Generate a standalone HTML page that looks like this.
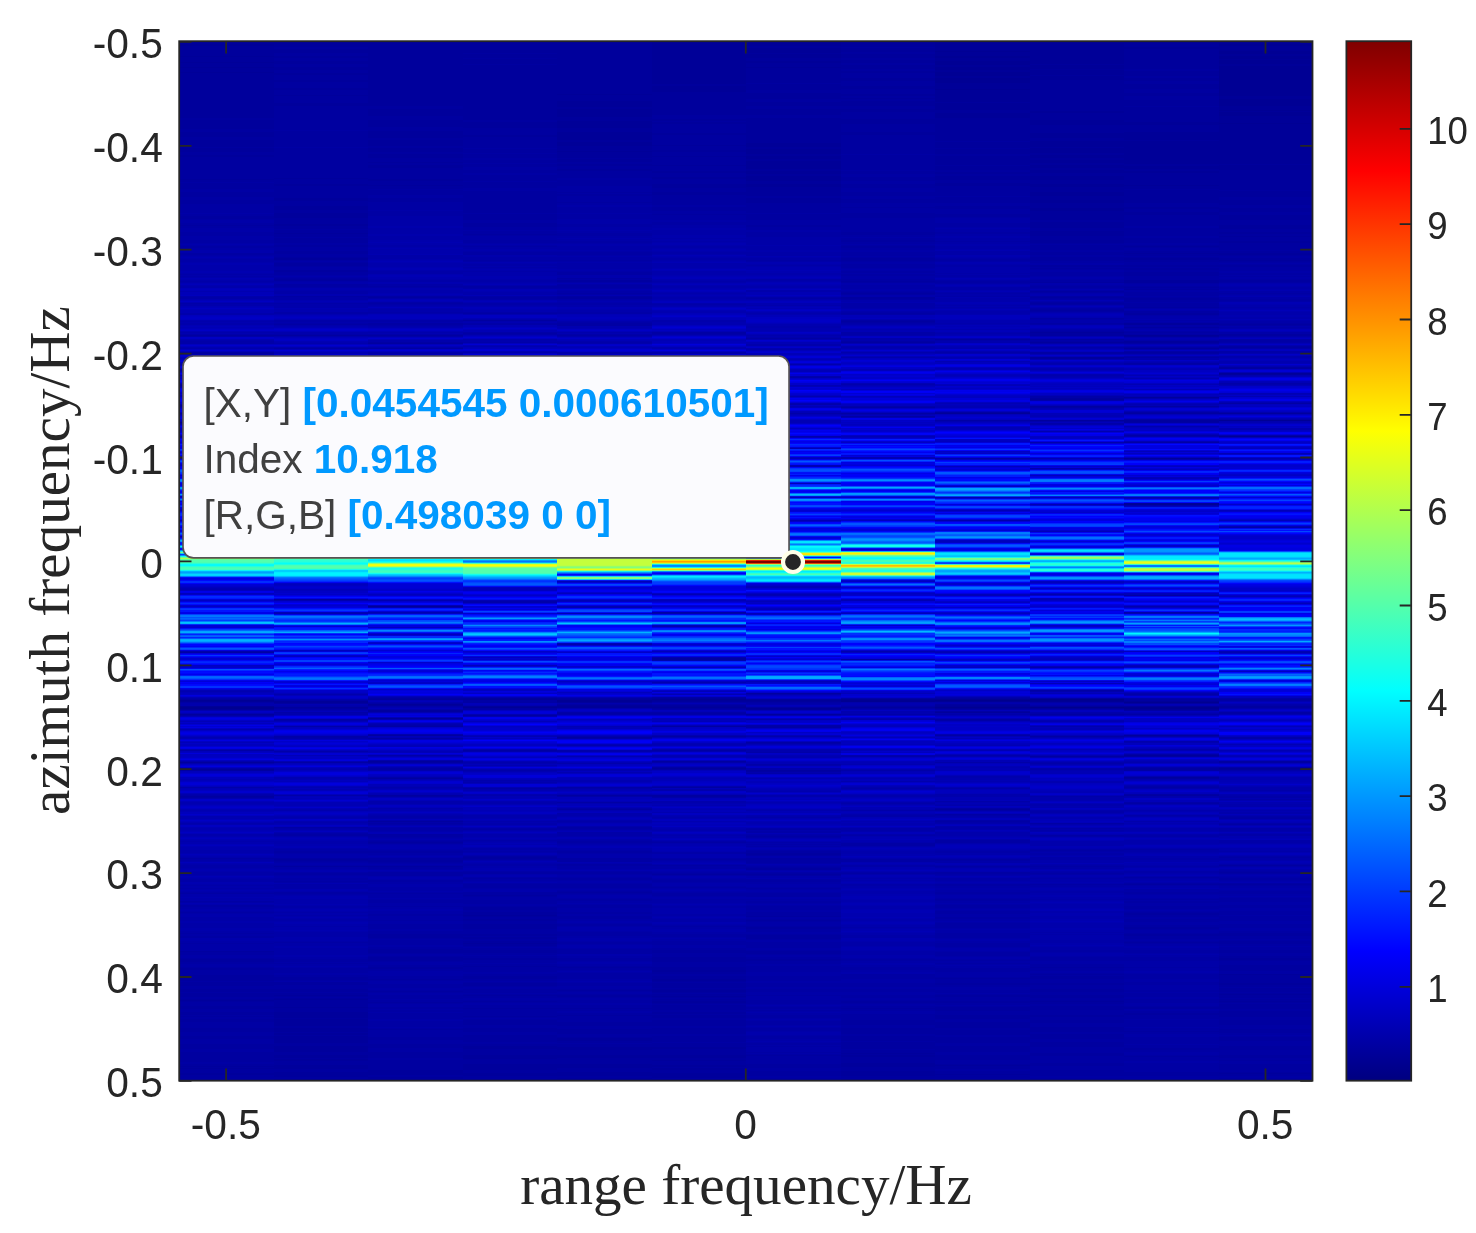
<!DOCTYPE html>
<html><head><meta charset="utf-8"><title>range frequency / azimuth frequency</title>
<style>html,body{margin:0;padding:0;background:#fff}svg{display:block}
.t{font-family:"Liberation Sans",sans-serif;font-size:40.7px;fill:#262626}
.c{font-size:36.6px}
.l{font-family:"Liberation Serif",serif;font-size:57.1px;fill:#262626}
.d{font-family:"Liberation Sans",sans-serif;font-size:40.5px;fill:#404040}
.d tspan{fill:#0099ff;font-weight:bold}
</style></head><body>
<svg width="1476" height="1233" viewBox="0 0 1476 1233">
<rect width="1476" height="1233" fill="#fff"/>
<g shape-rendering="crispEdges" fill="none" stroke-width="1">
<path stroke="#00008c" d="M935 700.5h94.5M1029.5 699.5h94.5M1029.5 707.5h94.5"/>
<path stroke="#000090" d="M179 422.5h94.5M935 707.5h94.5M1029.5 700.5h94.5M1124 702.5h94.5"/>
<path fill="#000090" d="M179 707h94.5v2h-94.5zM840.5 700h94.5v2h-94.5zM1124 707h94.5v2h-94.5z"/>
<path stroke="#000094" d="M179 700.5h94.5M462.5 413.5h94.5M462.5 707.5h94.5M651.5 421.5h94.5M651.5 699.5h94.5M746 708.5h94.5M840.5 699.5h94.5M935 51.5h94.5M935 89.5h94.5M935 699.5h94.5M935 701.5h94.5M1029.5 701.5h94.5M1124 504.5h94.5M1218.5 110.5h94M1218.5 123.5h94M1218.5 420.5h94M1218.5 436.5h94"/>
<path fill="#000094" d="M557 700h94.5v2h-94.5zM935 56h94.5v2h-94.5zM935 61h94.5v4h-94.5zM935 67h94.5v3h-94.5zM935 72h94.5v4h-94.5zM935 78h94.5v5h-94.5zM1218.5 44h94v2h-94zM1218.5 51h94v3h-94zM1218.5 56h94v3h-94zM1218.5 60h94v4h-94zM1218.5 66h94v30h-94zM1218.5 99h94v7h-94zM1218.5 112h94v4h-94z"/>
<path stroke="#000098" d="M179 56.5h94.5M179 62.5h94.5M179 67.5h94.5M179 72.5h94.5M179 436.5h94.5M179 701.5h94.5M179 706.5h94.5M179 709.5h94.5M368 606.5h94.5M368 704.5h94.5M368 718.5h94.5M462.5 699.5h94.5M557 94.5h94.5M557 151.5h94.5M651.5 700.5h94.5M651.5 707.5h94.5M746 67.5h94.5M746 700.5h94.5M746 709.5h94.5M935 413.5h94.5M935 706.5h94.5M935 708.5h94.5M1029.5 708.5h94.5M1124 185.5h94.5M1124 335.5h94.5M1124 458.5h94.5M1124 503.5h94.5M1124 701.5h94.5M1124 709.5h94.5M1124 755.5h94.5M1218.5 59.5h94M1218.5 111.5h94M1218.5 373.5h94M1218.5 768.5h94"/>
<path fill="#000098" d="M179 44h94.5v2h-94.5zM273.5 701h94.5v2h-94.5zM557 101h94.5v6h-94.5zM557 109h94.5v8h-94.5zM557 121h94.5v7h-94.5zM557 132h94.5v8h-94.5zM557 142h94.5v4h-94.5zM557 706h94.5v2h-94.5zM651.5 41h94.5v43h-94.5zM651.5 86h94.5v6h-94.5zM746 41h94.5v5h-94.5zM746 48h94.5v5h-94.5zM746 54h94.5v4h-94.5zM746 61h94.5v2h-94.5zM746 143h94.5v4h-94.5zM746 149h94.5v5h-94.5zM746 156h94.5v3h-94.5zM746 161h94.5v8h-94.5zM746 171h94.5v3h-94.5zM746 176h94.5v5h-94.5zM746 184h94.5v3h-94.5zM935 41h94.5v10h-94.5zM935 52h94.5v4h-94.5zM935 58h94.5v3h-94.5zM935 65h94.5v2h-94.5zM935 70h94.5v2h-94.5zM935 76h94.5v2h-94.5zM935 83h94.5v6h-94.5zM935 90h94.5v12h-94.5zM935 103h94.5v7h-94.5zM935 113h94.5v5h-94.5zM1029.5 41h94.5v23h-94.5zM1029.5 65h94.5v4h-94.5zM1029.5 70h94.5v5h-94.5zM1029.5 76h94.5v4h-94.5zM1029.5 111h94.5v2h-94.5zM1029.5 120h94.5v5h-94.5zM1029.5 133h94.5v5h-94.5zM1029.5 141h94.5v6h-94.5zM1029.5 148h94.5v5h-94.5zM1029.5 155h94.5v3h-94.5zM1029.5 160h94.5v3h-94.5zM1029.5 165h94.5v3h-94.5zM1029.5 170h94.5v3h-94.5zM1029.5 176h94.5v4h-94.5zM1029.5 184h94.5v3h-94.5zM1029.5 192h94.5v4h-94.5zM1029.5 200h94.5v3h-94.5zM1029.5 208h94.5v3h-94.5zM1124 41h94.5v2h-94.5zM1124 47h94.5v2h-94.5zM1124 122h94.5v3h-94.5zM1124 132h94.5v8h-94.5zM1124 141h94.5v23h-94.5zM1124 166h94.5v3h-94.5zM1124 171h94.5v2h-94.5zM1218.5 41h94v3h-94zM1218.5 46h94v5h-94zM1218.5 54h94v2h-94zM1218.5 64h94v2h-94zM1218.5 96h94v3h-94zM1218.5 106h94v4h-94zM1218.5 116h94v7h-94zM1218.5 124h94v40h-94zM1218.5 165h94v5h-94z"/>
<path stroke="#00009c" d="M179 179.5h94.5M179 385.5h94.5M179 405.5h94.5M179 423.5h94.5M179 714.5h94.5M179 762.5h94.5M179 769.5h94.5M179 1000.5h94.5M179 1066.5h94.5M179 1068.5h94.5M179 1080.5h94.5M273.5 95.5h94.5M273.5 178.5h94.5M273.5 233.5h94.5M273.5 422.5h94.5M273.5 707.5h94.5M273.5 995.5h94.5M273.5 999.5h94.5M273.5 1007.5h94.5M368 162.5h94.5M368 185.5h94.5M368 419.5h94.5M368 699.5h94.5M368 705.5h94.5M368 761.5h94.5M462.5 404.5h94.5M462.5 698.5h94.5M462.5 706.5h94.5M462.5 915.5h94.5M462.5 943.5h94.5M557 520.5h94.5M557 699.5h94.5M557 702.5h94.5M557 705.5h94.5M651.5 145.5h94.5M651.5 156.5h94.5M651.5 165.5h94.5M651.5 420.5h94.5M651.5 422.5h94.5M651.5 698.5h94.5M651.5 701.5h94.5M651.5 706.5h94.5M651.5 768.5h94.5M651.5 996.5h94.5M651.5 1060.5h94.5M746 53.5h94.5M746 701.5h94.5M746 714.5h94.5M840.5 98.5h94.5M840.5 707.5h94.5M840.5 1053.5h94.5M935 102.5h94.5M935 705.5h94.5M935 712.5h94.5M935 809.5h94.5M935 1065.5h94.5M935 1074.5h94.5M1029.5 64.5h94.5M1029.5 69.5h94.5M1029.5 75.5h94.5M1029.5 147.5h94.5M1029.5 332.5h94.5M1029.5 342.5h94.5M1029.5 399.5h94.5M1029.5 420.5h94.5M1029.5 706.5h94.5M1029.5 1001.5h94.5M1124 140.5h94.5M1124 246.5h94.5M1124 253.5h94.5M1124 336.5h94.5M1124 348.5h94.5M1124 397.5h94.5M1124 706.5h94.5M1124 735.5h94.5M1124 777.5h94.5M1218.5 164.5h94M1218.5 236.5h94M1218.5 260.5h94M1218.5 374.5h94M1218.5 413.5h94M1218.5 769.5h94M1218.5 974.5h94M1218.5 994.5h94M1218.5 1001.5h94M1218.5 1073.5h94"/>
<path fill="#00009c" d="M179 41h94.5v3h-94.5zM179 46h94.5v10h-94.5zM179 57h94.5v5h-94.5zM179 63h94.5v4h-94.5zM179 68h94.5v4h-94.5zM179 73h94.5v45h-94.5zM179 120h94.5v9h-94.5zM179 132h94.5v5h-94.5zM179 140h94.5v7h-94.5zM179 148h94.5v4h-94.5zM179 155h94.5v2h-94.5zM179 1073h94.5v2h-94.5zM273.5 41h94.5v6h-94.5zM273.5 49h94.5v4h-94.5zM273.5 56h94.5v2h-94.5zM273.5 61h94.5v3h-94.5zM273.5 67h94.5v3h-94.5zM273.5 73h94.5v2h-94.5zM273.5 80h94.5v2h-94.5zM273.5 88h94.5v2h-94.5zM273.5 103h94.5v3h-94.5zM273.5 184h94.5v2h-94.5zM273.5 198h94.5v3h-94.5zM273.5 206h94.5v4h-94.5zM273.5 213h94.5v5h-94.5zM273.5 224h94.5v2h-94.5zM273.5 258h94.5v2h-94.5zM273.5 1012h94.5v6h-94.5zM273.5 1019h94.5v7h-94.5zM273.5 1028h94.5v4h-94.5zM273.5 1033h94.5v2h-94.5zM273.5 1036h94.5v7h-94.5zM273.5 1046h94.5v6h-94.5zM273.5 1055h94.5v3h-94.5zM273.5 1059h94.5v2h-94.5zM273.5 1065h94.5v4h-94.5zM273.5 1072h94.5v5h-94.5zM273.5 1079h94.5v2h-94.5zM368 41h94.5v65h-94.5zM368 109h94.5v7h-94.5zM368 120h94.5v7h-94.5zM368 131h94.5v7h-94.5zM368 140h94.5v6h-94.5zM368 148h94.5v4h-94.5zM368 154h94.5v4h-94.5zM368 165h94.5v3h-94.5zM368 179h94.5v2h-94.5zM368 710h94.5v2h-94.5zM368 1070h94.5v5h-94.5zM368 1077h94.5v4h-94.5zM462.5 41h94.5v12h-94.5zM462.5 54h94.5v4h-94.5zM462.5 59h94.5v5h-94.5zM462.5 65h94.5v55h-94.5zM462.5 122h94.5v6h-94.5zM462.5 135h94.5v2h-94.5zM462.5 1046h94.5v3h-94.5zM462.5 1055h94.5v4h-94.5zM462.5 1064h94.5v6h-94.5zM462.5 1073h94.5v3h-94.5zM462.5 1079h94.5v2h-94.5zM557 41h94.5v53h-94.5zM557 95h94.5v6h-94.5zM557 107h94.5v2h-94.5zM557 117h94.5v4h-94.5zM557 128h94.5v4h-94.5zM557 140h94.5v2h-94.5zM557 146h94.5v5h-94.5zM557 152h94.5v6h-94.5zM557 159h94.5v3h-94.5zM557 164h94.5v2h-94.5zM557 169h94.5v2h-94.5zM557 1038h94.5v3h-94.5zM557 1047h94.5v3h-94.5zM557 1055h94.5v3h-94.5zM557 1064h94.5v4h-94.5zM557 1072h94.5v4h-94.5zM557 1078h94.5v3h-94.5zM651.5 84h94.5v2h-94.5zM651.5 92h94.5v23h-94.5zM651.5 119h94.5v2h-94.5zM651.5 122h94.5v2h-94.5zM651.5 133h94.5v2h-94.5zM651.5 150h94.5v2h-94.5zM651.5 171h94.5v2h-94.5zM651.5 177h94.5v2h-94.5zM651.5 184h94.5v4h-94.5zM651.5 192h94.5v3h-94.5zM651.5 970h94.5v2h-94.5zM651.5 979h94.5v2h-94.5zM651.5 990h94.5v2h-94.5zM651.5 1001h94.5v2h-94.5zM651.5 1047h94.5v2h-94.5zM651.5 1055h94.5v3h-94.5zM651.5 1065h94.5v2h-94.5zM651.5 1068h94.5v2h-94.5zM651.5 1073h94.5v5h-94.5zM651.5 1079h94.5v2h-94.5zM746 46h94.5v2h-94.5zM746 58h94.5v3h-94.5zM746 63h94.5v4h-94.5zM746 68h94.5v15h-94.5zM746 84h94.5v6h-94.5zM746 93h94.5v6h-94.5zM746 102h94.5v4h-94.5zM746 109h94.5v6h-94.5zM746 118h94.5v25h-94.5zM746 147h94.5v2h-94.5zM746 154h94.5v2h-94.5zM746 159h94.5v2h-94.5zM746 169h94.5v2h-94.5zM746 174h94.5v2h-94.5zM746 181h94.5v3h-94.5zM746 187h94.5v9h-94.5zM746 198h94.5v5h-94.5zM840.5 41h94.5v6h-94.5zM840.5 48h94.5v4h-94.5zM840.5 54h94.5v4h-94.5zM840.5 60h94.5v3h-94.5zM840.5 65h94.5v4h-94.5zM840.5 71h94.5v2h-94.5zM840.5 78h94.5v3h-94.5zM840.5 86h94.5v3h-94.5zM840.5 94h94.5v2h-94.5zM840.5 101h94.5v5h-94.5zM840.5 109h94.5v3h-94.5zM840.5 119h94.5v5h-94.5zM840.5 132h94.5v3h-94.5zM840.5 1055h94.5v2h-94.5zM840.5 1063h94.5v4h-94.5zM840.5 1071h94.5v5h-94.5zM840.5 1079h94.5v2h-94.5zM935 110h94.5v3h-94.5zM935 118h94.5v23h-94.5zM935 142h94.5v6h-94.5zM935 149h94.5v5h-94.5zM935 156h94.5v9h-94.5zM935 166h94.5v4h-94.5zM935 172h94.5v2h-94.5zM935 176h94.5v4h-94.5zM935 183h94.5v3h-94.5zM1029.5 80h94.5v31h-94.5zM1029.5 113h94.5v7h-94.5zM1029.5 125h94.5v8h-94.5zM1029.5 138h94.5v3h-94.5zM1029.5 153h94.5v2h-94.5zM1029.5 158h94.5v2h-94.5zM1029.5 163h94.5v2h-94.5zM1029.5 168h94.5v2h-94.5zM1029.5 173h94.5v3h-94.5zM1029.5 180h94.5v4h-94.5zM1029.5 187h94.5v5h-94.5zM1029.5 196h94.5v4h-94.5zM1029.5 203h94.5v5h-94.5zM1029.5 211h94.5v9h-94.5zM1029.5 222h94.5v6h-94.5zM1029.5 231h94.5v5h-94.5zM1029.5 240h94.5v3h-94.5zM1029.5 357h94.5v2h-94.5zM1124 43h94.5v4h-94.5zM1124 49h94.5v20h-94.5zM1124 71h94.5v5h-94.5zM1124 78h94.5v3h-94.5zM1124 84h94.5v5h-94.5zM1124 93h94.5v3h-94.5zM1124 100h94.5v6h-94.5zM1124 107h94.5v15h-94.5zM1124 125h94.5v7h-94.5zM1124 164h94.5v2h-94.5zM1124 169h94.5v2h-94.5zM1124 173h94.5v12h-94.5zM1124 186h94.5v3h-94.5zM1124 190h94.5v13h-94.5zM1124 207h94.5v2h-94.5zM1124 212h94.5v3h-94.5zM1124 258h94.5v2h-94.5zM1124 280h94.5v3h-94.5zM1124 323h94.5v2h-94.5zM1124 341h94.5v2h-94.5zM1124 420h94.5v2h-94.5zM1218.5 170h94v20h-94zM1218.5 191h94v6h-94zM1218.5 200h94v5h-94zM1218.5 208h94v4h-94zM1218.5 215h94v5h-94zM1218.5 225h94v4h-94zM1218.5 232h94v2h-94zM1218.5 241h94v2h-94zM1218.5 253h94v2h-94zM1218.5 958h94v2h-94zM1218.5 983h94v2h-94z"/>
<path stroke="#0000a0" d="M179 147.5h94.5M179 225.5h94.5M179 335.5h94.5M179 353.5h94.5M179 369.5h94.5M179 406.5h94.5M179 413.5h94.5M179 437.5h94.5M179 699.5h94.5M179 770.5h94.5M179 796.5h94.5M179 951.5h94.5M179 999.5h94.5M179 1001.5h94.5M179 1016.5h94.5M179 1067.5h94.5M273.5 257.5h94.5M273.5 335.5h94.5M273.5 599.5h94.5M273.5 703.5h94.5M273.5 708.5h94.5M273.5 866.5h94.5M273.5 996.5h94.5M273.5 998.5h94.5M273.5 1018.5h94.5M273.5 1032.5h94.5M273.5 1035.5h94.5M273.5 1058.5h94.5M368 297.5h94.5M368 335.5h94.5M368 343.5h94.5M368 420.5h94.5M368 698.5h94.5M368 735.5h94.5M368 762.5h94.5M368 778.5h94.5M368 795.5h94.5M368 821.5h94.5M368 842.5h94.5M368 866.5h94.5M368 979.5h94.5M368 991.5h94.5M368 1002.5h94.5M368 1029.5h94.5M462.5 53.5h94.5M462.5 58.5h94.5M462.5 64.5h94.5M462.5 234.5h94.5M462.5 320.5h94.5M462.5 405.5h94.5M462.5 421.5h94.5M462.5 708.5h94.5M462.5 715.5h94.5M462.5 750.5h94.5M462.5 895.5h94.5M462.5 916.5h94.5M462.5 966.5h94.5M462.5 995.5h94.5M462.5 1001.5h94.5M462.5 1008.5h94.5M462.5 1016.5h94.5M557 158.5h94.5M557 192.5h94.5M557 202.5h94.5M557 413.5h94.5M557 437.5h94.5M557 698.5h94.5M557 737.5h94.5M557 795.5h94.5M557 809.5h94.5M557 892.5h94.5M557 967.5h94.5M557 990.5h94.5M557 1008.5h94.5M557 1015.5h94.5M557 1037.5h94.5M651.5 121.5h94.5M651.5 214.5h94.5M651.5 705.5h94.5M651.5 708.5h94.5M651.5 726.5h94.5M651.5 750.5h94.5M651.5 761.5h94.5M651.5 787.5h94.5M651.5 874.5h94.5M651.5 981.5h94.5M651.5 989.5h94.5M651.5 992.5h94.5M651.5 997.5h94.5M651.5 1003.5h94.5M651.5 1067.5h94.5M651.5 1078.5h94.5M746 83.5h94.5M746 693.5h94.5M746 699.5h94.5M746 707.5h94.5M746 770.5h94.5M746 874.5h94.5M746 916.5h94.5M746 920.5h94.5M746 1055.5h94.5M840.5 47.5h94.5M840.5 207.5h94.5M840.5 281.5h94.5M840.5 293.5h94.5M840.5 321.5h94.5M840.5 342.5h94.5M840.5 659.5h94.5M840.5 1008.5h94.5M840.5 1054.5h94.5M935 141.5h94.5M935 148.5h94.5M935 165.5h94.5M935 339.5h94.5M935 412.5h94.5M935 698.5h94.5M935 704.5h94.5M935 978.5h94.5M935 1064.5h94.5M1029.5 243.5h94.5M1029.5 268.5h94.5M1029.5 282.5h94.5M1029.5 291.5h94.5M1029.5 297.5h94.5M1029.5 303.5h94.5M1029.5 310.5h94.5M1029.5 398.5h94.5M1029.5 406.5h94.5M1029.5 698.5h94.5M1029.5 714.5h94.5M1029.5 756.5h94.5M1029.5 967.5h94.5M1029.5 974.5h94.5M1029.5 1000.5h94.5M1124 106.5h94.5M1124 189.5h94.5M1124 245.5h94.5M1124 247.5h94.5M1124 257.5h94.5M1124 287.5h94.5M1124 289.5h94.5M1124 307.5h94.5M1124 327.5h94.5M1124 352.5h94.5M1124 413.5h94.5M1124 422.5h94.5M1124 703.5h94.5M1124 756.5h94.5M1124 778.5h94.5M1124 795.5h94.5M1124 884.5h94.5M1124 942.5h94.5M1124 1031.5h94.5M1124 1056.5h94.5M1218.5 190.5h94M1218.5 255.5h94M1218.5 261.5h94M1218.5 324.5h94M1218.5 347.5h94M1218.5 699.5h94M1218.5 865.5h94M1218.5 872.5h94M1218.5 884.5h94M1218.5 960.5h94M1218.5 993.5h94M1218.5 1002.5h94M1218.5 1060.5h94M1218.5 1072.5h94"/>
<path fill="#0000a0" d="M179 118h94.5v2h-94.5zM179 129h94.5v3h-94.5zM179 137h94.5v3h-94.5zM179 152h94.5v3h-94.5zM179 157h94.5v22h-94.5zM179 180h94.5v2h-94.5zM179 183h94.5v6h-94.5zM179 192h94.5v5h-94.5zM179 200h94.5v4h-94.5zM179 216h94.5v3h-94.5zM179 959h94.5v3h-94.5zM179 968h94.5v2h-94.5zM179 975h94.5v6h-94.5zM179 982h94.5v4h-94.5zM179 989h94.5v3h-94.5zM179 993h94.5v4h-94.5zM179 1006h94.5v3h-94.5zM179 1012h94.5v3h-94.5zM179 1019h94.5v3h-94.5zM179 1028h94.5v4h-94.5zM179 1036h94.5v3h-94.5zM179 1044h94.5v5h-94.5zM179 1052h94.5v10h-94.5zM179 1064h94.5v2h-94.5zM179 1069h94.5v4h-94.5zM179 1075h94.5v5h-94.5zM273.5 47h94.5v2h-94.5zM273.5 53h94.5v3h-94.5zM273.5 58h94.5v3h-94.5zM273.5 64h94.5v3h-94.5zM273.5 70h94.5v3h-94.5zM273.5 75h94.5v5h-94.5zM273.5 82h94.5v6h-94.5zM273.5 90h94.5v5h-94.5zM273.5 96h94.5v7h-94.5zM273.5 106h94.5v24h-94.5zM273.5 131h94.5v16h-94.5zM273.5 148h94.5v30h-94.5zM273.5 179h94.5v5h-94.5zM273.5 186h94.5v12h-94.5zM273.5 201h94.5v5h-94.5zM273.5 210h94.5v3h-94.5zM273.5 218h94.5v6h-94.5zM273.5 226h94.5v3h-94.5zM273.5 230h94.5v3h-94.5zM273.5 234h94.5v3h-94.5zM273.5 238h94.5v5h-94.5zM273.5 245h94.5v2h-94.5zM273.5 251h94.5v3h-94.5zM273.5 263h94.5v3h-94.5zM273.5 270h94.5v2h-94.5zM273.5 279h94.5v2h-94.5zM273.5 859h94.5v2h-94.5zM273.5 977h94.5v3h-94.5zM273.5 982h94.5v3h-94.5zM273.5 989h94.5v3h-94.5zM273.5 993h94.5v2h-94.5zM273.5 1000h94.5v7h-94.5zM273.5 1008h94.5v4h-94.5zM273.5 1026h94.5v2h-94.5zM273.5 1043h94.5v3h-94.5zM273.5 1052h94.5v3h-94.5zM273.5 1061h94.5v4h-94.5zM273.5 1069h94.5v3h-94.5zM273.5 1077h94.5v2h-94.5zM368 106h94.5v3h-94.5zM368 116h94.5v4h-94.5zM368 127h94.5v4h-94.5zM368 138h94.5v2h-94.5zM368 146h94.5v2h-94.5zM368 152h94.5v2h-94.5zM368 158h94.5v4h-94.5zM368 163h94.5v2h-94.5zM368 168h94.5v11h-94.5zM368 181h94.5v4h-94.5zM368 186h94.5v3h-94.5zM368 190h94.5v5h-94.5zM368 198h94.5v4h-94.5zM368 860h94.5v2h-94.5zM368 934h94.5v4h-94.5zM368 949h94.5v4h-94.5zM368 957h94.5v4h-94.5zM368 967h94.5v2h-94.5zM368 1037h94.5v3h-94.5zM368 1044h94.5v4h-94.5zM368 1052h94.5v6h-94.5zM368 1060h94.5v10h-94.5zM368 1075h94.5v2h-94.5zM462.5 120h94.5v2h-94.5zM462.5 128h94.5v7h-94.5zM462.5 137h94.5v11h-94.5zM462.5 149h94.5v4h-94.5zM462.5 154h94.5v4h-94.5zM462.5 160h94.5v3h-94.5zM462.5 164h94.5v3h-94.5zM462.5 170h94.5v3h-94.5zM462.5 175h94.5v6h-94.5zM462.5 182h94.5v6h-94.5zM462.5 191h94.5v22h-94.5zM462.5 214h94.5v6h-94.5zM462.5 223h94.5v4h-94.5zM462.5 857h94.5v2h-94.5zM462.5 907h94.5v3h-94.5zM462.5 912h94.5v3h-94.5zM462.5 919h94.5v2h-94.5zM462.5 924h94.5v5h-94.5zM462.5 934h94.5v2h-94.5zM462.5 937h94.5v2h-94.5zM462.5 941h94.5v2h-94.5zM462.5 944h94.5v2h-94.5zM462.5 950h94.5v3h-94.5zM462.5 958h94.5v2h-94.5zM462.5 976h94.5v3h-94.5zM462.5 983h94.5v3h-94.5zM462.5 1020h94.5v5h-94.5zM462.5 1028h94.5v4h-94.5zM462.5 1035h94.5v7h-94.5zM462.5 1044h94.5v2h-94.5zM462.5 1049h94.5v6h-94.5zM462.5 1059h94.5v5h-94.5zM462.5 1070h94.5v3h-94.5zM462.5 1076h94.5v3h-94.5zM557 162h94.5v2h-94.5zM557 166h94.5v3h-94.5zM557 171h94.5v7h-94.5zM557 180h94.5v6h-94.5zM557 194h94.5v2h-94.5zM557 280h94.5v2h-94.5zM557 297h94.5v2h-94.5zM557 995h94.5v2h-94.5zM557 1022h94.5v4h-94.5zM557 1029h94.5v5h-94.5zM557 1041h94.5v2h-94.5zM557 1044h94.5v3h-94.5zM557 1050h94.5v5h-94.5zM557 1058h94.5v6h-94.5zM557 1068h94.5v4h-94.5zM557 1076h94.5v2h-94.5zM651.5 115h94.5v4h-94.5zM651.5 124h94.5v9h-94.5zM651.5 135h94.5v10h-94.5zM651.5 146h94.5v4h-94.5zM651.5 152h94.5v4h-94.5zM651.5 157h94.5v8h-94.5zM651.5 166h94.5v5h-94.5zM651.5 173h94.5v4h-94.5zM651.5 179h94.5v5h-94.5zM651.5 188h94.5v4h-94.5zM651.5 195h94.5v10h-94.5zM651.5 207h94.5v4h-94.5zM651.5 658h94.5v2h-94.5zM651.5 795h94.5v2h-94.5zM651.5 950h94.5v3h-94.5zM651.5 957h94.5v5h-94.5zM651.5 967h94.5v3h-94.5zM651.5 972h94.5v2h-94.5zM651.5 976h94.5v3h-94.5zM651.5 983h94.5v5h-94.5zM651.5 994h94.5v2h-94.5zM651.5 999h94.5v2h-94.5zM651.5 1005h94.5v5h-94.5zM651.5 1012h94.5v2h-94.5zM651.5 1015h94.5v3h-94.5zM651.5 1020h94.5v6h-94.5zM651.5 1028h94.5v6h-94.5zM651.5 1036h94.5v6h-94.5zM651.5 1043h94.5v4h-94.5zM651.5 1049h94.5v6h-94.5zM651.5 1058h94.5v2h-94.5zM651.5 1061h94.5v4h-94.5zM651.5 1070h94.5v3h-94.5zM746 90h94.5v3h-94.5zM746 99h94.5v3h-94.5zM746 106h94.5v3h-94.5zM746 115h94.5v3h-94.5zM746 196h94.5v2h-94.5zM746 203h94.5v10h-94.5zM746 214h94.5v6h-94.5zM746 225h94.5v2h-94.5zM746 853h94.5v2h-94.5zM746 868h94.5v2h-94.5zM746 927h94.5v2h-94.5zM746 935h94.5v4h-94.5zM746 951h94.5v3h-94.5zM746 959h94.5v2h-94.5zM746 1064h94.5v4h-94.5zM746 1071h94.5v5h-94.5zM746 1078h94.5v3h-94.5zM840.5 52h94.5v2h-94.5zM840.5 58h94.5v2h-94.5zM840.5 63h94.5v2h-94.5zM840.5 69h94.5v2h-94.5zM840.5 73h94.5v5h-94.5zM840.5 81h94.5v5h-94.5zM840.5 89h94.5v5h-94.5zM840.5 96h94.5v2h-94.5zM840.5 99h94.5v2h-94.5zM840.5 106h94.5v3h-94.5zM840.5 112h94.5v7h-94.5zM840.5 124h94.5v8h-94.5zM840.5 135h94.5v19h-94.5zM840.5 155h94.5v15h-94.5zM840.5 171h94.5v3h-94.5zM840.5 177h94.5v4h-94.5zM840.5 184h94.5v4h-94.5zM840.5 192h94.5v4h-94.5zM840.5 199h94.5v4h-94.5zM840.5 213h94.5v5h-94.5zM840.5 232h94.5v3h-94.5zM840.5 240h94.5v2h-94.5zM840.5 246h94.5v2h-94.5zM840.5 258h94.5v3h-94.5zM840.5 297h94.5v2h-94.5zM840.5 1001h94.5v2h-94.5zM840.5 1020h94.5v5h-94.5zM840.5 1028h94.5v6h-94.5zM840.5 1036h94.5v5h-94.5zM840.5 1042h94.5v7h-94.5zM840.5 1050h94.5v3h-94.5zM840.5 1057h94.5v6h-94.5zM840.5 1067h94.5v4h-94.5zM840.5 1076h94.5v3h-94.5zM935 154h94.5v2h-94.5zM935 170h94.5v2h-94.5zM935 174h94.5v2h-94.5zM935 180h94.5v3h-94.5zM935 186h94.5v10h-94.5zM935 197h94.5v6h-94.5zM935 206h94.5v3h-94.5zM935 214h94.5v3h-94.5zM935 983h94.5v2h-94.5zM935 995h94.5v2h-94.5zM935 1001h94.5v2h-94.5zM935 1007h94.5v4h-94.5zM935 1015h94.5v4h-94.5zM935 1022h94.5v6h-94.5zM935 1030h94.5v5h-94.5zM935 1037h94.5v6h-94.5zM935 1046h94.5v6h-94.5zM935 1055h94.5v5h-94.5zM935 1066h94.5v3h-94.5zM935 1071h94.5v3h-94.5zM935 1075h94.5v6h-94.5zM1029.5 220h94.5v2h-94.5zM1029.5 228h94.5v3h-94.5zM1029.5 236h94.5v4h-94.5zM1029.5 245h94.5v5h-94.5zM1029.5 252h94.5v3h-94.5zM1029.5 257h94.5v4h-94.5zM1029.5 265h94.5v2h-94.5zM1029.5 333h94.5v3h-94.5zM1029.5 976h94.5v3h-94.5zM1029.5 983h94.5v2h-94.5zM1029.5 989h94.5v3h-94.5zM1029.5 995h94.5v3h-94.5zM1029.5 1002h94.5v2h-94.5zM1029.5 1006h94.5v4h-94.5zM1029.5 1015h94.5v2h-94.5zM1029.5 1020h94.5v3h-94.5zM1029.5 1027h94.5v5h-94.5zM1029.5 1034h94.5v5h-94.5zM1029.5 1042h94.5v5h-94.5zM1029.5 1053h94.5v3h-94.5zM1029.5 1063h94.5v3h-94.5zM1029.5 1070h94.5v6h-94.5zM1029.5 1078h94.5v3h-94.5zM1124 69h94.5v2h-94.5zM1124 76h94.5v2h-94.5zM1124 81h94.5v3h-94.5zM1124 89h94.5v4h-94.5zM1124 96h94.5v4h-94.5zM1124 203h94.5v4h-94.5zM1124 209h94.5v3h-94.5zM1124 215h94.5v11h-94.5zM1124 228h94.5v8h-94.5zM1124 238h94.5v5h-94.5zM1124 251h94.5v2h-94.5zM1124 254h94.5v2h-94.5zM1124 260h94.5v2h-94.5zM1124 265h94.5v2h-94.5zM1124 268h94.5v2h-94.5zM1124 272h94.5v4h-94.5zM1124 298h94.5v2h-94.5zM1124 313h94.5v2h-94.5zM1124 699h94.5v2h-94.5zM1124 768h94.5v2h-94.5zM1124 913h94.5v2h-94.5zM1124 927h94.5v2h-94.5zM1124 934h94.5v2h-94.5zM1124 1007h94.5v2h-94.5zM1124 1013h94.5v2h-94.5zM1124 1048h94.5v2h-94.5zM1124 1072h94.5v4h-94.5zM1124 1079h94.5v2h-94.5zM1218.5 197h94v3h-94zM1218.5 205h94v3h-94zM1218.5 212h94v3h-94zM1218.5 220h94v5h-94zM1218.5 229h94v3h-94zM1218.5 234h94v2h-94zM1218.5 237h94v4h-94zM1218.5 243h94v7h-94zM1218.5 251h94v2h-94zM1218.5 258h94v2h-94zM1218.5 265h94v2h-94zM1218.5 280h94v2h-94zM1218.5 334h94v2h-94zM1218.5 367h94v2h-94zM1218.5 706h94v2h-94zM1218.5 761h94v2h-94zM1218.5 933h94v3h-94zM1218.5 941h94v3h-94zM1218.5 950h94v3h-94zM1218.5 956h94v2h-94zM1218.5 965h94v6h-94zM1218.5 975h94v8h-94zM1218.5 985h94v2h-94zM1218.5 988h94v4h-94zM1218.5 995h94v3h-94zM1218.5 999h94v2h-94zM1218.5 1004h94v5h-94zM1218.5 1011h94v6h-94zM1218.5 1020h94v5h-94zM1218.5 1029h94v4h-94zM1218.5 1037h94v4h-94zM1218.5 1046h94v4h-94zM1218.5 1055h94v3h-94zM1218.5 1064h94v6h-94zM1218.5 1074h94v2h-94zM1218.5 1078h94v3h-94z"/>
<path stroke="#0000a4" d="M179 182.5h94.5M179 219.5h94.5M179 352.5h94.5M179 370.5h94.5M179 384.5h94.5M179 386.5h94.5M179 652.5h94.5M179 702.5h94.5M179 715.5h94.5M179 750.5h94.5M179 797.5h94.5M179 858.5h94.5M179 893.5h94.5M179 901.5h94.5M179 912.5h94.5M179 933.5h94.5M179 943.5h94.5M179 958.5h94.5M179 967.5h94.5M179 981.5h94.5M179 992.5h94.5M179 1015.5h94.5M273.5 130.5h94.5M273.5 147.5h94.5M273.5 229.5h94.5M273.5 237.5h94.5M273.5 260.5h94.5M273.5 262.5h94.5M273.5 266.5h94.5M273.5 278.5h94.5M273.5 296.5h94.5M273.5 324.5h94.5M273.5 348.5h94.5M273.5 363.5h94.5M273.5 413.5h94.5M273.5 468.5h94.5M273.5 700.5h94.5M273.5 762.5h94.5M273.5 827.5h94.5M273.5 858.5h94.5M273.5 861.5h94.5M273.5 881.5h94.5M273.5 942.5h94.5M273.5 963.5h94.5M273.5 980.5h94.5M273.5 992.5h94.5M273.5 997.5h94.5M368 189.5h94.5M368 286.5h94.5M368 296.5h94.5M368 303.5h94.5M368 342.5h94.5M368 348.5h94.5M368 385.5h94.5M368 458.5h94.5M368 703.5h94.5M368 726.5h94.5M368 738.5h94.5M368 796.5h94.5M368 823.5h94.5M368 841.5h94.5M368 843.5h94.5M368 862.5h94.5M368 893.5h94.5M368 906.5h94.5M368 920.5h94.5M368 938.5h94.5M368 953.5h94.5M368 956.5h94.5M368 961.5h94.5M368 980.5h94.5M368 990.5h94.5M368 992.5h94.5M368 1003.5h94.5M368 1028.5h94.5M462.5 148.5h94.5M462.5 153.5h94.5M462.5 163.5h94.5M462.5 181.5h94.5M462.5 213.5h94.5M462.5 235.5h94.5M462.5 246.5h94.5M462.5 260.5h94.5M462.5 313.5h94.5M462.5 333.5h94.5M462.5 709.5h94.5M462.5 788.5h94.5M462.5 829.5h94.5M462.5 856.5h94.5M462.5 859.5h94.5M462.5 878.5h94.5M462.5 896.5h94.5M462.5 906.5h94.5M462.5 936.5h94.5M462.5 946.5h94.5M462.5 982.5h94.5M462.5 986.5h94.5M462.5 994.5h94.5M462.5 1000.5h94.5M462.5 1002.5h94.5M462.5 1017.5h94.5M462.5 1019.5h94.5M557 193.5h94.5M557 260.5h94.5M557 278.5h94.5M557 293.5h94.5M557 296.5h94.5M557 335.5h94.5M557 388.5h94.5M557 414.5h94.5M557 422.5h94.5M557 704.5h94.5M557 713.5h94.5M557 787.5h94.5M557 802.5h94.5M557 891.5h94.5M557 893.5h94.5M557 966.5h94.5M557 989.5h94.5M557 991.5h94.5M557 994.5h94.5M557 997.5h94.5M557 1043.5h94.5M651.5 385.5h94.5M651.5 403.5h94.5M651.5 612.5h94.5M651.5 697.5h94.5M651.5 713.5h94.5M651.5 736.5h94.5M651.5 767.5h94.5M651.5 769.5h94.5M651.5 842.5h94.5M651.5 859.5h94.5M651.5 865.5h94.5M651.5 873.5h94.5M651.5 887.5h94.5M651.5 926.5h94.5M651.5 982.5h94.5M651.5 988.5h94.5M651.5 993.5h94.5M651.5 998.5h94.5M651.5 1004.5h94.5M651.5 1014.5h94.5M651.5 1042.5h94.5M746 213.5h94.5M746 260.5h94.5M746 298.5h94.5M746 338.5h94.5M746 702.5h94.5M746 742.5h94.5M746 771.5h94.5M746 829.5h94.5M746 836.5h94.5M746 855.5h94.5M746 867.5h94.5M746 873.5h94.5M746 875.5h94.5M746 888.5h94.5M746 919.5h94.5M746 921.5h94.5M746 926.5h94.5M746 934.5h94.5M746 939.5h94.5M746 950.5h94.5M746 954.5h94.5M746 995.5h94.5M746 1010.5h94.5M746 1046.5h94.5M746 1052.5h94.5M746 1054.5h94.5M840.5 154.5h94.5M840.5 170.5h94.5M840.5 245.5h94.5M840.5 257.5h94.5M840.5 261.5h94.5M840.5 282.5h94.5M840.5 292.5h94.5M840.5 294.5h94.5M840.5 299.5h94.5M840.5 313.5h94.5M840.5 320.5h94.5M840.5 322.5h94.5M840.5 341.5h94.5M840.5 407.5h94.5M840.5 413.5h94.5M840.5 416.5h94.5M840.5 698.5h94.5M840.5 706.5h94.5M840.5 708.5h94.5M840.5 873.5h94.5M840.5 1000.5h94.5M840.5 1003.5h94.5M840.5 1041.5h94.5M840.5 1049.5h94.5M935 196.5h94.5M935 217.5h94.5M935 241.5h94.5M935 420.5h94.5M935 458.5h94.5M935 520.5h94.5M935 709.5h94.5M935 711.5h94.5M935 735.5h94.5M935 808.5h94.5M935 810.5h94.5M935 814.5h94.5M935 821.5h94.5M935 866.5h94.5M935 960.5h94.5M935 963.5h94.5M935 977.5h94.5M935 994.5h94.5M935 1006.5h94.5M1029.5 244.5h94.5M1029.5 267.5h94.5M1029.5 269.5h94.5M1029.5 292.5h94.5M1029.5 296.5h94.5M1029.5 298.5h94.5M1029.5 302.5h94.5M1029.5 304.5h94.5M1029.5 309.5h94.5M1029.5 311.5h94.5M1029.5 318.5h94.5M1029.5 323.5h94.5M1029.5 331.5h94.5M1029.5 339.5h94.5M1029.5 341.5h94.5M1029.5 407.5h94.5M1029.5 690.5h94.5M1029.5 702.5h94.5M1029.5 736.5h94.5M1029.5 823.5h94.5M1029.5 835.5h94.5M1029.5 850.5h94.5M1029.5 866.5h94.5M1029.5 873.5h94.5M1029.5 884.5h94.5M1029.5 973.5h94.5M1029.5 975.5h94.5M1124 256.5h94.5M1124 267.5h94.5M1124 283.5h94.5M1124 286.5h94.5M1124 288.5h94.5M1124 297.5h94.5M1124 332.5h94.5M1124 334.5h94.5M1124 343.5h94.5M1124 347.5h94.5M1124 353.5h94.5M1124 357.5h94.5M1124 363.5h94.5M1124 406.5h94.5M1124 412.5h94.5M1124 435.5h94.5M1124 442.5h94.5M1124 595.5h94.5M1124 710.5h94.5M1124 714.5h94.5M1124 754.5h94.5M1124 770.5h94.5M1124 787.5h94.5M1124 794.5h94.5M1124 803.5h94.5M1124 849.5h94.5M1124 877.5h94.5M1124 883.5h94.5M1124 899.5h94.5M1124 912.5h94.5M1124 929.5h94.5M1124 933.5h94.5M1124 941.5h94.5M1124 943.5h94.5M1124 967.5h94.5M1124 1006.5h94.5M1124 1055.5h94.5M1218.5 250.5h94M1218.5 262.5h94M1218.5 264.5h94M1218.5 276.5h94M1218.5 279.5h94M1218.5 282.5h94M1218.5 293.5h94M1218.5 323.5h94M1218.5 325.5h94M1218.5 346.5h94M1218.5 403.5h94M1218.5 700.5h94M1218.5 767.5h94M1218.5 824.5h94M1218.5 857.5h94M1218.5 871.5h94M1218.5 873.5h94M1218.5 883.5h94M1218.5 885.5h94M1218.5 940.5h94M1218.5 987.5h94M1218.5 992.5h94M1218.5 998.5h94M1218.5 1003.5h94M1218.5 1036.5h94"/>
<path fill="#0000a4" d="M179 189h94.5v3h-94.5zM179 197h94.5v3h-94.5zM179 204h94.5v9h-94.5zM179 214h94.5v2h-94.5zM179 223h94.5v2h-94.5zM179 226h94.5v2h-94.5zM179 232h94.5v4h-94.5zM179 240h94.5v3h-94.5zM179 246h94.5v2h-94.5zM179 253h94.5v2h-94.5zM179 905h94.5v2h-94.5zM179 936h94.5v2h-94.5zM179 952h94.5v3h-94.5zM179 962h94.5v2h-94.5zM179 970h94.5v5h-94.5zM179 986h94.5v3h-94.5zM179 997h94.5v2h-94.5zM179 1002h94.5v4h-94.5zM179 1009h94.5v3h-94.5zM179 1017h94.5v2h-94.5zM179 1022h94.5v6h-94.5zM179 1032h94.5v4h-94.5zM179 1039h94.5v5h-94.5zM179 1049h94.5v3h-94.5zM179 1062h94.5v2h-94.5zM273.5 243h94.5v2h-94.5zM273.5 247h94.5v4h-94.5zM273.5 254h94.5v3h-94.5zM273.5 272h94.5v3h-94.5zM273.5 284h94.5v3h-94.5zM273.5 834h94.5v2h-94.5zM273.5 851h94.5v2h-94.5zM273.5 873h94.5v2h-94.5zM273.5 892h94.5v2h-94.5zM273.5 959h94.5v3h-94.5zM273.5 968h94.5v5h-94.5zM273.5 975h94.5v2h-94.5zM273.5 985h94.5v4h-94.5zM368 195h94.5v3h-94.5zM368 202h94.5v8h-94.5zM368 211h94.5v5h-94.5zM368 323h94.5v2h-94.5zM368 768h94.5v2h-94.5zM368 834h94.5v3h-94.5zM368 851h94.5v2h-94.5zM368 858h94.5v2h-94.5zM368 867h94.5v2h-94.5zM368 872h94.5v4h-94.5zM368 880h94.5v2h-94.5zM368 900h94.5v3h-94.5zM368 914h94.5v2h-94.5zM368 924h94.5v5h-94.5zM368 931h94.5v3h-94.5zM368 940h94.5v5h-94.5zM368 947h94.5v2h-94.5zM368 965h94.5v2h-94.5zM368 969h94.5v2h-94.5zM368 976h94.5v3h-94.5zM368 984h94.5v4h-94.5zM368 995h94.5v4h-94.5zM368 1000h94.5v2h-94.5zM368 1007h94.5v2h-94.5zM368 1010h94.5v2h-94.5zM368 1013h94.5v6h-94.5zM368 1021h94.5v6h-94.5zM368 1030h94.5v7h-94.5zM368 1040h94.5v4h-94.5zM368 1048h94.5v4h-94.5zM368 1058h94.5v2h-94.5zM462.5 158h94.5v2h-94.5zM462.5 167h94.5v3h-94.5zM462.5 173h94.5v2h-94.5zM462.5 188h94.5v3h-94.5zM462.5 220h94.5v3h-94.5zM462.5 227h94.5v3h-94.5zM462.5 231h94.5v3h-94.5zM462.5 240h94.5v3h-94.5zM462.5 252h94.5v3h-94.5zM462.5 286h94.5v2h-94.5zM462.5 297h94.5v2h-94.5zM462.5 369h94.5v2h-94.5zM462.5 700h94.5v3h-94.5zM462.5 872h94.5v2h-94.5zM462.5 884h94.5v4h-94.5zM462.5 892h94.5v3h-94.5zM462.5 900h94.5v4h-94.5zM462.5 910h94.5v2h-94.5zM462.5 917h94.5v2h-94.5zM462.5 921h94.5v3h-94.5zM462.5 929h94.5v5h-94.5zM462.5 939h94.5v2h-94.5zM462.5 948h94.5v2h-94.5zM462.5 953h94.5v2h-94.5zM462.5 956h94.5v2h-94.5zM462.5 960h94.5v3h-94.5zM462.5 964h94.5v2h-94.5zM462.5 967h94.5v5h-94.5zM462.5 974h94.5v2h-94.5zM462.5 979h94.5v2h-94.5zM462.5 989h94.5v4h-94.5zM462.5 996h94.5v2h-94.5zM462.5 1005h94.5v3h-94.5zM462.5 1009h94.5v7h-94.5zM462.5 1025h94.5v3h-94.5zM462.5 1032h94.5v3h-94.5zM462.5 1042h94.5v2h-94.5zM557 178h94.5v2h-94.5zM557 186h94.5v6h-94.5zM557 196h94.5v6h-94.5zM557 203h94.5v2h-94.5zM557 207h94.5v6h-94.5zM557 214h94.5v5h-94.5zM557 224h94.5v3h-94.5zM557 233h94.5v3h-94.5zM557 241h94.5v2h-94.5zM557 252h94.5v3h-94.5zM557 272h94.5v3h-94.5zM557 285h94.5v3h-94.5zM557 323h94.5v3h-94.5zM557 827h94.5v2h-94.5zM557 841h94.5v2h-94.5zM557 851h94.5v2h-94.5zM557 858h94.5v4h-94.5zM557 864h94.5v2h-94.5zM557 872h94.5v2h-94.5zM557 878h94.5v2h-94.5zM557 884h94.5v4h-94.5zM557 899h94.5v2h-94.5zM557 905h94.5v3h-94.5zM557 912h94.5v2h-94.5zM557 916h94.5v3h-94.5zM557 924h94.5v2h-94.5zM557 932h94.5v4h-94.5zM557 942h94.5v2h-94.5zM557 949h94.5v5h-94.5zM557 958h94.5v3h-94.5zM557 968h94.5v2h-94.5zM557 973h94.5v6h-94.5zM557 983h94.5v3h-94.5zM557 1000h94.5v3h-94.5zM557 1005h94.5v3h-94.5zM557 1009h94.5v2h-94.5zM557 1013h94.5v2h-94.5zM557 1016h94.5v6h-94.5zM557 1026h94.5v3h-94.5zM557 1034h94.5v3h-94.5zM651.5 205h94.5v2h-94.5zM651.5 211h94.5v3h-94.5zM651.5 215h94.5v5h-94.5zM651.5 222h94.5v3h-94.5zM651.5 332h94.5v2h-94.5zM651.5 880h94.5v2h-94.5zM651.5 893h94.5v3h-94.5zM651.5 934h94.5v3h-94.5zM651.5 941h94.5v4h-94.5zM651.5 948h94.5v2h-94.5zM651.5 953h94.5v4h-94.5zM651.5 962h94.5v5h-94.5zM651.5 974h94.5v2h-94.5zM651.5 1010h94.5v2h-94.5zM651.5 1018h94.5v2h-94.5zM651.5 1026h94.5v2h-94.5zM651.5 1034h94.5v2h-94.5zM746 220h94.5v5h-94.5zM746 227h94.5v3h-94.5zM746 232h94.5v5h-94.5zM746 726h94.5v2h-94.5zM746 851h94.5v2h-94.5zM746 858h94.5v5h-94.5zM746 880h94.5v2h-94.5zM746 893h94.5v4h-94.5zM746 901h94.5v2h-94.5zM746 906h94.5v4h-94.5zM746 912h94.5v4h-94.5zM746 929h94.5v3h-94.5zM746 942h94.5v6h-94.5zM746 957h94.5v2h-94.5zM746 961h94.5v3h-94.5zM746 966h94.5v6h-94.5zM746 976h94.5v5h-94.5zM746 983h94.5v4h-94.5zM746 989h94.5v3h-94.5zM746 1000h94.5v4h-94.5zM746 1007h94.5v2h-94.5zM746 1015h94.5v3h-94.5zM746 1021h94.5v4h-94.5zM746 1028h94.5v3h-94.5zM746 1036h94.5v3h-94.5zM746 1043h94.5v2h-94.5zM746 1056h94.5v8h-94.5zM746 1068h94.5v3h-94.5zM746 1076h94.5v2h-94.5zM840.5 174h94.5v3h-94.5zM840.5 181h94.5v3h-94.5zM840.5 188h94.5v4h-94.5zM840.5 196h94.5v3h-94.5zM840.5 203h94.5v4h-94.5zM840.5 208h94.5v5h-94.5zM840.5 218h94.5v14h-94.5zM840.5 235h94.5v2h-94.5zM840.5 238h94.5v2h-94.5zM840.5 242h94.5v2h-94.5zM840.5 248h94.5v2h-94.5zM840.5 252h94.5v4h-94.5zM840.5 264h94.5v4h-94.5zM840.5 271h94.5v2h-94.5zM840.5 274h94.5v2h-94.5zM840.5 279h94.5v2h-94.5zM840.5 843h94.5v3h-94.5zM840.5 859h94.5v3h-94.5zM840.5 959h94.5v2h-94.5zM840.5 967h94.5v3h-94.5zM840.5 974h94.5v5h-94.5zM840.5 983h94.5v4h-94.5zM840.5 989h94.5v3h-94.5zM840.5 995h94.5v3h-94.5zM840.5 1006h94.5v2h-94.5zM840.5 1009h94.5v2h-94.5zM840.5 1014h94.5v6h-94.5zM840.5 1025h94.5v3h-94.5zM840.5 1034h94.5v2h-94.5zM935 203h94.5v3h-94.5zM935 209h94.5v5h-94.5zM935 223h94.5v4h-94.5zM935 232h94.5v2h-94.5zM935 259h94.5v2h-94.5zM935 281h94.5v2h-94.5zM935 719h94.5v2h-94.5zM935 840h94.5v3h-94.5zM935 859h94.5v2h-94.5zM935 872h94.5v2h-94.5zM935 884h94.5v2h-94.5zM935 892h94.5v2h-94.5zM935 899h94.5v2h-94.5zM935 905h94.5v3h-94.5zM935 911h94.5v3h-94.5zM935 917h94.5v2h-94.5zM935 923h94.5v5h-94.5zM935 933h94.5v5h-94.5zM935 943h94.5v4h-94.5zM935 952h94.5v4h-94.5zM935 968h94.5v4h-94.5zM935 979h94.5v4h-94.5zM935 985h94.5v2h-94.5zM935 990h94.5v3h-94.5zM935 997h94.5v4h-94.5zM935 1003h94.5v2h-94.5zM935 1011h94.5v4h-94.5zM935 1019h94.5v3h-94.5zM935 1028h94.5v2h-94.5zM935 1035h94.5v2h-94.5zM935 1043h94.5v3h-94.5zM935 1052h94.5v3h-94.5zM935 1060h94.5v4h-94.5zM935 1069h94.5v2h-94.5zM1029.5 250h94.5v2h-94.5zM1029.5 255h94.5v2h-94.5zM1029.5 261h94.5v2h-94.5zM1029.5 272h94.5v4h-94.5zM1029.5 280h94.5v2h-94.5zM1029.5 286h94.5v2h-94.5zM1029.5 352h94.5v2h-94.5zM1029.5 950h94.5v2h-94.5zM1029.5 957h94.5v4h-94.5zM1029.5 964h94.5v3h-94.5zM1029.5 968h94.5v3h-94.5zM1029.5 979h94.5v4h-94.5zM1029.5 985h94.5v4h-94.5zM1029.5 992h94.5v3h-94.5zM1029.5 998h94.5v2h-94.5zM1029.5 1004h94.5v2h-94.5zM1029.5 1010h94.5v5h-94.5zM1029.5 1017h94.5v3h-94.5zM1029.5 1023h94.5v4h-94.5zM1029.5 1032h94.5v2h-94.5zM1029.5 1039h94.5v3h-94.5zM1029.5 1047h94.5v6h-94.5zM1029.5 1056h94.5v7h-94.5zM1029.5 1066h94.5v4h-94.5zM1029.5 1076h94.5v2h-94.5zM1124 226h94.5v2h-94.5zM1124 236h94.5v2h-94.5zM1124 243h94.5v2h-94.5zM1124 248h94.5v3h-94.5zM1124 262h94.5v3h-94.5zM1124 270h94.5v2h-94.5zM1124 276h94.5v4h-94.5zM1124 292h94.5v4h-94.5zM1124 300h94.5v2h-94.5zM1124 303h94.5v4h-94.5zM1124 311h94.5v2h-94.5zM1124 892h94.5v2h-94.5zM1124 901h94.5v2h-94.5zM1124 906h94.5v3h-94.5zM1124 915h94.5v2h-94.5zM1124 919h94.5v3h-94.5zM1124 925h94.5v2h-94.5zM1124 936h94.5v3h-94.5zM1124 950h94.5v3h-94.5zM1124 957h94.5v4h-94.5zM1124 974h94.5v5h-94.5zM1124 982h94.5v3h-94.5zM1124 990h94.5v2h-94.5zM1124 993h94.5v4h-94.5zM1124 999h94.5v4h-94.5zM1124 1011h94.5v2h-94.5zM1124 1015h94.5v4h-94.5zM1124 1020h94.5v7h-94.5zM1124 1028h94.5v3h-94.5zM1124 1032h94.5v2h-94.5zM1124 1037h94.5v7h-94.5zM1124 1045h94.5v3h-94.5zM1124 1050h94.5v2h-94.5zM1124 1057h94.5v4h-94.5zM1124 1063h94.5v9h-94.5zM1124 1076h94.5v3h-94.5zM1218.5 256h94v2h-94zM1218.5 267h94v4h-94zM1218.5 273h94v2h-94zM1218.5 299h94v2h-94zM1218.5 340h94v2h-94zM1218.5 712h94v2h-94zM1218.5 817h94v2h-94zM1218.5 878h94v2h-94zM1218.5 891h94v3h-94zM1218.5 898h94v4h-94zM1218.5 905h94v3h-94zM1218.5 911h94v4h-94zM1218.5 916h94v5h-94zM1218.5 924h94v4h-94zM1218.5 931h94v2h-94zM1218.5 936h94v3h-94zM1218.5 944h94v2h-94zM1218.5 947h94v3h-94zM1218.5 953h94v3h-94zM1218.5 961h94v4h-94zM1218.5 971h94v3h-94zM1218.5 1009h94v2h-94zM1218.5 1017h94v3h-94zM1218.5 1025h94v4h-94zM1218.5 1033h94v2h-94zM1218.5 1041h94v5h-94zM1218.5 1050h94v5h-94zM1218.5 1058h94v2h-94zM1218.5 1061h94v3h-94zM1218.5 1070h94v2h-94zM1218.5 1076h94v2h-94z"/>
<path stroke="#0000a8" d="M179 213.5h94.5M179 243.5h94.5M179 245.5h94.5M179 255.5h94.5M179 274.5h94.5M179 276.5h94.5M179 281.5h94.5M179 303.5h94.5M179 334.5h94.5M179 336.5h94.5M179 698.5h94.5M179 768.5h94.5M179 787.5h94.5M179 795.5h94.5M179 885.5h94.5M179 888.5h94.5M179 892.5h94.5M179 902.5h94.5M179 911.5h94.5M179 913.5h94.5M273.5 261.5h94.5M273.5 275.5h94.5M273.5 277.5h94.5M273.5 281.5h94.5M273.5 287.5h94.5M273.5 303.5h94.5M273.5 323.5h94.5M273.5 334.5h94.5M273.5 393.5h94.5M273.5 430.5h94.5M273.5 706.5h94.5M273.5 709.5h94.5M273.5 712.5h94.5M273.5 726.5h94.5M273.5 751.5h94.5M273.5 795.5h94.5M273.5 828.5h94.5M273.5 833.5h94.5M273.5 853.5h94.5M273.5 862.5h94.5M273.5 865.5h94.5M273.5 872.5h94.5M273.5 875.5h94.5M273.5 882.5h94.5M273.5 894.5h94.5M273.5 912.5h94.5M273.5 915.5h94.5M273.5 926.5h94.5M273.5 941.5h94.5M273.5 962.5h94.5M273.5 967.5h94.5M273.5 981.5h94.5M368 210.5h94.5M368 287.5h94.5M368 298.5h94.5M368 302.5h94.5M368 304.5h94.5M368 312.5h94.5M368 325.5h94.5M368 334.5h94.5M368 336.5h94.5M368 353.5h94.5M368 394.5h94.5M368 459.5h94.5M368 697.5h94.5M368 706.5h94.5M368 725.5h94.5M368 755.5h94.5M368 777.5h94.5M368 822.5h94.5M368 824.5h94.5M368 837.5h94.5M368 840.5h94.5M368 850.5h94.5M368 863.5h94.5M368 865.5h94.5M368 869.5h94.5M368 892.5h94.5M368 899.5h94.5M368 939.5h94.5M368 999.5h94.5M368 1009.5h94.5M368 1012.5h94.5M368 1027.5h94.5M462.5 230.5h94.5M462.5 243.5h94.5M462.5 245.5h94.5M462.5 251.5h94.5M462.5 261.5h94.5M462.5 267.5h94.5M462.5 271.5h94.5M462.5 288.5h94.5M462.5 296.5h94.5M462.5 299.5h94.5M462.5 312.5h94.5M462.5 332.5h94.5M462.5 334.5h94.5M462.5 342.5h94.5M462.5 420.5h94.5M462.5 751.5h94.5M462.5 770.5h94.5M462.5 828.5h94.5M462.5 840.5h94.5M462.5 851.5h94.5M462.5 871.5h94.5M462.5 877.5h94.5M462.5 883.5h94.5M462.5 888.5h94.5M462.5 947.5h94.5M462.5 955.5h94.5M462.5 963.5h94.5M462.5 981.5h94.5M462.5 993.5h94.5M462.5 1018.5h94.5M557 213.5h94.5M557 243.5h94.5M557 251.5h94.5M557 255.5h94.5M557 261.5h94.5M557 271.5h94.5M557 279.5h94.5M557 282.5h94.5M557 284.5h94.5M557 288.5h94.5M557 294.5h94.5M557 299.5h94.5M557 322.5h94.5M557 334.5h94.5M557 342.5h94.5M557 365.5h94.5M557 387.5h94.5M557 712.5h94.5M557 714.5h94.5M557 738.5h94.5M557 788.5h94.5M557 796.5h94.5M557 808.5h94.5M557 821.5h94.5M557 829.5h94.5M557 840.5h94.5M557 843.5h94.5M557 850.5h94.5M557 853.5h94.5M557 871.5h94.5M557 874.5h94.5M557 877.5h94.5M557 880.5h94.5M557 883.5h94.5M557 888.5h94.5M557 890.5h94.5M557 894.5h94.5M557 898.5h94.5M557 904.5h94.5M557 923.5h94.5M557 926.5h94.5M557 931.5h94.5M557 941.5h94.5M557 944.5h94.5M557 948.5h94.5M557 961.5h94.5M557 970.5h94.5M557 972.5h94.5M557 982.5h94.5M651.5 238.5h94.5M651.5 241.5h94.5M651.5 281.5h94.5M651.5 304.5h94.5M651.5 334.5h94.5M651.5 369.5h94.5M651.5 386.5h94.5M651.5 413.5h94.5M651.5 702.5h94.5M651.5 704.5h94.5M651.5 709.5h94.5M651.5 712.5h94.5M651.5 714.5h94.5M651.5 762.5h94.5M651.5 797.5h94.5M651.5 841.5h94.5M651.5 858.5h94.5M651.5 860.5h94.5M651.5 872.5h94.5M651.5 875.5h94.5M651.5 879.5h94.5M651.5 882.5h94.5M651.5 886.5h94.5M651.5 888.5h94.5M651.5 892.5h94.5M651.5 896.5h94.5M651.5 925.5h94.5M651.5 937.5h94.5M746 261.5h94.5M746 265.5h94.5M746 297.5h94.5M746 377.5h94.5M746 413.5h94.5M746 703.5h94.5M746 725.5h94.5M746 743.5h94.5M746 752.5h94.5M746 764.5h94.5M746 773.5h94.5M746 817.5h94.5M746 828.5h94.5M746 835.5h94.5M746 837.5h94.5M746 842.5h94.5M746 844.5h94.5M746 846.5h94.5M746 850.5h94.5M746 863.5h94.5M746 866.5h94.5M746 872.5h94.5M746 879.5h94.5M746 887.5h94.5M746 889.5h94.5M746 892.5h94.5M746 903.5h94.5M746 905.5h94.5M746 1004.5h94.5M746 1006.5h94.5M746 1009.5h94.5M746 1011.5h94.5M746 1018.5h94.5M746 1020.5h94.5M746 1025.5h94.5M746 1027.5h94.5M746 1031.5h94.5M746 1035.5h94.5M746 1042.5h94.5M746 1045.5h94.5M746 1053.5h94.5M840.5 237.5h94.5M840.5 244.5h94.5M840.5 256.5h94.5M840.5 268.5h94.5M840.5 270.5h94.5M840.5 273.5h94.5M840.5 291.5h94.5M840.5 312.5h94.5M840.5 314.5h94.5M840.5 323.5h94.5M840.5 702.5h94.5M840.5 714.5h94.5M840.5 719.5h94.5M840.5 756.5h94.5M840.5 770.5h94.5M840.5 788.5h94.5M840.5 803.5h94.5M840.5 810.5h94.5M840.5 835.5h94.5M840.5 872.5h94.5M840.5 927.5h94.5M840.5 958.5h94.5M935 227.5h94.5M935 258.5h94.5M935 261.5h94.5M935 273.5h94.5M935 280.5h94.5M935 283.5h94.5M935 293.5h94.5M935 296.5h94.5M935 340.5h94.5M935 352.5h94.5M935 697.5h94.5M935 702.5h94.5M935 714.5h94.5M935 755.5h94.5M935 762.5h94.5M935 788.5h94.5M935 801.5h94.5M935 815.5h94.5M935 820.5h94.5M935 822.5h94.5M935 867.5h94.5M935 874.5h94.5M935 894.5h94.5M935 898.5h94.5M935 904.5h94.5M935 908.5h94.5M935 910.5h94.5M935 922.5h94.5M935 928.5h94.5M935 938.5h94.5M935 947.5h94.5M935 951.5h94.5M935 956.5h94.5M935 959.5h94.5M935 964.5h94.5M935 993.5h94.5M935 1005.5h94.5M1029.5 276.5h94.5M1029.5 279.5h94.5M1029.5 285.5h94.5M1029.5 288.5h94.5M1029.5 290.5h94.5M1029.5 299.5h94.5M1029.5 308.5h94.5M1029.5 319.5h94.5M1029.5 324.5h94.5M1029.5 330.5h94.5M1029.5 340.5h94.5M1029.5 343.5h94.5M1029.5 347.5h94.5M1029.5 400.5h94.5M1029.5 423.5h94.5M1029.5 667.5h94.5M1029.5 705.5h94.5M1029.5 709.5h94.5M1029.5 713.5h94.5M1029.5 763.5h94.5M1029.5 769.5h94.5M1029.5 796.5h94.5M1029.5 828.5h94.5M1029.5 830.5h94.5M1029.5 836.5h94.5M1029.5 849.5h94.5M1029.5 851.5h94.5M1029.5 865.5h94.5M1029.5 872.5h94.5M1029.5 874.5h94.5M1029.5 878.5h94.5M1029.5 899.5h94.5M1029.5 932.5h94.5M1029.5 934.5h94.5M1029.5 952.5h94.5M1029.5 956.5h94.5M1124 296.5h94.5M1124 302.5h94.5M1124 308.5h94.5M1124 315.5h94.5M1124 320.5h94.5M1124 322.5h94.5M1124 328.5h94.5M1124 331.5h94.5M1124 333.5h94.5M1124 340.5h94.5M1124 351.5h94.5M1124 364.5h94.5M1124 419.5h94.5M1124 505.5h94.5M1124 612.5h94.5M1124 694.5h94.5M1124 698.5h94.5M1124 736.5h94.5M1124 749.5h94.5M1124 767.5h94.5M1124 786.5h94.5M1124 802.5h94.5M1124 815.5h94.5M1124 866.5h94.5M1124 878.5h94.5M1124 885.5h94.5M1124 894.5h94.5M1124 898.5h94.5M1124 900.5h94.5M1124 909.5h94.5M1124 911.5h94.5M1124 953.5h94.5M1124 973.5h94.5M1124 992.5h94.5M1124 1019.5h94.5M1124 1027.5h94.5M1124 1044.5h94.5M1218.5 263.5h94M1218.5 275.5h94M1218.5 294.5h94M1218.5 301.5h94M1218.5 307.5h94M1218.5 327.5h94M1218.5 336.5h94M1218.5 339.5h94M1218.5 342.5h94M1218.5 348.5h94M1218.5 383.5h94M1218.5 419.5h94M1218.5 435.5h94M1218.5 527.5h94M1218.5 698.5h94M1218.5 705.5h94M1218.5 770.5h94M1218.5 790.5h94M1218.5 799.5h94M1218.5 816.5h94M1218.5 823.5h94M1218.5 851.5h94M1218.5 856.5h94M1218.5 864.5h94M1218.5 866.5h94M1218.5 870.5h94M1218.5 877.5h94M1218.5 880.5h94M1218.5 890.5h94M1218.5 897.5h94M1218.5 915.5h94M1218.5 939.5h94M1218.5 946.5h94M1218.5 1035.5h94"/>
<path fill="#0000a8" d="M179 220h94.5v3h-94.5zM179 228h94.5v4h-94.5zM179 236h94.5v4h-94.5zM179 248h94.5v2h-94.5zM179 259h94.5v3h-94.5zM179 297h94.5v2h-94.5zM179 341h94.5v3h-94.5zM179 859h94.5v2h-94.5zM179 865h94.5v3h-94.5zM179 872h94.5v3h-94.5zM179 879h94.5v3h-94.5zM179 907h94.5v2h-94.5zM179 917h94.5v4h-94.5zM179 923h94.5v5h-94.5zM179 931h94.5v2h-94.5zM179 934h94.5v2h-94.5zM179 941h94.5v2h-94.5zM179 944h94.5v7h-94.5zM179 955h94.5v3h-94.5zM179 964h94.5v3h-94.5zM273.5 267h94.5v3h-94.5zM273.5 291h94.5v3h-94.5zM273.5 297h94.5v3h-94.5zM273.5 312h94.5v2h-94.5zM273.5 320h94.5v2h-94.5zM273.5 375h94.5v2h-94.5zM273.5 719h94.5v2h-94.5zM273.5 736h94.5v2h-94.5zM273.5 849h94.5v2h-94.5zM273.5 867h94.5v2h-94.5zM273.5 878h94.5v3h-94.5zM273.5 884h94.5v5h-94.5zM273.5 906h94.5v2h-94.5zM273.5 919h94.5v2h-94.5zM273.5 932h94.5v5h-94.5zM273.5 943h94.5v3h-94.5zM273.5 948h94.5v7h-94.5zM273.5 957h94.5v2h-94.5zM273.5 964h94.5v2h-94.5zM273.5 973h94.5v2h-94.5zM368 216h94.5v10h-94.5zM368 228h94.5v6h-94.5zM368 236h94.5v4h-94.5zM368 245h94.5v2h-94.5zM368 255h94.5v4h-94.5zM368 271h94.5v3h-94.5zM368 280h94.5v2h-94.5zM368 284h94.5v2h-94.5zM368 320h94.5v2h-94.5zM368 816h94.5v2h-94.5zM368 828h94.5v3h-94.5zM368 853h94.5v2h-94.5zM368 882h94.5v2h-94.5zM368 887h94.5v4h-94.5zM368 894h94.5v4h-94.5zM368 903h94.5v3h-94.5zM368 907h94.5v2h-94.5zM368 911h94.5v3h-94.5zM368 916h94.5v4h-94.5zM368 921h94.5v3h-94.5zM368 929h94.5v2h-94.5zM368 945h94.5v2h-94.5zM368 954h94.5v2h-94.5zM368 962h94.5v3h-94.5zM368 971h94.5v5h-94.5zM368 981h94.5v3h-94.5zM368 988h94.5v2h-94.5zM368 993h94.5v2h-94.5zM368 1004h94.5v3h-94.5zM368 1019h94.5v2h-94.5zM462.5 236h94.5v4h-94.5zM462.5 247h94.5v2h-94.5zM462.5 257h94.5v3h-94.5zM462.5 264h94.5v2h-94.5zM462.5 280h94.5v2h-94.5zM462.5 303h94.5v2h-94.5zM462.5 323h94.5v2h-94.5zM462.5 377h94.5v2h-94.5zM462.5 601h94.5v2h-94.5zM462.5 848h94.5v2h-94.5zM462.5 864h94.5v2h-94.5zM462.5 879h94.5v2h-94.5zM462.5 897h94.5v3h-94.5zM462.5 904h94.5v2h-94.5zM462.5 972h94.5v2h-94.5zM462.5 987h94.5v2h-94.5zM462.5 998h94.5v2h-94.5zM462.5 1003h94.5v2h-94.5zM557 205h94.5v2h-94.5zM557 219h94.5v5h-94.5zM557 227h94.5v3h-94.5zM557 231h94.5v2h-94.5zM557 236h94.5v2h-94.5zM557 239h94.5v2h-94.5zM557 246h94.5v4h-94.5zM557 257h94.5v3h-94.5zM557 263h94.5v6h-94.5zM557 291h94.5v2h-94.5zM557 303h94.5v2h-94.5zM557 312h94.5v2h-94.5zM557 369h94.5v2h-94.5zM557 750h94.5v2h-94.5zM557 832h94.5v4h-94.5zM557 866h94.5v3h-94.5zM557 901h94.5v2h-94.5zM557 908h94.5v4h-94.5zM557 914h94.5v2h-94.5zM557 919h94.5v2h-94.5zM557 936h94.5v2h-94.5zM557 956h94.5v2h-94.5zM557 964h94.5v2h-94.5zM557 979h94.5v2h-94.5zM557 986h94.5v3h-94.5zM557 992h94.5v2h-94.5zM557 998h94.5v2h-94.5zM557 1003h94.5v2h-94.5zM557 1011h94.5v2h-94.5zM651.5 220h94.5v2h-94.5zM651.5 225h94.5v3h-94.5zM651.5 230h94.5v5h-94.5zM651.5 246h94.5v2h-94.5zM651.5 252h94.5v2h-94.5zM651.5 258h94.5v2h-94.5zM651.5 852h94.5v2h-94.5zM651.5 866h94.5v3h-94.5zM651.5 899h94.5v4h-94.5zM651.5 906h94.5v2h-94.5zM651.5 914h94.5v2h-94.5zM651.5 919h94.5v3h-94.5zM651.5 927h94.5v2h-94.5zM651.5 932h94.5v2h-94.5zM651.5 939h94.5v2h-94.5zM651.5 945h94.5v3h-94.5zM746 230h94.5v2h-94.5zM746 237h94.5v8h-94.5zM746 246h94.5v4h-94.5zM746 252h94.5v4h-94.5zM746 258h94.5v2h-94.5zM746 279h94.5v2h-94.5zM746 831h94.5v2h-94.5zM746 882h94.5v2h-94.5zM746 899h94.5v2h-94.5zM746 910h94.5v2h-94.5zM746 917h94.5v2h-94.5zM746 922h94.5v4h-94.5zM746 932h94.5v2h-94.5zM746 940h94.5v2h-94.5zM746 948h94.5v2h-94.5zM746 955h94.5v2h-94.5zM746 964h94.5v2h-94.5zM746 972h94.5v4h-94.5zM746 981h94.5v2h-94.5zM746 987h94.5v2h-94.5zM746 992h94.5v3h-94.5zM746 996h94.5v4h-94.5zM746 1013h94.5v2h-94.5zM746 1039h94.5v2h-94.5zM746 1047h94.5v5h-94.5zM840.5 250h94.5v2h-94.5zM840.5 262h94.5v2h-94.5zM840.5 276h94.5v3h-94.5zM840.5 285h94.5v4h-94.5zM840.5 303h94.5v5h-94.5zM840.5 332h94.5v3h-94.5zM840.5 815h94.5v2h-94.5zM840.5 828h94.5v3h-94.5zM840.5 865h94.5v2h-94.5zM840.5 884h94.5v2h-94.5zM840.5 935h94.5v3h-94.5zM840.5 942h94.5v4h-94.5zM840.5 951h94.5v4h-94.5zM840.5 961h94.5v2h-94.5zM840.5 965h94.5v2h-94.5zM840.5 970h94.5v2h-94.5zM840.5 979h94.5v4h-94.5zM840.5 987h94.5v2h-94.5zM840.5 992h94.5v3h-94.5zM840.5 998h94.5v2h-94.5zM840.5 1004h94.5v2h-94.5zM840.5 1011h94.5v3h-94.5zM935 218h94.5v5h-94.5zM935 229h94.5v3h-94.5zM935 234h94.5v2h-94.5zM935 238h94.5v3h-94.5zM935 242h94.5v2h-94.5zM935 246h94.5v3h-94.5zM935 251h94.5v4h-94.5zM935 265h94.5v2h-94.5zM935 275h94.5v2h-94.5zM935 287h94.5v3h-94.5zM935 827h94.5v2h-94.5zM935 851h94.5v2h-94.5zM935 861h94.5v2h-94.5zM935 878h94.5v3h-94.5zM935 886h94.5v2h-94.5zM935 890h94.5v2h-94.5zM935 901h94.5v2h-94.5zM935 914h94.5v3h-94.5zM935 919h94.5v2h-94.5zM935 930h94.5v3h-94.5zM935 941h94.5v2h-94.5zM935 961h94.5v2h-94.5zM935 966h94.5v2h-94.5zM935 972h94.5v5h-94.5zM935 987h94.5v3h-94.5zM1029.5 263h94.5v2h-94.5zM1029.5 270h94.5v2h-94.5zM1029.5 396h94.5v2h-94.5zM1029.5 811h94.5v2h-94.5zM1029.5 853h94.5v2h-94.5zM1029.5 857h94.5v3h-94.5zM1029.5 867h94.5v2h-94.5zM1029.5 885h94.5v2h-94.5zM1029.5 891h94.5v2h-94.5zM1029.5 940h94.5v3h-94.5zM1029.5 947h94.5v3h-94.5zM1029.5 961h94.5v3h-94.5zM1029.5 971h94.5v2h-94.5zM1124 284h94.5v2h-94.5zM1124 290h94.5v2h-94.5zM1124 325h94.5v2h-94.5zM1124 835h94.5v2h-94.5zM1124 850h94.5v2h-94.5zM1124 858h94.5v2h-94.5zM1124 871h94.5v2h-94.5zM1124 889h94.5v3h-94.5zM1124 903h94.5v3h-94.5zM1124 917h94.5v2h-94.5zM1124 922h94.5v3h-94.5zM1124 930h94.5v3h-94.5zM1124 939h94.5v2h-94.5zM1124 944h94.5v2h-94.5zM1124 948h94.5v2h-94.5zM1124 955h94.5v2h-94.5zM1124 961h94.5v6h-94.5zM1124 968h94.5v3h-94.5zM1124 979h94.5v3h-94.5zM1124 985h94.5v5h-94.5zM1124 997h94.5v2h-94.5zM1124 1003h94.5v3h-94.5zM1124 1009h94.5v2h-94.5zM1124 1034h94.5v3h-94.5zM1124 1052h94.5v3h-94.5zM1124 1061h94.5v2h-94.5zM1218.5 271h94v2h-94zM1218.5 277h94v2h-94zM1218.5 287h94v2h-94zM1218.5 291h94v2h-94zM1218.5 297h94v2h-94zM1218.5 321h94v2h-94zM1218.5 332h94v2h-94zM1218.5 351h94v2h-94zM1218.5 737h94v2h-94zM1218.5 796h94v2h-94zM1218.5 828h94v3h-94zM1218.5 834h94v2h-94zM1218.5 840h94v3h-94zM1218.5 858h94v2h-94zM1218.5 886h94v2h-94zM1218.5 894h94v2h-94zM1218.5 902h94v3h-94zM1218.5 908h94v3h-94zM1218.5 921h94v3h-94zM1218.5 928h94v3h-94z"/>
<path stroke="#0000ac" d="M179 244.5h94.5M179 256.5h94.5M179 258.5h94.5M179 262.5h94.5M179 273.5h94.5M179 275.5h94.5M179 277.5h94.5M179 280.5h94.5M179 282.5h94.5M179 296.5h94.5M179 321.5h94.5M179 332.5h94.5M179 340.5h94.5M179 348.5h94.5M179 364.5h94.5M179 404.5h94.5M179 414.5h94.5M179 421.5h94.5M179 424.5h94.5M179 458.5h94.5M179 651.5h94.5M179 710.5h94.5M179 761.5h94.5M179 763.5h94.5M179 794.5h94.5M179 823.5h94.5M179 841.5h94.5M179 857.5h94.5M179 861.5h94.5M179 864.5h94.5M179 868.5h94.5M179 871.5h94.5M179 875.5h94.5M179 878.5h94.5M179 884.5h94.5M179 889.5h94.5M179 891.5h94.5M179 904.5h94.5M273.5 276.5h94.5M273.5 290.5h94.5M273.5 322.5h94.5M273.5 325.5h94.5M273.5 336.5h94.5M273.5 343.5h94.5M273.5 347.5h94.5M273.5 404.5h94.5M273.5 410.5h94.5M273.5 423.5h94.5M273.5 437.5h94.5M273.5 600.5h94.5M273.5 694.5h94.5M273.5 699.5h94.5M273.5 705.5h94.5M273.5 738.5h94.5M273.5 810.5h94.5M273.5 817.5h94.5M273.5 822.5h94.5M273.5 829.5h94.5M273.5 836.5h94.5M273.5 848.5h94.5M273.5 869.5h94.5M273.5 891.5h94.5M273.5 895.5h94.5M273.5 905.5h94.5M273.5 908.5h94.5M273.5 911.5h94.5M273.5 916.5h94.5M273.5 918.5h94.5M273.5 921.5h94.5M273.5 931.5h94.5M273.5 966.5h94.5M368 247.5h94.5M368 259.5h94.5M368 270.5h94.5M368 279.5h94.5M368 305.5h94.5M368 313.5h94.5M368 322.5h94.5M368 326.5h94.5M368 332.5h94.5M368 347.5h94.5M368 352.5h94.5M368 357.5h94.5M368 362.5h94.5M368 412.5h94.5M368 441.5h94.5M368 600.5h94.5M368 702.5h94.5M368 709.5h94.5M368 719.5h94.5M368 724.5h94.5M368 734.5h94.5M368 760.5h94.5M368 767.5h94.5M368 770.5h94.5M368 787.5h94.5M368 808.5h94.5M368 815.5h94.5M368 818.5h94.5M368 820.5h94.5M368 827.5h94.5M368 831.5h94.5M368 838.5h94.5M368 844.5h94.5M368 849.5h94.5M368 855.5h94.5M368 857.5h94.5M368 864.5h94.5M368 871.5h94.5M368 876.5h94.5M368 879.5h94.5M368 891.5h94.5M368 898.5h94.5M462.5 244.5h94.5M462.5 263.5h94.5M462.5 266.5h94.5M462.5 268.5h94.5M462.5 270.5h94.5M462.5 279.5h94.5M462.5 282.5h94.5M462.5 285.5h94.5M462.5 305.5h94.5M462.5 319.5h94.5M462.5 321.5h94.5M462.5 352.5h94.5M462.5 371.5h94.5M462.5 414.5h94.5M462.5 697.5h94.5M462.5 762.5h94.5M462.5 780.5h94.5M462.5 782.5h94.5M462.5 789.5h94.5M462.5 795.5h94.5M462.5 821.5h94.5M462.5 830.5h94.5M462.5 841.5h94.5M462.5 850.5h94.5M462.5 852.5h94.5M462.5 855.5h94.5M462.5 860.5h94.5M462.5 863.5h94.5M462.5 874.5h94.5M462.5 881.5h94.5M557 230.5h94.5M557 238.5h94.5M557 250.5h94.5M557 256.5h94.5M557 262.5h94.5M557 290.5h94.5M557 300.5h94.5M557 302.5h94.5M557 321.5h94.5M557 332.5h94.5M557 336.5h94.5M557 341.5h94.5M557 343.5h94.5M557 364.5h94.5M557 377.5h94.5M557 497.5h94.5M557 644.5h94.5M557 703.5h94.5M557 708.5h94.5M557 736.5h94.5M557 745.5h94.5M557 763.5h94.5M557 820.5h94.5M557 822.5h94.5M557 826.5h94.5M557 836.5h94.5M557 839.5h94.5M557 844.5h94.5M557 863.5h94.5M557 869.5h94.5M557 889.5h94.5M557 903.5h94.5M557 971.5h94.5M557 981.5h94.5M651.5 242.5h94.5M651.5 245.5h94.5M651.5 248.5h94.5M651.5 251.5h94.5M651.5 254.5h94.5M651.5 257.5h94.5M651.5 260.5h94.5M651.5 280.5h94.5M651.5 282.5h94.5M651.5 293.5h94.5M651.5 303.5h94.5M651.5 305.5h94.5M651.5 368.5h94.5M651.5 377.5h94.5M651.5 423.5h94.5M651.5 436.5h94.5M651.5 528.5h94.5M651.5 613.5h94.5M651.5 657.5h94.5M651.5 660.5h94.5M651.5 749.5h94.5M651.5 751.5h94.5M651.5 786.5h94.5M651.5 817.5h94.5M651.5 835.5h94.5M651.5 843.5h94.5M651.5 861.5h94.5M651.5 864.5h94.5M651.5 871.5h94.5M651.5 878.5h94.5M651.5 889.5h94.5M651.5 891.5h94.5M651.5 903.5h94.5M651.5 905.5h94.5M651.5 916.5h94.5M651.5 918.5h94.5M651.5 924.5h94.5M651.5 938.5h94.5M746 245.5h94.5M746 257.5h94.5M746 264.5h94.5M746 266.5h94.5M746 281.5h94.5M746 299.5h94.5M746 305.5h94.5M746 313.5h94.5M746 335.5h94.5M746 337.5h94.5M746 349.5h94.5M746 364.5h94.5M746 376.5h94.5M746 404.5h94.5M746 436.5h94.5M746 520.5h94.5M746 694.5h94.5M746 704.5h94.5M746 719.5h94.5M746 736.5h94.5M746 765.5h94.5M746 772.5h94.5M746 791.5h94.5M746 810.5h94.5M746 816.5h94.5M746 830.5h94.5M746 834.5h94.5M746 843.5h94.5M746 845.5h94.5M746 865.5h94.5M746 870.5h94.5M746 904.5h94.5M746 1005.5h94.5M746 1012.5h94.5M746 1019.5h94.5M746 1026.5h94.5M746 1041.5h94.5M840.5 269.5h94.5M840.5 308.5h94.5M840.5 311.5h94.5M840.5 324.5h94.5M840.5 335.5h94.5M840.5 347.5h94.5M840.5 352.5h94.5M840.5 357.5h94.5M840.5 384.5h94.5M840.5 406.5h94.5M840.5 651.5h94.5M840.5 705.5h94.5M840.5 755.5h94.5M840.5 781.5h94.5M840.5 787.5h94.5M840.5 802.5h94.5M840.5 814.5h94.5M840.5 831.5h94.5M840.5 834.5h94.5M840.5 842.5h94.5M840.5 846.5h94.5M840.5 858.5h94.5M840.5 874.5h94.5M840.5 878.5h94.5M840.5 880.5h94.5M840.5 928.5h94.5M840.5 941.5h94.5M840.5 946.5h94.5M840.5 950.5h94.5M935 228.5h94.5M935 249.5h94.5M935 257.5h94.5M935 264.5h94.5M935 274.5h94.5M935 277.5h94.5M935 292.5h94.5M935 305.5h94.5M935 307.5h94.5M935 323.5h94.5M935 333.5h94.5M935 703.5h94.5M935 713.5h94.5M935 805.5h94.5M935 816.5h94.5M935 823.5h94.5M935 826.5h94.5M935 829.5h94.5M935 839.5h94.5M935 843.5h94.5M935 850.5h94.5M935 858.5h94.5M935 865.5h94.5M935 875.5h94.5M935 881.5h94.5M935 883.5h94.5M935 903.5h94.5M935 909.5h94.5M935 921.5h94.5M935 929.5h94.5M935 965.5h94.5M1029.5 293.5h94.5M1029.5 301.5h94.5M1029.5 312.5h94.5M1029.5 329.5h94.5M1029.5 348.5h94.5M1029.5 363.5h94.5M1029.5 369.5h94.5M1029.5 375.5h94.5M1029.5 421.5h94.5M1029.5 424.5h94.5M1029.5 431.5h94.5M1029.5 442.5h94.5M1029.5 468.5h94.5M1029.5 594.5h94.5M1029.5 691.5h94.5M1029.5 712.5h94.5M1029.5 715.5h94.5M1029.5 721.5h94.5M1029.5 726.5h94.5M1029.5 762.5h94.5M1029.5 768.5h94.5M1029.5 810.5h94.5M1029.5 824.5h94.5M1029.5 829.5h94.5M1029.5 831.5h94.5M1029.5 852.5h94.5M1029.5 855.5h94.5M1029.5 864.5h94.5M1029.5 871.5h94.5M1029.5 877.5h94.5M1029.5 883.5h94.5M1029.5 887.5h94.5M1029.5 890.5h94.5M1029.5 900.5h94.5M1029.5 933.5h94.5M1029.5 946.5h94.5M1124 310.5h94.5M1124 321.5h94.5M1124 329.5h94.5M1124 337.5h94.5M1124 349.5h94.5M1124 356.5h94.5M1124 398.5h94.5M1124 426.5h94.5M1124 436.5h94.5M1124 459.5h94.5M1124 497.5h94.5M1124 606.5h94.5M1124 693.5h94.5M1124 713.5h94.5M1124 741.5h94.5M1124 762.5h94.5M1124 779.5h94.5M1124 788.5h94.5M1124 796.5h94.5M1124 810.5h94.5M1124 816.5h94.5M1124 821.5h94.5M1124 834.5h94.5M1124 848.5h94.5M1124 852.5h94.5M1124 865.5h94.5M1124 867.5h94.5M1124 873.5h94.5M1124 876.5h94.5M1124 882.5h94.5M1124 910.5h94.5M1124 954.5h94.5M1218.5 283.5h94M1218.5 286.5h94M1218.5 289.5h94M1218.5 295.5h94M1218.5 308.5h94M1218.5 320.5h94M1218.5 326.5h94M1218.5 328.5h94M1218.5 375.5h94M1218.5 384.5h94M1218.5 412.5h94M1218.5 421.5h94M1218.5 458.5h94M1218.5 704.5h94M1218.5 708.5h94M1218.5 795.5h94M1218.5 810.5h94M1218.5 831.5h94M1218.5 843.5h94M1218.5 860.5h94M1218.5 869.5h94M1218.5 874.5h94M1218.5 876.5h94M1218.5 881.5h94M1218.5 896.5h94"/>
<path fill="#0000ac" d="M179 250h94.5v3h-94.5zM179 265h94.5v6h-94.5zM179 286h94.5v2h-94.5zM179 304h94.5v2h-94.5zM179 313h94.5v2h-94.5zM179 323h94.5v2h-94.5zM179 703h94.5v3h-94.5zM179 834h94.5v2h-94.5zM179 850h94.5v3h-94.5zM179 886h94.5v2h-94.5zM179 894h94.5v3h-94.5zM179 898h94.5v3h-94.5zM179 909h94.5v2h-94.5zM179 914h94.5v3h-94.5zM179 921h94.5v2h-94.5zM179 928h94.5v3h-94.5zM179 938h94.5v3h-94.5zM273.5 282h94.5v2h-94.5zM273.5 304h94.5v4h-94.5zM273.5 332h94.5v2h-94.5zM273.5 713h94.5v2h-94.5zM273.5 841h94.5v3h-94.5zM273.5 854h94.5v4h-94.5zM273.5 863h94.5v2h-94.5zM273.5 876h94.5v2h-94.5zM273.5 899h94.5v5h-94.5zM273.5 913h94.5v2h-94.5zM273.5 924h94.5v2h-94.5zM273.5 927h94.5v3h-94.5zM273.5 937h94.5v4h-94.5zM273.5 946h94.5v2h-94.5zM273.5 955h94.5v2h-94.5zM368 226h94.5v2h-94.5zM368 234h94.5v2h-94.5zM368 240h94.5v2h-94.5zM368 243h94.5v2h-94.5zM368 249h94.5v5h-94.5zM368 263h94.5v4h-94.5zM368 290h94.5v3h-94.5zM368 309h94.5v3h-94.5zM368 340h94.5v2h-94.5zM368 427h94.5v2h-94.5zM368 801h94.5v3h-94.5zM368 884h94.5v3h-94.5zM368 909h94.5v2h-94.5zM462.5 249h94.5v2h-94.5zM462.5 255h94.5v2h-94.5zM462.5 272h94.5v4h-94.5zM462.5 292h94.5v3h-94.5zM462.5 339h94.5v3h-94.5zM462.5 427h94.5v2h-94.5zM462.5 802h94.5v2h-94.5zM462.5 815h94.5v3h-94.5zM462.5 823h94.5v2h-94.5zM462.5 834h94.5v3h-94.5zM462.5 866h94.5v2h-94.5zM462.5 889h94.5v3h-94.5zM557 244h94.5v2h-94.5zM557 269h94.5v2h-94.5zM557 275h94.5v3h-94.5zM557 305h94.5v2h-94.5zM557 310h94.5v2h-94.5zM557 352h94.5v2h-94.5zM557 357h94.5v2h-94.5zM557 813h94.5v3h-94.5zM557 848h94.5v2h-94.5zM557 854h94.5v4h-94.5zM557 875h94.5v2h-94.5zM557 881h94.5v2h-94.5zM557 895h94.5v3h-94.5zM557 921h94.5v2h-94.5zM557 927h94.5v4h-94.5zM557 938h94.5v3h-94.5zM557 945h94.5v3h-94.5zM557 954h94.5v2h-94.5zM557 962h94.5v2h-94.5zM651.5 228h94.5v2h-94.5zM651.5 235h94.5v3h-94.5zM651.5 239h94.5v2h-94.5zM651.5 263h94.5v5h-94.5zM651.5 271h94.5v4h-94.5zM651.5 286h94.5v2h-94.5zM651.5 297h94.5v2h-94.5zM651.5 320h94.5v2h-94.5zM651.5 352h94.5v2h-94.5zM651.5 789h94.5v2h-94.5zM651.5 801h94.5v2h-94.5zM651.5 829h94.5v2h-94.5zM651.5 883h94.5v3h-94.5zM651.5 897h94.5v2h-94.5zM651.5 908h94.5v6h-94.5zM651.5 929h94.5v3h-94.5zM746 250h94.5v2h-94.5zM746 273h94.5v2h-94.5zM746 286h94.5v2h-94.5zM746 290h94.5v2h-94.5zM746 326h94.5v2h-94.5zM746 344h94.5v2h-94.5zM746 750h94.5v2h-94.5zM746 768h94.5v2h-94.5zM746 795h94.5v2h-94.5zM746 856h94.5v2h-94.5zM746 876h94.5v2h-94.5zM746 884h94.5v3h-94.5zM746 890h94.5v2h-94.5zM746 897h94.5v2h-94.5zM746 1032h94.5v3h-94.5zM840.5 283h94.5v2h-94.5zM840.5 289h94.5v2h-94.5zM840.5 295h94.5v2h-94.5zM840.5 300h94.5v2h-94.5zM840.5 338h94.5v3h-94.5zM840.5 795h94.5v2h-94.5zM840.5 851h94.5v3h-94.5zM840.5 886h94.5v2h-94.5zM840.5 891h94.5v3h-94.5zM840.5 900h94.5v2h-94.5zM840.5 906h94.5v3h-94.5zM840.5 919h94.5v2h-94.5zM840.5 925h94.5v2h-94.5zM840.5 933h94.5v2h-94.5zM840.5 955h94.5v3h-94.5zM840.5 963h94.5v2h-94.5zM840.5 972h94.5v2h-94.5zM935 236h94.5v2h-94.5zM935 244h94.5v2h-94.5zM935 267h94.5v6h-94.5zM935 294h94.5v2h-94.5zM935 298h94.5v4h-94.5zM935 311h94.5v3h-94.5zM935 341h94.5v2h-94.5zM935 776h94.5v2h-94.5zM935 794h94.5v3h-94.5zM935 832h94.5v4h-94.5zM935 853h94.5v2h-94.5zM935 888h94.5v2h-94.5zM935 895h94.5v3h-94.5zM935 939h94.5v2h-94.5zM935 948h94.5v3h-94.5zM935 957h94.5v2h-94.5zM1029.5 277h94.5v2h-94.5zM1029.5 283h94.5v2h-94.5zM1029.5 320h94.5v3h-94.5zM1029.5 797h94.5v3h-94.5zM1029.5 804h94.5v2h-94.5zM1029.5 841h94.5v5h-94.5zM1029.5 860h94.5v3h-94.5zM1029.5 879h94.5v3h-94.5zM1029.5 893h94.5v2h-94.5zM1029.5 897h94.5v2h-94.5zM1029.5 904h94.5v4h-94.5zM1029.5 911h94.5v2h-94.5zM1029.5 916h94.5v3h-94.5zM1029.5 923h94.5v5h-94.5zM1029.5 930h94.5v2h-94.5zM1029.5 935h94.5v5h-94.5zM1029.5 943h94.5v2h-94.5zM1029.5 953h94.5v3h-94.5zM1124 316h94.5v3h-94.5zM1124 358h94.5v2h-94.5zM1124 828h94.5v3h-94.5zM1124 840h94.5v4h-94.5zM1124 856h94.5v2h-94.5zM1124 860h94.5v2h-94.5zM1124 879h94.5v2h-94.5zM1124 886h94.5v2h-94.5zM1124 895h94.5v3h-94.5zM1124 946h94.5v2h-94.5zM1124 971h94.5v2h-94.5zM1218.5 305h94v2h-94zM1218.5 312h94v3h-94zM1218.5 317h94v2h-94zM1218.5 356h94v2h-94zM1218.5 787h94v3h-94zM1218.5 804h94v3h-94zM1218.5 812h94v2h-94zM1218.5 848h94v3h-94zM1218.5 888h94v2h-94z"/>
<path stroke="#0000b0" d="M179 257.5h94.5M179 279.5h94.5M179 285.5h94.5M179 291.5h94.5M179 299.5h94.5M179 320.5h94.5M179 322.5h94.5M179 333.5h94.5M179 347.5h94.5M179 354.5h94.5M179 358.5h94.5M179 371.5h94.5M179 375.5h94.5M179 387.5h94.5M179 407.5h94.5M179 589.5h94.5M179 691.5h94.5M179 713.5h94.5M179 729.5h94.5M179 737.5h94.5M179 798.5h94.5M179 810.5h94.5M179 824.5h94.5M179 836.5h94.5M179 840.5h94.5M179 853.5h94.5M179 856.5h94.5M179 863.5h94.5M179 877.5h94.5M179 890.5h94.5M179 897.5h94.5M179 903.5h94.5M273.5 300.5h94.5M273.5 302.5h94.5M273.5 314.5h94.5M273.5 326.5h94.5M273.5 342.5h94.5M273.5 421.5h94.5M273.5 436.5h94.5M273.5 448.5h94.5M273.5 459.5h94.5M273.5 469.5h94.5M273.5 515.5h94.5M273.5 526.5h94.5M273.5 613.5h94.5M273.5 704.5h94.5M273.5 710.5h94.5M273.5 769.5h94.5M273.5 787.5h94.5M273.5 789.5h94.5M273.5 809.5h94.5M273.5 816.5h94.5M273.5 818.5h94.5M273.5 821.5h94.5M273.5 823.5h94.5M273.5 832.5h94.5M273.5 840.5h94.5M273.5 883.5h94.5M273.5 904.5h94.5M273.5 917.5h94.5M273.5 930.5h94.5M368 242.5h94.5M368 248.5h94.5M368 254.5h94.5M368 260.5h94.5M368 262.5h94.5M368 267.5h94.5M368 274.5h94.5M368 293.5h94.5M368 295.5h94.5M368 306.5h94.5M368 308.5h94.5M368 327.5h94.5M368 333.5h94.5M368 358.5h94.5M368 386.5h94.5M368 451.5h94.5M368 607.5h94.5M368 612.5h94.5M368 707.5h94.5M368 712.5h94.5M368 763.5h94.5M368 779.5h94.5M368 788.5h94.5M368 794.5h94.5M368 814.5h94.5M368 825.5h94.5M368 839.5h94.5M368 856.5h94.5M368 870.5h94.5M462.5 262.5h94.5M462.5 269.5h94.5M462.5 283.5h94.5M462.5 291.5h94.5M462.5 302.5h94.5M462.5 306.5h94.5M462.5 314.5h94.5M462.5 322.5h94.5M462.5 346.5h94.5M462.5 364.5h94.5M462.5 705.5h94.5M462.5 714.5h94.5M462.5 716.5h94.5M462.5 749.5h94.5M462.5 763.5h94.5M462.5 765.5h94.5M462.5 769.5h94.5M462.5 771.5h94.5M462.5 781.5h94.5M462.5 787.5h94.5M462.5 790.5h94.5M462.5 794.5h94.5M462.5 801.5h94.5M462.5 818.5h94.5M462.5 822.5h94.5M462.5 837.5h94.5M462.5 839.5h94.5M462.5 842.5h94.5M462.5 844.5h94.5M462.5 847.5h94.5M462.5 862.5h94.5M462.5 882.5h94.5M557 283.5h94.5M557 289.5h94.5M557 295.5h94.5M557 301.5h94.5M557 309.5h94.5M557 333.5h94.5M557 378.5h94.5M557 389.5h94.5M557 399.5h94.5M557 415.5h94.5M557 423.5h94.5M557 697.5h94.5M557 756.5h94.5M557 772.5h94.5M557 789.5h94.5M557 794.5h94.5M557 803.5h94.5M557 810.5h94.5M557 816.5h94.5M557 830.5h94.5M557 845.5h94.5M557 862.5h94.5M557 870.5h94.5M651.5 256.5h94.5M651.5 261.5h94.5M651.5 268.5h94.5M651.5 275.5h94.5M651.5 279.5h94.5M651.5 285.5h94.5M651.5 288.5h94.5M651.5 292.5h94.5M651.5 294.5h94.5M651.5 296.5h94.5M651.5 299.5h94.5M651.5 306.5h94.5M651.5 402.5h94.5M651.5 404.5h94.5M651.5 513.5h94.5M651.5 626.5h94.5M651.5 682.5h94.5M651.5 735.5h94.5M651.5 744.5h94.5M651.5 756.5h94.5M651.5 803.5h94.5M651.5 805.5h94.5M651.5 812.5h94.5M651.5 816.5h94.5M651.5 818.5h94.5M651.5 821.5h94.5M651.5 828.5h94.5M651.5 834.5h94.5M651.5 840.5h94.5M651.5 851.5h94.5M651.5 862.5h94.5M651.5 890.5h94.5M651.5 904.5h94.5M651.5 917.5h94.5M746 256.5h94.5M746 275.5h94.5M746 285.5h94.5M746 312.5h94.5M746 314.5h94.5M746 336.5h94.5M746 339.5h94.5M746 348.5h94.5M746 396.5h94.5M746 403.5h94.5M746 594.5h94.5M746 715.5h94.5M746 749.5h94.5M746 778.5h94.5M746 790.5h94.5M746 802.5h94.5M746 809.5h94.5M746 815.5h94.5M746 818.5h94.5M746 838.5h94.5M746 841.5h94.5M746 847.5h94.5M746 849.5h94.5M746 864.5h94.5M746 871.5h94.5M746 878.5h94.5M840.5 302.5h94.5M840.5 319.5h94.5M840.5 329.5h94.5M840.5 343.5h94.5M840.5 346.5h94.5M840.5 348.5h94.5M840.5 414.5h94.5M840.5 600.5h94.5M840.5 709.5h94.5M840.5 718.5h94.5M840.5 749.5h94.5M840.5 764.5h94.5M840.5 769.5h94.5M840.5 778.5h94.5M840.5 789.5h94.5M840.5 804.5h94.5M840.5 809.5h94.5M840.5 821.5h94.5M840.5 836.5h94.5M840.5 850.5h94.5M840.5 862.5h94.5M840.5 864.5h94.5M840.5 871.5h94.5M840.5 877.5h94.5M840.5 879.5h94.5M840.5 881.5h94.5M840.5 883.5h94.5M840.5 888.5h94.5M840.5 890.5h94.5M840.5 899.5h94.5M840.5 902.5h94.5M840.5 905.5h94.5M840.5 909.5h94.5M840.5 918.5h94.5M840.5 921.5h94.5M840.5 924.5h94.5M840.5 932.5h94.5M935 250.5h94.5M935 279.5h94.5M935 284.5h94.5M935 286.5h94.5M935 290.5h94.5M935 297.5h94.5M935 304.5h94.5M935 306.5h94.5M935 308.5h94.5M935 310.5h94.5M935 314.5h94.5M935 324.5h94.5M935 329.5h94.5M935 332.5h94.5M935 334.5h94.5M935 338.5h94.5M935 351.5h94.5M935 353.5h94.5M935 357.5h94.5M935 368.5h94.5M935 421.5h94.5M935 497.5h94.5M935 734.5h94.5M935 750.5h94.5M935 756.5h94.5M935 767.5h94.5M935 781.5h94.5M935 787.5h94.5M935 802.5h94.5M935 804.5h94.5M935 817.5h94.5M935 836.5h94.5M935 849.5h94.5M935 868.5h94.5M935 871.5h94.5M935 877.5h94.5M935 882.5h94.5M1029.5 289.5h94.5M1029.5 305.5h94.5M1029.5 307.5h94.5M1029.5 317.5h94.5M1029.5 336.5h94.5M1029.5 359.5h94.5M1029.5 364.5h94.5M1029.5 368.5h94.5M1029.5 374.5h94.5M1029.5 376.5h94.5M1029.5 408.5h94.5M1029.5 458.5h94.5M1029.5 504.5h94.5M1029.5 720.5h94.5M1029.5 737.5h94.5M1029.5 755.5h94.5M1029.5 757.5h94.5M1029.5 764.5h94.5M1029.5 770.5h94.5M1029.5 800.5h94.5M1029.5 813.5h94.5M1029.5 834.5h94.5M1029.5 848.5h94.5M1029.5 856.5h94.5M1029.5 869.5h94.5M1029.5 882.5h94.5M1029.5 901.5h94.5M1029.5 903.5h94.5M1029.5 908.5h94.5M1029.5 922.5h94.5M1029.5 945.5h94.5M1124 309.5h94.5M1124 319.5h94.5M1124 330.5h94.5M1124 339.5h94.5M1124 346.5h94.5M1124 362.5h94.5M1124 378.5h94.5M1124 404.5h94.5M1124 705.5h94.5M1124 742.5h94.5M1124 750.5h94.5M1124 761.5h94.5M1124 776.5h94.5M1124 785.5h94.5M1124 797.5h94.5M1124 804.5h94.5M1124 811.5h94.5M1124 823.5h94.5M1124 831.5h94.5M1124 837.5h94.5M1124 844.5h94.5M1124 853.5h94.5M1124 870.5h94.5M1124 874.5h94.5M1124 881.5h94.5M1124 888.5h94.5M1218.5 290.5h94M1218.5 296.5h94M1218.5 304.5h94M1218.5 309.5h94M1218.5 311.5h94M1218.5 345.5h94M1218.5 353.5h94M1218.5 366.5h94M1218.5 402.5h94M1218.5 422.5h94M1218.5 652.5h94M1218.5 701.5h94M1218.5 714.5h94M1218.5 750.5h94M1218.5 791.5h94M1218.5 794.5h94M1218.5 798.5h94M1218.5 800.5h94M1218.5 811.5h94M1218.5 815.5h94M1218.5 819.5h94M1218.5 825.5h94M1218.5 833.5h94M1218.5 852.5h94M1218.5 855.5h94M1218.5 863.5h94M1218.5 867.5h94M1218.5 875.5h94M1218.5 882.5h94"/>
<path fill="#0000b0" d="M179 263h94.5v2h-94.5zM179 271h94.5v2h-94.5zM179 802h94.5v2h-94.5zM179 816h94.5v3h-94.5zM179 828h94.5v2h-94.5zM179 842h94.5v2h-94.5zM179 847h94.5v3h-94.5zM179 869h94.5v2h-94.5zM179 882h94.5v2h-94.5zM273.5 288h94.5v2h-94.5zM273.5 294h94.5v2h-94.5zM273.5 309h94.5v3h-94.5zM273.5 368h94.5v2h-94.5zM273.5 411h94.5v2h-94.5zM273.5 777h94.5v2h-94.5zM273.5 844h94.5v2h-94.5zM273.5 870h94.5v2h-94.5zM273.5 889h94.5v2h-94.5zM273.5 896h94.5v3h-94.5zM273.5 909h94.5v2h-94.5zM273.5 922h94.5v2h-94.5zM368 277h94.5v2h-94.5zM368 282h94.5v2h-94.5zM368 288h94.5v2h-94.5zM368 809h94.5v2h-94.5zM368 845h94.5v4h-94.5zM368 877h94.5v2h-94.5zM462.5 276h94.5v3h-94.5zM462.5 310h94.5v2h-94.5zM462.5 357h94.5v2h-94.5zM462.5 868h94.5v3h-94.5zM462.5 875h94.5v2h-94.5zM557 326h94.5v2h-94.5zM557 606h94.5v2h-94.5zM557 769h94.5v2h-94.5zM557 780h94.5v2h-94.5zM651.5 243h94.5v2h-94.5zM651.5 249h94.5v2h-94.5zM651.5 311h94.5v2h-94.5zM651.5 322h94.5v3h-94.5zM651.5 347h94.5v2h-94.5zM651.5 836h94.5v2h-94.5zM651.5 844h94.5v2h-94.5zM651.5 854h94.5v4h-94.5zM651.5 869h94.5v2h-94.5zM651.5 876h94.5v2h-94.5zM651.5 922h94.5v2h-94.5zM746 262h94.5v2h-94.5zM746 267h94.5v3h-94.5zM746 271h94.5v2h-94.5zM746 303h94.5v2h-94.5zM746 324h94.5v2h-94.5zM746 328h94.5v3h-94.5zM746 756h94.5v2h-94.5zM746 822h94.5v2h-94.5zM840.5 703h94.5v2h-94.5zM840.5 711h94.5v3h-94.5zM840.5 823h94.5v2h-94.5zM840.5 840h94.5v2h-94.5zM840.5 854h94.5v2h-94.5zM840.5 867h94.5v2h-94.5zM840.5 894h94.5v2h-94.5zM840.5 913h94.5v4h-94.5zM840.5 929h94.5v2h-94.5zM840.5 938h94.5v3h-94.5zM840.5 947h94.5v3h-94.5zM935 255h94.5v2h-94.5zM935 262h94.5v2h-94.5zM935 320h94.5v3h-94.5zM935 347h94.5v2h-94.5zM935 778h94.5v2h-94.5zM1029.5 294h94.5v2h-94.5zM1029.5 703h94.5v2h-94.5zM1029.5 781h94.5v2h-94.5zM1029.5 806h94.5v2h-94.5zM1029.5 817h94.5v2h-94.5zM1029.5 875h94.5v2h-94.5zM1029.5 888h94.5v2h-94.5zM1029.5 895h94.5v2h-94.5zM1029.5 913h94.5v3h-94.5zM1029.5 919h94.5v2h-94.5zM1029.5 928h94.5v2h-94.5zM1124 863h94.5v2h-94.5zM1218.5 284h94v2h-94zM1218.5 315h94v2h-94zM1218.5 361h94v2h-94zM1218.5 428h94v2h-94zM1218.5 777h94v3h-94zM1218.5 802h94v2h-94zM1218.5 836h94v2h-94z"/>
<path stroke="#0000b4" d="M179 278.5h94.5M179 283.5h94.5M179 302.5h94.5M179 306.5h94.5M179 325.5h94.5M179 327.5h94.5M179 331.5h94.5M179 339.5h94.5M179 359.5h94.5M179 363.5h94.5M179 429.5h94.5M179 435.5h94.5M179 536.5h94.5M179 588.5h94.5M179 690.5h94.5M179 697.5h94.5M179 716.5h94.5M179 738.5h94.5M179 749.5h94.5M179 779.5h94.5M179 788.5h94.5M179 804.5h94.5M179 809.5h94.5M179 811.5h94.5M179 822.5h94.5M179 827.5h94.5M179 830.5h94.5M179 839.5h94.5M179 846.5h94.5M179 855.5h94.5M179 876.5h94.5M273.5 301.5h94.5M273.5 308.5h94.5M273.5 319.5h94.5M273.5 327.5h94.5M273.5 341.5h94.5M273.5 362.5h94.5M273.5 370.5h94.5M273.5 403.5h94.5M273.5 409.5h94.5M273.5 431.5h94.5M273.5 454.5h94.5M273.5 527.5h94.5M273.5 721.5h94.5M273.5 761.5h94.5M273.5 768.5h94.5M273.5 779.5h94.5M273.5 824.5h94.5M273.5 830.5h94.5M273.5 837.5h94.5M273.5 839.5h94.5M368 261.5h94.5M368 294.5h94.5M368 299.5h94.5M368 301.5h94.5M368 319.5h94.5M368 331.5h94.5M368 363.5h94.5M368 368.5h94.5M368 393.5h94.5M368 413.5h94.5M368 605.5h94.5M368 700.5h94.5M368 717.5h94.5M368 723.5h94.5M368 737.5h94.5M368 751.5h94.5M368 756.5h94.5M368 786.5h94.5M368 793.5h94.5M368 797.5h94.5M368 804.5h94.5M462.5 284.5h94.5M462.5 295.5h94.5M462.5 300.5h94.5M462.5 309.5h94.5M462.5 318.5h94.5M462.5 335.5h94.5M462.5 351.5h94.5M462.5 379.5h94.5M462.5 387.5h94.5M462.5 407.5h94.5M462.5 412.5h94.5M462.5 529.5h94.5M462.5 600.5h94.5M462.5 736.5h94.5M462.5 761.5h94.5M462.5 804.5h94.5M462.5 810.5h94.5M462.5 814.5h94.5M462.5 820.5h94.5M462.5 825.5h94.5M462.5 827.5h94.5M462.5 831.5h94.5M462.5 833.5h94.5M462.5 838.5h94.5M462.5 843.5h94.5M462.5 861.5h94.5M557 314.5h94.5M557 320.5h94.5M557 328.5h94.5M557 340.5h94.5M557 347.5h94.5M557 400.5h94.5M557 406.5h94.5M557 421.5h94.5M557 600.5h94.5M557 613.5h94.5M557 726.5h94.5M557 744.5h94.5M557 762.5h94.5M557 790.5h94.5M557 801.5h94.5M557 807.5h94.5M557 823.5h94.5M557 831.5h94.5M651.5 255.5h94.5M651.5 262.5h94.5M651.5 270.5h94.5M651.5 276.5h94.5M651.5 283.5h94.5M651.5 289.5h94.5M651.5 295.5h94.5M651.5 300.5h94.5M651.5 310.5h94.5M651.5 331.5h94.5M651.5 335.5h94.5M651.5 340.5h94.5M651.5 376.5h94.5M651.5 435.5h94.5M651.5 529.5h94.5M651.5 594.5h94.5M651.5 600.5h94.5M651.5 694.5h94.5M651.5 703.5h94.5M651.5 721.5h94.5M651.5 725.5h94.5M651.5 737.5h94.5M651.5 743.5h94.5M651.5 745.5h94.5M651.5 755.5h94.5M651.5 778.5h94.5M651.5 794.5h94.5M651.5 804.5h94.5M651.5 809.5h94.5M651.5 815.5h94.5M651.5 827.5h94.5M651.5 831.5h94.5M651.5 846.5h94.5M651.5 863.5h94.5M746 270.5h94.5M746 276.5h94.5M746 278.5h94.5M746 282.5h94.5M746 284.5h94.5M746 288.5h94.5M746 296.5h94.5M746 300.5h94.5M746 306.5h94.5M746 308.5h94.5M746 331.5h94.5M746 334.5h94.5M746 359.5h94.5M746 385.5h94.5M746 406.5h94.5M746 412.5h94.5M746 414.5h94.5M746 448.5h94.5M746 595.5h94.5M746 609.5h94.5M746 706.5h94.5M746 710.5h94.5M746 744.5h94.5M746 755.5h94.5M746 789.5h94.5M746 803.5h94.5M746 821.5h94.5M746 824.5h94.5M746 833.5h94.5M746 848.5h94.5M840.5 325.5h94.5M840.5 353.5h94.5M840.5 369.5h94.5M840.5 383.5h94.5M840.5 385.5h94.5M840.5 417.5h94.5M840.5 436.5h94.5M840.5 750.5h94.5M840.5 771.5h94.5M840.5 786.5h94.5M840.5 794.5h94.5M840.5 797.5h94.5M840.5 811.5h94.5M840.5 813.5h94.5M840.5 817.5h94.5M840.5 822.5h94.5M840.5 825.5h94.5M840.5 827.5h94.5M840.5 847.5h94.5M840.5 849.5h94.5M840.5 857.5h94.5M840.5 863.5h94.5M840.5 869.5h94.5M840.5 882.5h94.5M840.5 889.5h94.5M840.5 917.5h94.5M840.5 931.5h94.5M935 278.5h94.5M935 285.5h94.5M935 291.5h94.5M935 326.5h94.5M935 335.5h94.5M935 346.5h94.5M935 358.5h94.5M935 361.5h94.5M935 369.5h94.5M935 403.5h94.5M935 510.5h94.5M935 652.5h94.5M935 715.5h94.5M935 745.5h94.5M935 766.5h94.5M935 780.5h94.5M935 789.5h94.5M935 803.5h94.5M935 811.5h94.5M935 831.5h94.5M935 837.5h94.5M935 844.5h94.5M935 848.5h94.5M935 855.5h94.5M935 857.5h94.5M935 876.5h94.5M1029.5 300.5h94.5M1029.5 313.5h94.5M1029.5 316.5h94.5M1029.5 328.5h94.5M1029.5 346.5h94.5M1029.5 354.5h94.5M1029.5 362.5h94.5M1029.5 370.5h94.5M1029.5 377.5h94.5M1029.5 599.5h94.5M1029.5 693.5h94.5M1029.5 735.5h94.5M1029.5 749.5h94.5M1029.5 803.5h94.5M1029.5 825.5h94.5M1029.5 827.5h94.5M1029.5 837.5h94.5M1029.5 840.5h94.5M1029.5 863.5h94.5M1029.5 870.5h94.5M1029.5 902.5h94.5M1029.5 921.5h94.5M1124 338.5h94.5M1124 344.5h94.5M1124 354.5h94.5M1124 369.5h94.5M1124 375.5h94.5M1124 384.5h94.5M1124 389.5h94.5M1124 396.5h94.5M1124 405.5h94.5M1124 411.5h94.5M1124 434.5h94.5M1124 441.5h94.5M1124 594.5h94.5M1124 613.5h94.5M1124 666.5h94.5M1124 695.5h94.5M1124 704.5h94.5M1124 712.5h94.5M1124 715.5h94.5M1124 780.5h94.5M1124 809.5h94.5M1124 814.5h94.5M1124 822.5h94.5M1124 824.5h94.5M1124 827.5h94.5M1124 839.5h94.5M1124 847.5h94.5M1124 862.5h94.5M1124 875.5h94.5M1218.5 319.5h94M1218.5 331.5h94M1218.5 337.5h94M1218.5 343.5h94M1218.5 358.5h94M1218.5 363.5h94M1218.5 372.5h94M1218.5 376.5h94M1218.5 382.5h94M1218.5 385.5h94M1218.5 393.5h94M1218.5 396.5h94M1218.5 418.5h94M1218.5 453.5h94M1218.5 526.5h94M1218.5 651.5h94M1218.5 744.5h94M1218.5 756.5h94M1218.5 771.5h94M1218.5 786.5h94M1218.5 809.5h94M1218.5 822.5h94M1218.5 827.5h94M1218.5 838.5h94M1218.5 844.5h94M1218.5 847.5h94M1218.5 868.5h94"/>
<path fill="#0000b4" d="M179 310h94.5v3h-94.5zM273.5 352h94.5v2h-94.5zM273.5 357h94.5v2h-94.5zM273.5 802h94.5v4h-94.5zM273.5 846h94.5v2h-94.5zM368 268h94.5v2h-94.5zM368 275h94.5v2h-94.5zM368 832h94.5v2h-94.5zM462.5 289h94.5v2h-94.5zM462.5 325h94.5v2h-94.5zM462.5 330h94.5v2h-94.5zM462.5 796h94.5v2h-94.5zM462.5 853h94.5v2h-94.5zM557 307h94.5v2h-94.5zM557 837h94.5v2h-94.5zM557 846h94.5v2h-94.5zM651.5 363h94.5v2h-94.5zM651.5 848h94.5v3h-94.5zM746 292h94.5v3h-94.5zM746 342h94.5v2h-94.5zM746 370h94.5v2h-94.5zM746 420h94.5v3h-94.5zM746 465h94.5v2h-94.5zM746 762h94.5v2h-94.5zM746 811h94.5v2h-94.5zM840.5 309h94.5v2h-94.5zM840.5 330h94.5v2h-94.5zM840.5 457h94.5v2h-94.5zM840.5 762h94.5v2h-94.5zM840.5 807h94.5v2h-94.5zM840.5 837h94.5v2h-94.5zM840.5 875h94.5v2h-94.5zM840.5 896h94.5v3h-94.5zM840.5 903h94.5v2h-94.5zM840.5 910h94.5v3h-94.5zM840.5 922h94.5v2h-94.5zM935 302h94.5v2h-94.5zM935 406h94.5v2h-94.5zM935 427h94.5v2h-94.5zM935 760h94.5v2h-94.5zM935 768h94.5v3h-94.5zM935 797h94.5v3h-94.5zM935 863h94.5v2h-94.5zM935 869h94.5v2h-94.5zM1029.5 415h94.5v2h-94.5zM1029.5 728h94.5v2h-94.5zM1029.5 771h94.5v3h-94.5zM1029.5 791h94.5v2h-94.5zM1029.5 846h94.5v2h-94.5zM1029.5 909h94.5v2h-94.5zM1124 854h94.5v2h-94.5zM1124 868h94.5v2h-94.5zM1218.5 302h94v2h-94zM1218.5 780h94v2h-94zM1218.5 861h94v2h-94z"/>
<path stroke="#0000b8" d="M179 284.5h94.5M179 288.5h94.5M179 290.5h94.5M179 300.5h94.5M179 307.5h94.5M179 309.5h94.5M179 326.5h94.5M179 328.5h94.5M179 351.5h94.5M179 357.5h94.5M179 365.5h94.5M179 378.5h94.5M179 383.5h94.5M179 412.5h94.5M179 419.5h94.5M179 428.5h94.5M179 520.5h94.5M179 692.5h94.5M179 721.5h94.5M179 742.5h94.5M179 751.5h94.5M179 771.5h94.5M179 780.5h94.5M179 789.5h94.5M179 793.5h94.5M179 801.5h94.5M179 819.5h94.5M179 831.5h94.5M179 833.5h94.5M179 837.5h94.5M179 844.5h94.5M179 854.5h94.5M179 862.5h94.5M273.5 315.5h94.5M273.5 331.5h94.5M273.5 337.5h94.5M273.5 349.5h94.5M273.5 382.5h94.5M273.5 392.5h94.5M273.5 402.5h94.5M273.5 414.5h94.5M273.5 458.5h94.5M273.5 612.5h94.5M273.5 693.5h94.5M273.5 695.5h94.5M273.5 711.5h94.5M273.5 750.5h94.5M273.5 752.5h94.5M273.5 755.5h94.5M273.5 763.5h94.5M273.5 770.5h94.5M273.5 781.5h94.5M273.5 786.5h94.5M273.5 788.5h94.5M273.5 790.5h94.5M273.5 796.5h94.5M273.5 798.5h94.5M273.5 808.5h94.5M273.5 811.5h94.5M273.5 815.5h94.5M273.5 838.5h94.5M368 300.5h94.5M368 307.5h94.5M368 314.5h94.5M368 339.5h94.5M368 344.5h94.5M368 346.5h94.5M368 354.5h94.5M368 395.5h94.5M368 696.5h94.5M368 701.5h94.5M368 708.5h94.5M368 736.5h94.5M368 739.5h94.5M368 752.5h94.5M368 776.5h94.5M368 789.5h94.5M368 800.5h94.5M368 807.5h94.5M368 811.5h94.5M368 813.5h94.5M368 819.5h94.5M368 826.5h94.5M462.5 301.5h94.5M462.5 345.5h94.5M462.5 347.5h94.5M462.5 368.5h94.5M462.5 388.5h94.5M462.5 406.5h94.5M462.5 419.5h94.5M462.5 422.5h94.5M462.5 497.5h94.5M462.5 528.5h94.5M462.5 721.5h94.5M462.5 764.5h94.5M462.5 779.5h94.5M462.5 783.5h94.5M462.5 798.5h94.5M462.5 811.5h94.5M462.5 819.5h94.5M557 319.5h94.5M557 331.5h94.5M557 339.5h94.5M557 346.5h94.5M557 359.5h94.5M557 363.5h94.5M557 368.5h94.5M557 379.5h94.5M557 407.5h94.5M557 427.5h94.5M557 463.5h94.5M557 519.5h94.5M557 581.5h94.5M557 643.5h94.5M557 782.5h94.5M557 811.5h94.5M557 817.5h94.5M557 819.5h94.5M651.5 269.5h94.5M651.5 284.5h94.5M651.5 291.5h94.5M651.5 313.5h94.5M651.5 339.5h94.5M651.5 367.5h94.5M651.5 370.5h94.5M651.5 451.5h94.5M651.5 458.5h94.5M651.5 625.5h94.5M651.5 651.5h94.5M651.5 691.5h94.5M651.5 711.5h94.5M651.5 757.5h94.5M651.5 766.5h94.5M651.5 770.5h94.5M651.5 777.5h94.5M651.5 788.5h94.5M651.5 798.5h94.5M651.5 808.5h94.5M651.5 822.5h94.5M651.5 838.5h94.5M651.5 847.5h94.5M746 277.5h94.5M746 283.5h94.5M746 307.5h94.5M746 311.5h94.5M746 323.5h94.5M746 350.5h94.5M746 386.5h94.5M746 411.5h94.5M746 437.5h94.5M746 458.5h94.5M746 483.5h94.5M746 497.5h94.5M746 601.5h94.5M746 608.5h94.5M746 613.5h94.5M746 681.5h94.5M746 705.5h94.5M746 735.5h94.5M746 788.5h94.5M746 797.5h94.5M746 799.5h94.5M746 801.5h94.5M746 819.5h94.5M746 825.5h94.5M746 827.5h94.5M840.5 328.5h94.5M840.5 356.5h94.5M840.5 370.5h94.5M840.5 415.5h94.5M840.5 599.5h94.5M840.5 693.5h94.5M840.5 737.5h94.5M840.5 744.5h94.5M840.5 761.5h94.5M840.5 777.5h94.5M840.5 801.5h94.5M840.5 805.5h94.5M840.5 812.5h94.5M840.5 818.5h94.5M840.5 820.5h94.5M840.5 839.5h94.5M840.5 848.5h94.5M840.5 856.5h94.5M840.5 870.5h94.5M935 309.5h94.5M935 319.5h94.5M935 325.5h94.5M935 375.5h94.5M935 385.5h94.5M935 405.5h94.5M935 414.5h94.5M935 429.5h94.5M935 541.5h94.5M935 651.5h94.5M935 710.5h94.5M935 718.5h94.5M935 721.5h94.5M935 736.5h94.5M935 738.5h94.5M935 744.5h94.5M935 749.5h94.5M935 754.5h94.5M935 763.5h94.5M935 775.5h94.5M935 782.5h94.5M935 793.5h94.5M935 800.5h94.5M935 807.5h94.5M935 813.5h94.5M935 824.5h94.5M935 830.5h94.5M935 838.5h94.5M935 856.5h94.5M1029.5 306.5h94.5M1029.5 325.5h94.5M1029.5 338.5h94.5M1029.5 349.5h94.5M1029.5 356.5h94.5M1029.5 395.5h94.5M1029.5 405.5h94.5M1029.5 409.5h94.5M1029.5 422.5h94.5M1029.5 497.5h94.5M1029.5 531.5h94.5M1029.5 598.5h94.5M1029.5 659.5h94.5M1029.5 666.5h94.5M1029.5 683.5h94.5M1029.5 727.5h94.5M1029.5 761.5h94.5M1029.5 790.5h94.5M1029.5 795.5h94.5M1029.5 816.5h94.5M1029.5 822.5h94.5M1029.5 833.5h94.5M1124 361.5h94.5M1124 368.5h94.5M1124 394.5h94.5M1124 403.5h94.5M1124 407.5h94.5M1124 414.5h94.5M1124 427.5h94.5M1124 478.5h94.5M1124 593.5h94.5M1124 748.5h94.5M1124 760.5h94.5M1124 793.5h94.5M1124 808.5h94.5M1124 812.5h94.5M1124 817.5h94.5M1124 820.5h94.5M1124 833.5h94.5M1124 838.5h94.5M1218.5 310.5h94M1218.5 329.5h94M1218.5 360.5h94M1218.5 381.5h94M1218.5 394.5h94M1218.5 414.5h94M1218.5 437.5h94M1218.5 459.5h94M1218.5 510.5h94M1218.5 520.5h94M1218.5 596.5h94M1218.5 603.5h94M1218.5 703.5h94M1218.5 711.5h94M1218.5 720.5h94M1218.5 726.5h94M1218.5 751.5h94M1218.5 755.5h94M1218.5 763.5h94M1218.5 782.5h94M1218.5 814.5h94M1218.5 821.5h94M1218.5 832.5h94M1218.5 839.5h94"/>
<path fill="#0000b8" d="M179 292h94.5v3h-94.5zM179 395h94.5v2h-94.5zM273.5 384h94.5v2h-94.5zM368 745h94.5v2h-94.5zM368 784h94.5v2h-94.5zM462.5 307h94.5v2h-94.5zM462.5 588h94.5v2h-94.5zM462.5 703h94.5v2h-94.5zM462.5 807h94.5v3h-94.5zM462.5 845h94.5v2h-94.5zM557 315h94.5v2h-94.5zM557 404h94.5v2h-94.5zM557 727h94.5v2h-94.5zM557 778h94.5v2h-94.5zM557 797h94.5v2h-94.5zM557 804h94.5v2h-94.5zM557 824h94.5v2h-94.5zM651.5 277h94.5v2h-94.5zM651.5 318h94.5v2h-94.5zM651.5 341h94.5v2h-94.5zM651.5 719h94.5v2h-94.5zM651.5 779h94.5v2h-94.5zM651.5 810h94.5v2h-94.5zM651.5 824h94.5v2h-94.5zM746 315h94.5v2h-94.5zM746 353h94.5v2h-94.5zM746 586h94.5v2h-94.5zM746 781h94.5v2h-94.5zM746 839h94.5v2h-94.5zM840.5 315h94.5v3h-94.5zM840.5 772h94.5v2h-94.5zM840.5 779h94.5v2h-94.5zM840.5 832h94.5v2h-94.5zM935 327h94.5v2h-94.5zM935 330h94.5v2h-94.5zM935 594h94.5v2h-94.5zM935 845h94.5v3h-94.5zM1029.5 314h94.5v2h-94.5zM1029.5 413h94.5v2h-94.5zM1029.5 819h94.5v2h-94.5zM1124 800h94.5v2h-94.5zM1124 845h94.5v2h-94.5zM1218.5 845h94v2h-94zM1218.5 853h94v2h-94z"/>
<path stroke="#0000bc" d="M179 289.5h94.5M179 295.5h94.5M179 315.5h94.5M179 344.5h94.5M179 346.5h94.5M179 349.5h94.5M179 362.5h94.5M179 368.5h94.5M179 415.5h94.5M179 420.5h94.5M179 430.5h94.5M179 510.5h94.5M179 587.5h94.5M179 593.5h94.5M179 693.5h94.5M179 723.5h94.5M179 736.5h94.5M179 772.5h94.5M179 786.5h94.5M179 805.5h94.5M179 821.5h94.5M179 838.5h94.5M179 845.5h94.5M273.5 316.5h94.5M273.5 318.5h94.5M273.5 344.5h94.5M273.5 374.5h94.5M273.5 401.5h94.5M273.5 429.5h94.5M273.5 516.5h94.5M273.5 584.5h94.5M273.5 650.5h94.5M273.5 727.5h94.5M273.5 739.5h94.5M273.5 780.5h94.5M273.5 794.5h94.5M273.5 797.5h94.5M273.5 806.5h94.5M273.5 826.5h94.5M273.5 831.5h94.5M368 328.5h94.5M368 337.5h94.5M368 351.5h94.5M368 356.5h94.5M368 369.5h94.5M368 421.5h94.5M368 434.5h94.5M368 527.5h94.5M368 594.5h94.5M368 634.5h94.5M368 750.5h94.5M368 766.5h94.5M368 780.5h94.5M462.5 327.5h94.5M462.5 329.5h94.5M462.5 343.5h94.5M462.5 348.5h94.5M462.5 353.5h94.5M462.5 372.5h94.5M462.5 386.5h94.5M462.5 389.5h94.5M462.5 399.5h94.5M462.5 435.5h94.5M462.5 590.5h94.5M462.5 657.5h94.5M462.5 665.5h94.5M462.5 710.5h94.5M462.5 735.5h94.5M462.5 738.5h94.5M462.5 757.5h94.5M462.5 772.5h94.5M462.5 778.5h94.5M462.5 791.5h94.5M462.5 832.5h94.5M557 337.5h94.5M557 348.5h94.5M557 386.5h94.5M557 396.5h94.5M557 412.5h94.5M557 420.5h94.5M557 436.5h94.5M557 593.5h94.5M557 601.5h94.5M557 692.5h94.5M557 711.5h94.5M557 719.5h94.5M557 735.5h94.5M557 764.5h94.5M557 771.5h94.5M557 773.5h94.5M557 777.5h94.5M557 791.5h94.5M557 793.5h94.5M557 812.5h94.5M557 818.5h94.5M651.5 290.5h94.5M651.5 307.5h94.5M651.5 314.5h94.5M651.5 317.5h94.5M651.5 325.5h94.5M651.5 329.5h94.5M651.5 358.5h94.5M651.5 406.5h94.5M651.5 414.5h94.5M651.5 466.5h94.5M651.5 667.5h94.5M651.5 710.5h94.5M651.5 718.5h94.5M651.5 760.5h94.5M651.5 763.5h94.5M651.5 799.5h94.5M651.5 806.5h94.5M651.5 823.5h94.5M651.5 833.5h94.5M651.5 839.5h94.5M746 289.5h94.5M746 295.5h94.5M746 358.5h94.5M746 369.5h94.5M746 407.5h94.5M746 415.5h94.5M746 695.5h94.5M746 713.5h94.5M746 761.5h94.5M746 777.5h94.5M746 779.5h94.5M746 792.5h94.5M746 794.5h94.5M746 798.5h94.5M746 804.5h94.5M746 808.5h94.5M840.5 318.5h94.5M840.5 326.5h94.5M840.5 349.5h94.5M840.5 351.5h94.5M840.5 358.5h94.5M840.5 386.5h94.5M840.5 389.5h94.5M840.5 396.5h94.5M840.5 412.5h94.5M840.5 424.5h94.5M840.5 437.5h94.5M840.5 520.5h94.5M840.5 613.5h94.5M840.5 652.5h94.5M840.5 715.5h94.5M840.5 752.5h94.5M840.5 757.5h94.5M840.5 785.5h94.5M840.5 798.5h94.5M935 345.5h94.5M935 356.5h94.5M935 367.5h94.5M935 374.5h94.5M935 376.5h94.5M935 384.5h94.5M935 404.5h94.5M935 411.5h94.5M935 422.5h94.5M935 441.5h94.5M935 459.5h94.5M935 466.5h94.5M935 540.5h94.5M935 696.5h94.5M935 743.5h94.5M935 806.5h94.5M935 825.5h94.5M1029.5 344.5h94.5M1029.5 351.5h94.5M1029.5 367.5h94.5M1029.5 384.5h94.5M1029.5 386.5h94.5M1029.5 388.5h94.5M1029.5 475.5h94.5M1029.5 582.5h94.5M1029.5 600.5h94.5M1029.5 651.5h94.5M1029.5 658.5h94.5M1029.5 692.5h94.5M1029.5 743.5h94.5M1029.5 750.5h94.5M1029.5 765.5h94.5M1029.5 778.5h94.5M1029.5 780.5h94.5M1029.5 783.5h94.5M1029.5 789.5h94.5M1029.5 801.5h94.5M1029.5 809.5h94.5M1029.5 814.5h94.5M1029.5 821.5h94.5M1029.5 826.5h94.5M1029.5 832.5h94.5M1124 345.5h94.5M1124 350.5h94.5M1124 377.5h94.5M1124 395.5h94.5M1124 451.5h94.5M1124 457.5h94.5M1124 477.5h94.5M1124 498.5h94.5M1124 607.5h94.5M1124 651.5h94.5M1124 665.5h94.5M1124 692.5h94.5M1124 711.5h94.5M1124 721.5h94.5M1124 734.5h94.5M1124 753.5h94.5M1124 763.5h94.5M1124 789.5h94.5M1124 792.5h94.5M1124 807.5h94.5M1124 813.5h94.5M1124 832.5h94.5M1218.5 330.5h94M1218.5 338.5h94M1218.5 355.5h94M1218.5 359.5h94M1218.5 365.5h94M1218.5 404.5h94M1218.5 406.5h94M1218.5 423.5h94M1218.5 430.5h94M1218.5 448.5h94M1218.5 697.5h94M1218.5 736.5h94M1218.5 739.5h94M1218.5 772.5h94M1218.5 776.5h94M1218.5 783.5h94M1218.5 785.5h94M1218.5 792.5h94M1218.5 801.5h94M1218.5 807.5h94M1218.5 820.5h94M1218.5 826.5h94"/>
<path fill="#0000bc" d="M179 744h94.5v2h-94.5zM179 777h94.5v2h-94.5zM179 812h94.5v2h-94.5zM273.5 589h94.5v2h-94.5zM368 315h94.5v4h-94.5zM557 317h94.5v2h-94.5zM557 371h94.5v2h-94.5zM557 799h94.5v2h-94.5zM651.5 301h94.5v2h-94.5zM651.5 411h94.5v2h-94.5zM651.5 819h94.5v2h-94.5zM746 301h94.5v2h-94.5zM840.5 404h94.5v2h-94.5zM840.5 725h94.5v2h-94.5zM840.5 741h94.5v3h-94.5zM935 315h94.5v4h-94.5zM935 362h94.5v2h-94.5zM935 790h94.5v3h-94.5zM935 818h94.5v2h-94.5zM1029.5 326h94.5v2h-94.5zM1029.5 710h94.5v2h-94.5zM1029.5 838h94.5v2h-94.5zM1124 743h94.5v2h-94.5zM1124 825h94.5v2h-94.5zM1218.5 349h94v2h-94z"/>
<path stroke="#0000c0" d="M179 301.5h94.5M179 308.5h94.5M179 316.5h94.5M179 319.5h94.5M179 329.5h94.5M179 393.5h94.5M179 431.5h94.5M179 509.5h94.5M179 590.5h94.5M179 600.5h94.5M179 694.5h94.5M179 712.5h94.5M179 730.5h94.5M179 752.5h94.5M179 760.5h94.5M179 764.5h94.5M179 767.5h94.5M179 781.5h94.5M179 790.5h94.5M179 808.5h94.5M179 815.5h94.5M179 832.5h94.5M273.5 317.5h94.5M273.5 328.5h94.5M273.5 338.5h94.5M273.5 340.5h94.5M273.5 346.5h94.5M273.5 351.5h94.5M273.5 364.5h94.5M273.5 377.5h94.5M273.5 381.5h94.5M273.5 383.5h94.5M273.5 391.5h94.5M273.5 394.5h94.5M273.5 415.5h94.5M273.5 467.5h94.5M273.5 536.5h94.5M273.5 585.5h94.5M273.5 656.5h94.5M273.5 698.5h94.5M273.5 715.5h94.5M273.5 728.5h94.5M273.5 735.5h94.5M273.5 746.5h94.5M273.5 764.5h94.5M273.5 767.5h94.5M273.5 799.5h94.5M273.5 812.5h94.5M273.5 814.5h94.5M273.5 820.5h94.5M273.5 825.5h94.5M368 330.5h94.5M368 384.5h94.5M368 397.5h94.5M368 411.5h94.5M368 418.5h94.5M368 436.5h94.5M368 442.5h94.5M368 509.5h94.5M368 613.5h94.5M368 627.5h94.5M368 744.5h94.5M368 775.5h94.5M368 792.5h94.5M368 812.5h94.5M462.5 336.5h94.5M462.5 338.5h94.5M462.5 363.5h94.5M462.5 587.5h94.5M462.5 726.5h94.5M462.5 766.5h94.5M462.5 800.5h94.5M462.5 805.5h94.5M462.5 826.5h94.5M557 329.5h94.5M557 354.5h94.5M557 416.5h94.5M557 419.5h94.5M557 681.5h94.5M557 709.5h94.5M557 761.5h94.5M557 765.5h94.5M557 786.5h94.5M557 806.5h94.5M651.5 309.5h94.5M651.5 330.5h94.5M651.5 343.5h94.5M651.5 346.5h94.5M651.5 351.5h94.5M651.5 384.5h94.5M651.5 401.5h94.5M651.5 405.5h94.5M651.5 447.5h94.5M651.5 514.5h94.5M651.5 599.5h94.5M651.5 601.5h94.5M651.5 681.5h94.5M651.5 727.5h94.5M651.5 781.5h94.5M651.5 793.5h94.5M651.5 800.5h94.5M651.5 826.5h94.5M651.5 832.5h94.5M746 309.5h94.5M746 322.5h94.5M746 333.5h94.5M746 346.5h94.5M746 360.5h94.5M746 363.5h94.5M746 378.5h94.5M746 395.5h94.5M746 405.5h94.5M746 423.5h94.5M746 428.5h94.5M746 457.5h94.5M746 593.5h94.5M746 603.5h94.5M746 682.5h94.5M746 698.5h94.5M746 718.5h94.5M746 720.5h94.5M746 728.5h94.5M746 737.5h94.5M746 741.5h94.5M746 754.5h94.5M746 766.5h94.5M746 780.5h94.5M746 783.5h94.5M746 787.5h94.5M746 805.5h94.5M746 820.5h94.5M746 826.5h94.5M840.5 327.5h94.5M840.5 336.5h94.5M840.5 345.5h94.5M840.5 354.5h94.5M840.5 363.5h94.5M840.5 408.5h94.5M840.5 422.5h94.5M840.5 425.5h94.5M840.5 581.5h94.5M840.5 593.5h94.5M840.5 710.5h94.5M840.5 732.5h94.5M840.5 768.5h94.5M840.5 782.5h94.5M840.5 806.5h94.5M840.5 819.5h94.5M840.5 826.5h94.5M935 350.5h94.5M935 388.5h94.5M935 402.5h94.5M935 419.5h94.5M935 440.5h94.5M935 486.5h94.5M935 542.5h94.5M935 602.5h94.5M935 613.5h94.5M935 667.5h94.5M935 812.5h94.5M1029.5 337.5h94.5M1029.5 361.5h94.5M1029.5 378.5h94.5M1029.5 383.5h94.5M1029.5 385.5h94.5M1029.5 417.5h94.5M1029.5 437.5h94.5M1029.5 581.5h94.5M1029.5 588.5h94.5M1029.5 593.5h94.5M1029.5 625.5h94.5M1029.5 722.5h94.5M1029.5 725.5h94.5M1029.5 738.5h94.5M1029.5 744.5h94.5M1029.5 751.5h94.5M1029.5 779.5h94.5M1029.5 784.5h94.5M1029.5 808.5h94.5M1029.5 815.5h94.5M1124 355.5h94.5M1124 374.5h94.5M1124 383.5h94.5M1124 386.5h94.5M1124 428.5h94.5M1124 430.5h94.5M1124 453.5h94.5M1124 466.5h94.5M1124 469.5h94.5M1124 506.5h94.5M1124 720.5h94.5M1124 728.5h94.5M1124 747.5h94.5M1124 766.5h94.5M1124 784.5h94.5M1124 805.5h94.5M1218.5 344.5h94M1218.5 369.5h94M1218.5 401.5h94M1218.5 405.5h94M1218.5 411.5h94M1218.5 426.5h94M1218.5 447.5h94M1218.5 595.5h94M1218.5 696.5h94M1218.5 702.5h94M1218.5 709.5h94M1218.5 719.5h94M1218.5 729.5h94M1218.5 745.5h94M1218.5 760.5h94M1218.5 773.5h94M1218.5 793.5h94M1218.5 808.5h94"/>
<path fill="#0000c0" d="M179 376h94.5v2h-94.5zM179 754h94.5v3h-94.5zM179 825h94.5v2h-94.5zM273.5 419h94.5v2h-94.5zM368 805h94.5v2h-94.5zM462.5 315h94.5v3h-94.5zM462.5 689h94.5v2h-94.5zM462.5 744h94.5v2h-94.5zM462.5 812h94.5v2h-94.5zM651.5 356h94.5v2h-94.5zM651.5 813h94.5v2h-94.5zM746 317h94.5v2h-94.5zM746 813h94.5v2h-94.5zM935 396h94.5v2h-94.5zM935 764h94.5v2h-94.5zM1124 370h94.5v2h-94.5zM1124 818h94.5v2h-94.5z"/>
<path stroke="#0000c4" d="M179 330.5h94.5M179 408.5h94.5M179 496.5h94.5M179 594.5h94.5M179 606.5h94.5M179 665.5h94.5M179 711.5h94.5M179 720.5h94.5M179 728.5h94.5M179 741.5h94.5M179 743.5h94.5M179 757.5h94.5M179 806.5h94.5M179 820.5h94.5M273.5 330.5h94.5M273.5 339.5h94.5M273.5 405.5h94.5M273.5 442.5h94.5M273.5 528.5h94.5M273.5 583.5h94.5M273.5 594.5h94.5M273.5 692.5h94.5M273.5 745.5h94.5M273.5 771.5h94.5M273.5 776.5h94.5M273.5 801.5h94.5M273.5 813.5h94.5M273.5 819.5h94.5M368 329.5h94.5M368 345.5h94.5M368 349.5h94.5M368 359.5h94.5M368 361.5h94.5M368 364.5h94.5M368 367.5h94.5M368 383.5h94.5M368 403.5h94.5M368 422.5h94.5M368 595.5h94.5M368 599.5h94.5M368 774.5h94.5M462.5 328.5h94.5M462.5 365.5h94.5M462.5 380.5h94.5M462.5 403.5h94.5M462.5 502.5h94.5M462.5 693.5h94.5M462.5 727.5h94.5M462.5 756.5h94.5M462.5 768.5h94.5M462.5 773.5h94.5M557 330.5h94.5M557 338.5h94.5M557 344.5h94.5M557 351.5h94.5M557 366.5h94.5M557 376.5h94.5M557 398.5h94.5M557 430.5h94.5M557 710.5h94.5M557 715.5h94.5M557 720.5h94.5M557 746.5h94.5M557 752.5h94.5M557 757.5h94.5M557 783.5h94.5M557 792.5h94.5M651.5 308.5h94.5M651.5 315.5h94.5M651.5 349.5h94.5M651.5 375.5h94.5M651.5 387.5h94.5M651.5 397.5h94.5M651.5 430.5h94.5M651.5 593.5h94.5M651.5 606.5h94.5M651.5 690.5h94.5M651.5 715.5h94.5M651.5 728.5h94.5M651.5 734.5h94.5M651.5 742.5h94.5M651.5 764.5h94.5M651.5 776.5h94.5M651.5 782.5h94.5M651.5 785.5h94.5M651.5 791.5h94.5M651.5 807.5h94.5M746 310.5h94.5M746 332.5h94.5M746 341.5h94.5M746 355.5h94.5M746 419.5h94.5M746 521.5h94.5M746 600.5h94.5M746 602.5h94.5M746 614.5h94.5M746 721.5h94.5M746 732.5h94.5M746 745.5h94.5M746 753.5h94.5M746 758.5h94.5M746 767.5h94.5M746 774.5h94.5M746 784.5h94.5M746 800.5h94.5M840.5 337.5h94.5M840.5 359.5h94.5M840.5 362.5h94.5M840.5 368.5h94.5M840.5 397.5h94.5M840.5 420.5h94.5M840.5 423.5h94.5M840.5 430.5h94.5M840.5 435.5h94.5M840.5 442.5h94.5M840.5 497.5h94.5M840.5 587.5h94.5M840.5 594.5h94.5M840.5 692.5h94.5M840.5 724.5h94.5M840.5 733.5h94.5M840.5 748.5h94.5M840.5 751.5h94.5M840.5 765.5h94.5M840.5 790.5h94.5M840.5 793.5h94.5M935 336.5h94.5M935 343.5h94.5M935 395.5h94.5M935 415.5h94.5M935 426.5h94.5M935 439.5h94.5M935 451.5h94.5M935 453.5h94.5M935 607.5h94.5M935 659.5h94.5M935 690.5h94.5M935 716.5h94.5M935 737.5h94.5M935 742.5h94.5M935 783.5h94.5M935 786.5h94.5M1029.5 345.5h94.5M1029.5 350.5h94.5M1029.5 371.5h94.5M1029.5 387.5h94.5M1029.5 389.5h94.5M1029.5 425.5h94.5M1029.5 436.5h94.5M1029.5 438.5h94.5M1029.5 657.5h94.5M1029.5 681.5h94.5M1029.5 697.5h94.5M1029.5 734.5h94.5M1029.5 754.5h94.5M1029.5 785.5h94.5M1029.5 788.5h94.5M1029.5 793.5h94.5M1029.5 802.5h94.5M1124 360.5h94.5M1124 367.5h94.5M1124 376.5h94.5M1124 385.5h94.5M1124 399.5h94.5M1124 418.5h94.5M1124 423.5h94.5M1124 429.5h94.5M1124 719.5h94.5M1124 737.5h94.5M1124 759.5h94.5M1124 781.5h94.5M1124 790.5h94.5M1124 806.5h94.5M1218.5 354.5h94M1218.5 395.5h94M1218.5 427.5h94M1218.5 431.5h94M1218.5 442.5h94M1218.5 475.5h94M1218.5 511.5h94M1218.5 590.5h94M1218.5 671.5h94M1218.5 746.5h94M1218.5 766.5h94"/>
<path fill="#0000c4" d="M179 317h94.5v2h-94.5zM179 337h94.5v2h-94.5zM273.5 591h94.5v2h-94.5zM273.5 756h94.5v3h-94.5zM368 376h94.5v2h-94.5zM368 798h94.5v2h-94.5zM651.5 382h94.5v2h-94.5zM651.5 771h94.5v2h-94.5zM746 319h94.5v3h-94.5zM746 806h94.5v2h-94.5zM840.5 799h94.5v2h-94.5zM935 724h94.5v2h-94.5zM935 727h94.5v3h-94.5zM1029.5 393h94.5v2h-94.5zM1124 798h94.5v2h-94.5z"/>
<path stroke="#0000c8" d="M179 345.5h94.5M179 372.5h94.5M179 392.5h94.5M179 452.5h94.5M179 465.5h94.5M179 586.5h94.5M179 722.5h94.5M179 773.5h94.5M179 785.5h94.5M179 807.5h94.5M179 814.5h94.5M273.5 329.5h94.5M273.5 354.5h94.5M273.5 356.5h94.5M273.5 359.5h94.5M273.5 424.5h94.5M273.5 447.5h94.5M273.5 586.5h94.5M273.5 588.5h94.5M273.5 655.5h94.5M273.5 725.5h94.5M273.5 741.5h94.5M273.5 807.5h94.5M368 338.5h94.5M368 375.5h94.5M368 396.5h94.5M368 404.5h94.5M368 414.5h94.5M368 435.5h94.5M368 452.5h94.5M368 589.5h94.5M368 601.5h94.5M368 643.5h94.5M368 689.5h94.5M368 727.5h94.5M368 754.5h94.5M368 757.5h94.5M368 771.5h94.5M368 790.5h94.5M462.5 356.5h94.5M462.5 426.5h94.5M462.5 457.5h94.5M462.5 520.5h94.5M462.5 527.5h94.5M462.5 530.5h94.5M462.5 595.5h94.5M462.5 603.5h94.5M462.5 651.5h94.5M462.5 659.5h94.5M462.5 720.5h94.5M462.5 737.5h94.5M462.5 774.5h94.5M462.5 793.5h94.5M462.5 799.5h94.5M462.5 806.5h94.5M557 345.5h94.5M557 362.5h94.5M557 408.5h94.5M557 424.5h94.5M557 426.5h94.5M557 438.5h94.5M557 521.5h94.5M557 652.5h94.5M557 693.5h94.5M557 755.5h94.5M557 768.5h94.5M651.5 316.5h94.5M651.5 326.5h94.5M651.5 328.5h94.5M651.5 336.5h94.5M651.5 338.5h94.5M651.5 359.5h94.5M651.5 362.5h94.5M651.5 394.5h94.5M651.5 415.5h94.5M651.5 419.5h94.5M651.5 431.5h94.5M651.5 497.5h94.5M651.5 644.5h94.5M651.5 683.5h94.5M651.5 693.5h94.5M651.5 733.5h94.5M651.5 748.5h94.5M651.5 765.5h94.5M651.5 783.5h94.5M651.5 792.5h94.5M746 347.5h94.5M746 351.5h94.5M746 365.5h94.5M746 585.5h94.5M746 607.5h94.5M746 683.5h94.5M746 692.5h94.5M746 696.5h94.5M746 722.5h94.5M746 748.5h94.5M746 786.5h94.5M840.5 344.5h94.5M840.5 364.5h94.5M840.5 367.5h94.5M840.5 374.5h94.5M840.5 387.5h94.5M840.5 421.5h94.5M840.5 431.5h94.5M840.5 549.5h94.5M840.5 625.5h94.5M840.5 650.5h94.5M840.5 691.5h94.5M840.5 697.5h94.5M840.5 736.5h94.5M935 337.5h94.5M935 349.5h94.5M935 377.5h94.5M935 387.5h94.5M935 408.5h94.5M935 416.5h94.5M935 418.5h94.5M935 423.5h94.5M935 601.5h94.5M935 660.5h94.5M935 666.5h94.5M935 722.5h94.5M935 726.5h94.5M935 741.5h94.5M935 757.5h94.5M935 771.5h94.5M935 774.5h94.5M1029.5 355.5h94.5M1029.5 365.5h94.5M1029.5 382.5h94.5M1029.5 404.5h94.5M1029.5 428.5h94.5M1029.5 459.5h94.5M1029.5 466.5h94.5M1029.5 469.5h94.5M1029.5 512.5h94.5M1029.5 530.5h94.5M1029.5 606.5h94.5M1029.5 626.5h94.5M1029.5 652.5h94.5M1029.5 719.5h94.5M1029.5 767.5h94.5M1029.5 774.5h94.5M1029.5 777.5h94.5M1029.5 794.5h94.5M1124 365.5h94.5M1124 372.5h94.5M1124 379.5h94.5M1124 410.5h94.5M1124 415.5h94.5M1124 425.5h94.5M1124 511.5h94.5M1124 545.5h94.5M1124 588.5h94.5M1124 667.5h94.5M1124 718.5h94.5M1124 751.5h94.5M1124 757.5h94.5M1124 771.5h94.5M1124 775.5h94.5M1124 791.5h94.5M1218.5 386.5h94M1218.5 410.5h94M1218.5 417.5h94M1218.5 454.5h94M1218.5 474.5h94M1218.5 504.5h94M1218.5 519.5h94M1218.5 653.5h94M1218.5 710.5h94M1218.5 721.5h94M1218.5 743.5h94M1218.5 749.5h94M1218.5 757.5h94M1218.5 775.5h94M1218.5 784.5h94"/>
<path fill="#0000c8" d="M179 402h94.5v2h-94.5zM179 666h94.5v2h-94.5zM179 799h94.5v2h-94.5zM273.5 690h94.5v2h-94.5zM273.5 696h94.5v2h-94.5zM368 682h94.5v2h-94.5zM462.5 396h94.5v3h-94.5zM462.5 728h94.5v2h-94.5zM746 383h94.5v2h-94.5zM840.5 377h94.5v2h-94.5zM1029.5 786h94.5v2h-94.5zM1218.5 536h94v3h-94zM1218.5 588h94v2h-94z"/>
<path stroke="#0000cc" d="M179 350.5h94.5M179 379.5h94.5M179 394.5h94.5M179 397.5h94.5M179 425.5h94.5M179 457.5h94.5M179 658.5h94.5M179 735.5h94.5M179 739.5h94.5M179 746.5h94.5M273.5 345.5h94.5M273.5 361.5h94.5M273.5 408.5h94.5M273.5 418.5h94.5M273.5 435.5h94.5M273.5 455.5h94.5M273.5 470.5h94.5M273.5 497.5h94.5M273.5 587.5h94.5M273.5 593.5h94.5M273.5 601.5h94.5M273.5 605.5h94.5M273.5 722.5h94.5M273.5 749.5h94.5M273.5 782.5h94.5M273.5 791.5h94.5M368 370.5h94.5M368 378.5h94.5M368 398.5h94.5M368 409.5h94.5M368 426.5h94.5M368 457.5h94.5M368 590.5h94.5M368 593.5h94.5M368 662.5h94.5M368 743.5h94.5M368 749.5h94.5M368 764.5h94.5M368 781.5h94.5M368 783.5h94.5M368 791.5h94.5M462.5 337.5h94.5M462.5 359.5h94.5M462.5 362.5h94.5M462.5 376.5h94.5M462.5 411.5h94.5M462.5 429.5h94.5M462.5 503.5h94.5M462.5 613.5h94.5M462.5 696.5h94.5M462.5 743.5h94.5M462.5 792.5h94.5M557 349.5h94.5M557 356.5h94.5M557 380.5h94.5M557 385.5h94.5M557 395.5h94.5M557 397.5h94.5M557 401.5h94.5M557 403.5h94.5M557 411.5h94.5M557 431.5h94.5M557 447.5h94.5M557 465.5h94.5M557 513.5h94.5M557 582.5h94.5M557 587.5h94.5M557 592.5h94.5M557 645.5h94.5M557 666.5h94.5M557 766.5h94.5M651.5 345.5h94.5M651.5 354.5h94.5M651.5 378.5h94.5M651.5 391.5h94.5M651.5 407.5h94.5M651.5 429.5h94.5M651.5 437.5h94.5M651.5 452.5h94.5M651.5 521.5h94.5M651.5 696.5h94.5M651.5 729.5h94.5M651.5 746.5h94.5M651.5 754.5h94.5M651.5 784.5h94.5M746 340.5h94.5M746 352.5h94.5M746 388.5h94.5M746 394.5h94.5M746 397.5h94.5M746 416.5h94.5M746 510.5h94.5M746 588.5h94.5M746 656.5h94.5M746 760.5h94.5M746 785.5h94.5M746 793.5h94.5M840.5 350.5h94.5M840.5 355.5h94.5M840.5 375.5h94.5M840.5 388.5h94.5M840.5 403.5h94.5M840.5 428.5h94.5M840.5 510.5h94.5M840.5 519.5h94.5M840.5 580.5h94.5M840.5 595.5h94.5M840.5 607.5h94.5M840.5 612.5h94.5M840.5 717.5h94.5M840.5 731.5h94.5M840.5 740.5h94.5M840.5 758.5h94.5M840.5 760.5h94.5M840.5 774.5h94.5M840.5 776.5h94.5M840.5 792.5h94.5M935 344.5h94.5M935 360.5h94.5M935 373.5h94.5M935 386.5h94.5M935 389.5h94.5M935 430.5h94.5M935 452.5h94.5M935 509.5h94.5M935 511.5h94.5M935 612.5h94.5M935 645.5h94.5M935 665.5h94.5M935 717.5h94.5M935 730.5h94.5M935 785.5h94.5M1029.5 360.5h94.5M1029.5 373.5h94.5M1029.5 419.5h94.5M1029.5 430.5h94.5M1029.5 443.5h94.5M1029.5 595.5h94.5M1029.5 730.5h94.5M1029.5 733.5h94.5M1029.5 742.5h94.5M1029.5 748.5h94.5M1029.5 752.5h94.5M1029.5 760.5h94.5M1124 393.5h94.5M1124 433.5h94.5M1124 465.5h94.5M1124 485.5h94.5M1124 510.5h94.5M1124 546.5h94.5M1124 601.5h94.5M1124 605.5h94.5M1124 697.5h94.5M1124 716.5h94.5M1218.5 364.5h94M1218.5 387.5h94M1218.5 397.5h94M1218.5 415.5h94M1218.5 424.5h94M1218.5 441.5h94M1218.5 457.5h94M1218.5 543.5h94M1218.5 602.5h94M1218.5 658.5h94M1218.5 727.5h94M1218.5 730.5h94M1218.5 735.5h94M1218.5 752.5h94M1218.5 764.5h94M1218.5 774.5h94"/>
<path fill="#0000cc" d="M179 355h94.5v2h-94.5zM179 791h94.5v2h-94.5zM273.5 427h94.5v2h-94.5zM557 457h94.5v2h-94.5zM651.5 395h94.5v2h-94.5zM746 711h94.5v2h-94.5zM840.5 694h94.5v2h-94.5zM935 354h94.5v2h-94.5zM935 583h94.5v2h-94.5zM935 772h94.5v2h-94.5zM1124 387h94.5v2h-94.5zM1124 581h94.5v2h-94.5zM1218.5 465h94v2h-94z"/>
<path stroke="#0000d0" d="M179 360.5h94.5M179 416.5h94.5M179 427.5h94.5M179 432.5h94.5M179 442.5h94.5M179 464.5h94.5M179 501.5h94.5M179 508.5h94.5M179 585.5h94.5M179 605.5h94.5M179 627.5h94.5M179 659.5h94.5M179 689.5h94.5M179 696.5h94.5M179 724.5h94.5M179 726.5h94.5M179 765.5h94.5M179 776.5h94.5M179 782.5h94.5M273.5 350.5h94.5M273.5 371.5h94.5M273.5 400.5h94.5M273.5 443.5h94.5M273.5 626.5h94.5M273.5 718.5h94.5M273.5 729.5h94.5M273.5 734.5h94.5M273.5 742.5h94.5M273.5 744.5h94.5M273.5 765.5h94.5M273.5 775.5h94.5M273.5 785.5h94.5M273.5 800.5h94.5M368 350.5h94.5M368 355.5h94.5M368 371.5h94.5M368 387.5h94.5M368 402.5h94.5M368 410.5h94.5M368 423.5h94.5M368 429.5h94.5M368 433.5h94.5M368 466.5h94.5M368 510.5h94.5M368 588.5h94.5M368 642.5h94.5M368 650.5h94.5M368 680.5h94.5M368 713.5h94.5M368 722.5h94.5M368 782.5h94.5M462.5 344.5h94.5M462.5 385.5h94.5M462.5 395.5h94.5M462.5 408.5h94.5M462.5 415.5h94.5M462.5 423.5h94.5M462.5 434.5h94.5M462.5 606.5h94.5M462.5 658.5h94.5M462.5 722.5h94.5M462.5 730.5h94.5M462.5 752.5h94.5M462.5 760.5h94.5M462.5 786.5h94.5M557 350.5h94.5M557 375.5h94.5M557 428.5h94.5M557 588.5h94.5M557 599.5h94.5M557 682.5h94.5M557 694.5h94.5M557 721.5h94.5M557 725.5h94.5M557 729.5h94.5M557 739.5h94.5M557 758.5h94.5M651.5 327.5h94.5M651.5 371.5h94.5M651.5 388.5h94.5M651.5 410.5h94.5M651.5 424.5h94.5M651.5 434.5h94.5M651.5 441.5h94.5M651.5 459.5h94.5M651.5 724.5h94.5M651.5 730.5h94.5M651.5 738.5h94.5M651.5 741.5h94.5M651.5 752.5h94.5M651.5 773.5h94.5M651.5 775.5h94.5M746 368.5h94.5M746 372.5h94.5M746 379.5h94.5M746 389.5h94.5M746 393.5h94.5M746 402.5h94.5M746 447.5h94.5M746 537.5h94.5M746 584.5h94.5M746 596.5h94.5M746 659.5h94.5M746 697.5h94.5M746 724.5h94.5M746 733.5h94.5M746 738.5h94.5M840.5 361.5h94.5M840.5 376.5h94.5M840.5 382.5h94.5M840.5 429.5h94.5M840.5 441.5h94.5M840.5 601.5h94.5M840.5 720.5h94.5M840.5 734.5h94.5M840.5 745.5h94.5M840.5 766.5h94.5M840.5 791.5h94.5M935 382.5h94.5M935 394.5h94.5M935 417.5h94.5M935 436.5h94.5M935 469.5h94.5M935 519.5h94.5M935 521.5h94.5M935 530.5h94.5M935 723.5h94.5M935 739.5h94.5M935 746.5h94.5M935 751.5h94.5M935 759.5h94.5M935 784.5h94.5M1029.5 366.5h94.5M1029.5 412.5h94.5M1029.5 511.5h94.5M1029.5 583.5h94.5M1029.5 605.5h94.5M1029.5 660.5h94.5M1029.5 689.5h94.5M1029.5 694.5h94.5M1029.5 745.5h94.5M1029.5 766.5h94.5M1124 366.5h94.5M1124 373.5h94.5M1124 408.5h94.5M1124 416.5h94.5M1124 468.5h94.5M1124 475.5h94.5M1124 479.5h94.5M1124 513.5h94.5M1124 534.5h94.5M1124 729.5h94.5M1124 740.5h94.5M1124 746.5h94.5M1124 752.5h94.5M1124 774.5h94.5M1218.5 377.5h94M1218.5 380.5h94M1218.5 407.5h94M1218.5 425.5h94M1218.5 443.5h94M1218.5 446.5h94M1218.5 497.5h94M1218.5 535.5h94M1218.5 539.5h94M1218.5 587.5h94M1218.5 725.5h94M1218.5 728.5h94"/>
<path fill="#0000d0" d="M273.5 753h94.5v2h-94.5zM462.5 349h94.5v2h-94.5zM557 784h94.5v2h-94.5zM651.5 392h94.5v2h-94.5zM746 374h94.5v2h-94.5zM746 775h94.5v2h-94.5zM840.5 783h94.5v2h-94.5zM1029.5 775h94.5v2h-94.5zM1124 726h94.5v2h-94.5zM1124 782h94.5v2h-94.5zM1218.5 467h94v2h-94z"/>
<path stroke="#0000d4" d="M179 374.5h94.5M179 438.5h94.5M179 475.5h94.5M179 584.5h94.5M179 626.5h94.5M179 731.5h94.5M179 758.5h94.5M273.5 365.5h94.5M273.5 373.5h94.5M273.5 386.5h94.5M273.5 395.5h94.5M273.5 416.5h94.5M273.5 432.5h94.5M273.5 441.5h94.5M273.5 460.5h94.5M273.5 466.5h94.5M273.5 529.5h94.5M273.5 606.5h94.5M273.5 651.5h94.5M273.5 664.5h94.5M273.5 682.5h94.5M368 406.5h94.5M368 415.5h94.5M368 430.5h94.5M368 474.5h94.5M368 508.5h94.5M368 611.5h94.5M368 633.5h94.5M368 671.5h94.5M368 715.5h94.5M368 765.5h94.5M462.5 354.5h94.5M462.5 384.5h94.5M462.5 436.5h94.5M462.5 519.5h94.5M462.5 594.5h94.5M462.5 607.5h94.5M462.5 609.5h94.5M462.5 652.5h94.5M462.5 666.5h94.5M462.5 692.5h94.5M462.5 711.5h94.5M462.5 713.5h94.5M462.5 719.5h94.5M462.5 742.5h94.5M462.5 746.5h94.5M462.5 755.5h94.5M462.5 777.5h94.5M557 355.5h94.5M557 360.5h94.5M557 373.5h94.5M557 418.5h94.5M557 510.5h94.5M557 518.5h94.5M557 667.5h94.5M557 691.5h94.5M557 696.5h94.5M557 774.5h94.5M557 776.5h94.5M651.5 337.5h94.5M651.5 365.5h94.5M651.5 381.5h94.5M651.5 400.5h94.5M651.5 416.5h94.5M651.5 446.5h94.5M651.5 520.5h94.5M651.5 602.5h94.5M651.5 605.5h94.5M651.5 650.5h94.5M651.5 652.5h94.5M651.5 666.5h94.5M651.5 758.5h94.5M651.5 774.5h94.5M746 387.5h94.5M746 410.5h94.5M746 511.5h94.5M746 519.5h94.5M746 680.5h94.5M746 734.5h94.5M746 759.5h94.5M840.5 360.5h94.5M840.5 393.5h94.5M840.5 399.5h94.5M840.5 411.5h94.5M840.5 438.5h94.5M840.5 455.5h94.5M840.5 465.5h94.5M840.5 592.5h94.5M840.5 683.5h94.5M840.5 696.5h94.5M840.5 727.5h94.5M840.5 738.5h94.5M840.5 759.5h94.5M840.5 767.5h94.5M840.5 775.5h94.5M935 359.5h94.5M935 370.5h94.5M935 378.5h94.5M935 383.5h94.5M935 442.5h94.5M935 467.5h94.5M935 653.5h94.5M935 691.5h94.5M935 693.5h94.5M935 695.5h94.5M935 753.5h94.5M1029.5 379.5h94.5M1029.5 418.5h94.5M1029.5 426.5h94.5M1029.5 432.5h94.5M1029.5 453.5h94.5M1029.5 505.5h94.5M1029.5 510.5h94.5M1029.5 541.5h94.5M1029.5 601.5h94.5M1029.5 610.5h94.5M1029.5 645.5h94.5M1029.5 656.5h94.5M1029.5 696.5h94.5M1029.5 716.5h94.5M1029.5 741.5h94.5M1029.5 758.5h94.5M1124 382.5h94.5M1124 390.5h94.5M1124 400.5h94.5M1124 402.5h94.5M1124 409.5h94.5M1124 417.5h94.5M1124 437.5h94.5M1124 450.5h94.5M1124 452.5h94.5M1124 454.5h94.5M1124 535.5h94.5M1124 675.5h94.5M1124 696.5h94.5M1218.5 392.5h94M1218.5 398.5h94M1218.5 434.5h94M1218.5 464.5h94M1218.5 473.5h94M1218.5 544.5h94M1218.5 591.5h94M1218.5 690.5h94M1218.5 715.5h94M1218.5 718.5h94M1218.5 754.5h94M1218.5 765.5h94"/>
<path fill="#0000d4" d="M179 783h94.5v2h-94.5zM273.5 792h94.5v2h-94.5zM368 584h94.5v4h-94.5zM368 772h94.5v2h-94.5zM462.5 784h94.5v2h-94.5zM746 356h94.5v2h-94.5zM840.5 529h94.5v2h-94.5zM840.5 685h94.5v2h-94.5zM935 398h94.5v2h-94.5zM1029.5 410h94.5v2h-94.5zM1124 764h94.5v2h-94.5zM1124 772h94.5v2h-94.5zM1218.5 370h94v2h-94z"/>
<path stroke="#0000d8" d="M179 361.5h94.5M179 366.5h94.5M179 382.5h94.5M179 388.5h94.5M179 434.5h94.5M179 451.5h94.5M179 497.5h94.5M179 527.5h94.5M179 530.5h94.5M179 599.5h94.5M179 601.5h94.5M179 625.5h94.5M179 653.5h94.5M179 681.5h94.5M179 717.5h94.5M179 753.5h94.5M273.5 355.5h94.5M273.5 367.5h94.5M273.5 390.5h94.5M273.5 417.5h94.5M273.5 426.5h94.5M273.5 438.5h94.5M273.5 453.5h94.5M273.5 517.5h94.5M273.5 595.5h94.5M273.5 604.5h94.5M273.5 681.5h94.5M273.5 743.5h94.5M273.5 759.5h94.5M273.5 772.5h94.5M368 407.5h94.5M368 417.5h94.5M368 475.5h94.5M368 501.5h94.5M368 536.5h94.5M368 635.5h94.5M368 670.5h94.5M368 681.5h94.5M368 690.5h94.5M368 728.5h94.5M368 742.5h94.5M368 748.5h94.5M368 753.5h94.5M368 759.5h94.5M462.5 355.5h94.5M462.5 373.5h94.5M462.5 383.5h94.5M462.5 469.5h94.5M462.5 712.5h94.5M462.5 739.5h94.5M462.5 748.5h94.5M462.5 758.5h94.5M557 361.5h94.5M557 367.5h94.5M557 381.5h94.5M557 409.5h94.5M557 417.5h94.5M557 425.5h94.5M557 429.5h94.5M557 464.5h94.5M557 605.5h94.5M557 734.5h94.5M557 743.5h94.5M557 775.5h94.5M651.5 344.5h94.5M651.5 355.5h94.5M651.5 374.5h94.5M651.5 398.5h94.5M651.5 442.5h94.5M651.5 445.5h94.5M651.5 510.5h94.5M651.5 595.5h94.5M651.5 607.5h94.5M651.5 645.5h94.5M651.5 722.5h94.5M746 361.5h94.5M746 418.5h94.5M746 427.5h94.5M746 429.5h94.5M746 528.5h94.5M746 538.5h94.5M746 671.5h94.5M840.5 365.5h94.5M840.5 381.5h94.5M840.5 390.5h94.5M840.5 398.5h94.5M840.5 426.5h94.5M840.5 509.5h94.5M840.5 602.5h94.5M840.5 658.5h94.5M840.5 721.5h94.5M935 364.5h94.5M935 372.5h94.5M935 381.5h94.5M935 410.5h94.5M935 424.5h94.5M935 435.5h94.5M935 457.5h94.5M935 498.5h94.5M935 504.5h94.5M935 513.5h94.5M935 628.5h94.5M935 680.5h94.5M935 682.5h94.5M935 689.5h94.5M935 692.5h94.5M935 748.5h94.5M935 758.5h94.5M1029.5 372.5h94.5M1029.5 381.5h94.5M1029.5 392.5h94.5M1029.5 401.5h94.5M1029.5 427.5h94.5M1029.5 476.5h94.5M1029.5 519.5h94.5M1029.5 668.5h94.5M1029.5 739.5h94.5M1029.5 753.5h94.5M1124 381.5h94.5M1124 431.5h94.5M1124 484.5h94.5M1124 512.5h94.5M1124 674.5h94.5M1124 684.5h94.5M1124 691.5h94.5M1124 722.5h94.5M1124 745.5h94.5M1218.5 388.5h94M1218.5 409.5h94M1218.5 476.5h94M1218.5 540.5h94M1218.5 542.5h94M1218.5 586.5h94M1218.5 597.5h94M1218.5 657.5h94M1218.5 680.5h94M1218.5 691.5h94M1218.5 731.5h94M1218.5 740.5h94"/>
<path fill="#0000d8" d="M179 417h94.5v2h-94.5zM179 774h94.5v2h-94.5zM273.5 406h94.5v2h-94.5zM368 517h94.5v2h-94.5zM462.5 775h94.5v2h-94.5zM746 746h94.5v2h-94.5z"/>
<path stroke="#0000dc" d="M179 367.5h94.5M179 398.5h94.5M179 456.5h94.5M179 459.5h94.5M179 484.5h94.5M179 537.5h94.5M179 650.5h94.5M179 695.5h94.5M179 719.5h94.5M179 734.5h94.5M179 766.5h94.5M273.5 360.5h94.5M273.5 378.5h94.5M273.5 397.5h94.5M273.5 471.5h94.5M273.5 518.5h94.5M273.5 530.5h94.5M273.5 602.5h94.5M273.5 607.5h94.5M273.5 686.5h94.5M273.5 724.5h94.5M273.5 740.5h94.5M273.5 760.5h94.5M273.5 766.5h94.5M368 379.5h94.5M368 382.5h94.5M368 405.5h94.5M368 437.5h94.5M368 447.5h94.5M368 507.5h94.5M368 528.5h94.5M368 583.5h94.5M368 592.5h94.5M368 602.5h94.5M368 692.5h94.5M368 714.5h94.5M368 716.5h94.5M368 733.5h94.5M368 758.5h94.5M462.5 361.5h94.5M462.5 367.5h94.5M462.5 418.5h94.5M462.5 430.5h94.5M462.5 433.5h94.5M462.5 501.5h94.5M462.5 508.5h94.5M462.5 596.5h94.5M462.5 691.5h94.5M462.5 734.5h94.5M462.5 741.5h94.5M462.5 767.5h94.5M557 390.5h94.5M557 394.5h94.5M557 410.5h94.5M557 473.5h94.5M557 651.5h94.5M557 680.5h94.5M557 683.5h94.5M557 718.5h94.5M557 722.5h94.5M557 724.5h94.5M557 749.5h94.5M651.5 350.5h94.5M651.5 366.5h94.5M651.5 409.5h94.5M651.5 428.5h94.5M651.5 498.5h94.5M651.5 627.5h94.5M651.5 680.5h94.5M651.5 695.5h94.5M651.5 732.5h94.5M651.5 759.5h94.5M746 362.5h94.5M746 509.5h94.5M746 589.5h94.5M746 592.5h94.5M746 629.5h94.5M746 658.5h94.5M746 691.5h94.5M746 716.5h94.5M746 729.5h94.5M840.5 371.5h94.5M840.5 395.5h94.5M840.5 409.5h94.5M840.5 464.5h94.5M840.5 511.5h94.5M840.5 606.5h94.5M840.5 667.5h94.5M840.5 723.5h94.5M840.5 735.5h94.5M935 366.5h94.5M935 409.5h94.5M935 470.5h94.5M935 485.5h94.5M935 549.5h94.5M935 593.5h94.5M935 627.5h94.5M935 650.5h94.5M935 694.5h94.5M935 731.5h94.5M935 733.5h94.5M935 752.5h94.5M1029.5 403.5h94.5M1029.5 457.5h94.5M1029.5 467.5h94.5M1029.5 520.5h94.5M1029.5 528.5h94.5M1029.5 554.5h94.5M1029.5 604.5h94.5M1029.5 607.5h94.5M1029.5 695.5h94.5M1029.5 718.5h94.5M1029.5 723.5h94.5M1029.5 732.5h94.5M1124 424.5h94.5M1124 440.5h94.5M1124 443.5h94.5M1124 476.5h94.5M1124 486.5h94.5M1124 509.5h94.5M1124 514.5h94.5M1124 600.5h94.5M1124 673.5h94.5M1124 683.5h94.5M1124 725.5h94.5M1124 733.5h94.5M1124 758.5h94.5M1218.5 391.5h94M1218.5 408.5h94M1218.5 416.5h94M1218.5 604.5h94M1218.5 689.5h94"/>
<path fill="#0000dc" d="M179 409h94.5v3h-94.5zM273.5 773h94.5v2h-94.5zM273.5 783h94.5v2h-94.5zM368 515h94.5v2h-94.5zM368 625h94.5v2h-94.5zM557 511h94.5v2h-94.5zM557 527h94.5v3h-94.5zM557 657h94.5v3h-94.5zM557 759h94.5v2h-94.5zM651.5 587h94.5v2h-94.5zM1124 526h94.5v2h-94.5zM1218.5 548h94v2h-94zM1218.5 758h94v2h-94z"/>
<path stroke="#0000e0" d="M179 391.5h94.5M179 441.5h94.5M179 483.5h94.5M179 507.5h94.5M179 511.5h94.5M179 521.5h94.5M179 531.5h94.5M179 578.5h94.5M179 727.5h94.5M179 732.5h94.5M179 740.5h94.5M179 748.5h94.5M179 759.5h94.5M273.5 396.5h94.5M273.5 425.5h94.5M273.5 434.5h94.5M273.5 444.5h94.5M273.5 514.5h94.5M273.5 663.5h94.5M273.5 685.5h94.5M273.5 723.5h94.5M273.5 733.5h94.5M273.5 747.5h94.5M368 360.5h94.5M368 366.5h94.5M368 374.5h94.5M368 392.5h94.5M368 408.5h94.5M368 446.5h94.5M368 663.5h94.5M368 691.5h94.5M368 693.5h94.5M368 695.5h94.5M368 720.5h94.5M368 747.5h94.5M462.5 360.5h94.5M462.5 381.5h94.5M462.5 390.5h94.5M462.5 400.5h94.5M462.5 410.5h94.5M462.5 446.5h94.5M462.5 458.5h94.5M462.5 466.5h94.5M462.5 591.5h94.5M462.5 656.5h94.5M462.5 681.5h94.5M462.5 688.5h94.5M462.5 725.5h94.5M462.5 754.5h94.5M557 384.5h94.5M557 441.5h94.5M557 462.5h94.5M557 589.5h94.5M557 767.5h94.5M651.5 361.5h94.5M651.5 408.5h94.5M651.5 427.5h94.5M651.5 457.5h94.5M651.5 468.5h94.5M651.5 512.5h94.5M651.5 586.5h94.5M651.5 589.5h94.5M651.5 643.5h94.5M651.5 692.5h94.5M651.5 753.5h94.5M746 382.5h94.5M746 424.5h94.5M746 583.5h94.5M746 604.5h94.5M746 610.5h94.5M746 623.5h94.5M746 644.5h94.5M746 651.5h94.5M840.5 366.5h94.5M840.5 379.5h94.5M840.5 400.5h94.5M840.5 432.5h94.5M840.5 456.5h94.5M840.5 462.5h94.5M840.5 588.5h94.5M840.5 605.5h94.5M840.5 682.5h94.5M840.5 690.5h94.5M935 401.5h94.5M935 434.5h94.5M935 468.5h94.5M935 529.5h94.5M935 577.5h94.5M935 600.5h94.5M935 606.5h94.5M935 614.5h94.5M935 644.5h94.5M935 646.5h94.5M935 740.5h94.5M1029.5 380.5h94.5M1029.5 390.5h94.5M1029.5 402.5h94.5M1029.5 441.5h94.5M1029.5 485.5h94.5M1029.5 529.5h94.5M1029.5 574.5h94.5M1029.5 587.5h94.5M1029.5 644.5h94.5M1029.5 650.5h94.5M1029.5 682.5h94.5M1029.5 746.5h94.5M1029.5 759.5h94.5M1124 380.5h94.5M1124 456.5h94.5M1124 467.5h94.5M1124 540.5h94.5M1124 592.5h94.5M1124 596.5h94.5M1124 664.5h94.5M1218.5 472.5h94M1218.5 477.5h94M1218.5 482.5h94M1218.5 485.5h94M1218.5 518.5h94M1218.5 521.5h94M1218.5 525.5h94M1218.5 534.5h94M1218.5 541.5h94M1218.5 547.5h94M1218.5 585.5h94M1218.5 594.5h94M1218.5 742.5h94M1218.5 747.5h94"/>
<path fill="#0000e0" d="M273.5 501h94.5v2h-94.5zM368 656h94.5v2h-94.5zM368 740h94.5v2h-94.5zM557 689h94.5v2h-94.5zM651.5 417h94.5v2h-94.5zM746 529h94.5v2h-94.5zM840.5 753h94.5v2h-94.5zM1029.5 546h94.5v2h-94.5zM1124 446h94.5v3h-94.5z"/>
<path stroke="#0000e4" d="M179 401.5h94.5M179 455.5h94.5M179 463.5h94.5M179 477.5h94.5M179 485.5h94.5M179 519.5h94.5M179 592.5h94.5M179 607.5h94.5M179 657.5h94.5M179 718.5h94.5M179 725.5h94.5M179 733.5h94.5M273.5 475.5h94.5M273.5 520.5h94.5M273.5 598.5h94.5M273.5 614.5h94.5M273.5 716.5h94.5M273.5 730.5h94.5M368 365.5h94.5M368 431.5h94.5M368 511.5h94.5M368 729.5h94.5M368 732.5h94.5M462.5 366.5h94.5M462.5 375.5h94.5M462.5 402.5h94.5M462.5 441.5h94.5M462.5 447.5h94.5M462.5 664.5h94.5M462.5 680.5h94.5M462.5 731.5h94.5M462.5 753.5h94.5M462.5 759.5h94.5M557 374.5h94.5M557 446.5h94.5M557 472.5h94.5M557 482.5h94.5M557 509.5h94.5M557 594.5h94.5M557 695.5h94.5M651.5 360.5h94.5M651.5 467.5h94.5M651.5 530.5h94.5M651.5 656.5h94.5M651.5 731.5h94.5M651.5 747.5h94.5M746 392.5h94.5M746 399.5h94.5M746 408.5h94.5M746 417.5h94.5M746 431.5h94.5M746 435.5h94.5M746 459.5h94.5M746 606.5h94.5M746 723.5h94.5M840.5 373.5h94.5M840.5 394.5h94.5M840.5 410.5h94.5M840.5 419.5h94.5M840.5 463.5h94.5M840.5 627.5h94.5M840.5 657.5h94.5M840.5 684.5h94.5M840.5 716.5h94.5M935 365.5h94.5M935 393.5h94.5M935 400.5h94.5M935 447.5h94.5M935 596.5h94.5M935 658.5h94.5M935 673.5h94.5M935 732.5h94.5M935 747.5h94.5M1029.5 391.5h94.5M1029.5 429.5h94.5M1029.5 435.5h94.5M1029.5 477.5h94.5M1029.5 484.5h94.5M1029.5 491.5h94.5M1029.5 503.5h94.5M1029.5 589.5h94.5M1029.5 613.5h94.5M1029.5 627.5h94.5M1029.5 643.5h94.5M1029.5 665.5h94.5M1029.5 731.5h94.5M1029.5 740.5h94.5M1029.5 747.5h94.5M1124 445.5h94.5M1124 460.5h94.5M1124 483.5h94.5M1124 521.5h94.5M1124 573.5h94.5M1124 589.5h94.5M1124 602.5h94.5M1124 608.5h94.5M1124 657.5h94.5M1124 732.5h94.5M1124 738.5h94.5M1218.5 400.5h94M1218.5 452.5h94M1218.5 460.5h94M1218.5 492.5h94M1218.5 584.5h94M1218.5 646.5h94M1218.5 650.5h94M1218.5 659.5h94M1218.5 681.5h94M1218.5 717.5h94M1218.5 722.5h94M1218.5 748.5h94M1218.5 753.5h94"/>
<path fill="#0000e4" d="M651.5 389h94.5v2h-94.5zM651.5 716h94.5v2h-94.5zM746 366h94.5v2h-94.5zM746 739h94.5v2h-94.5zM840.5 516h94.5v2h-94.5zM1218.5 378h94v2h-94zM1218.5 545h94v2h-94z"/>
<path stroke="#0000e8" d="M179 373.5h94.5M179 380.5h94.5M179 389.5h94.5M179 426.5h94.5M179 447.5h94.5M179 466.5h94.5M179 476.5h94.5M179 491.5h94.5M179 504.5h94.5M179 579.5h94.5M179 591.5h94.5M179 613.5h94.5M179 688.5h94.5M179 747.5h94.5M273.5 366.5h94.5M273.5 389.5h94.5M273.5 510.5h94.5M273.5 717.5h94.5M273.5 732.5h94.5M273.5 748.5h94.5M368 416.5h94.5M368 425.5h94.5M368 465.5h94.5M368 591.5h94.5M368 651.5h94.5M368 664.5h94.5M462.5 374.5h94.5M462.5 409.5h94.5M462.5 416.5h94.5M462.5 425.5h94.5M462.5 451.5h94.5M462.5 459.5h94.5M462.5 468.5h94.5M462.5 531.5h94.5M462.5 717.5h94.5M462.5 723.5h94.5M462.5 733.5h94.5M557 383.5h94.5M557 402.5h94.5M557 432.5h94.5M557 435.5h94.5M557 442.5h94.5M557 502.5h94.5M557 508.5h94.5M557 517.5h94.5M557 541.5h94.5M557 716.5h94.5M557 723.5h94.5M557 730.5h94.5M557 747.5h94.5M557 753.5h94.5M651.5 432.5h94.5M651.5 438.5h94.5M651.5 475.5h94.5M651.5 511.5h94.5M651.5 590.5h94.5M651.5 611.5h94.5M746 373.5h94.5M746 381.5h94.5M746 441.5h94.5M746 451.5h94.5M746 475.5h94.5M746 597.5h94.5M746 599.5h94.5M746 643.5h94.5M746 670.5h94.5M746 717.5h94.5M746 731.5h94.5M840.5 418.5h94.5M840.5 473.5h94.5M840.5 490.5h94.5M840.5 501.5h94.5M840.5 528.5h94.5M840.5 598.5h94.5M840.5 728.5h94.5M935 371.5h94.5M935 391.5h94.5M935 425.5h94.5M935 431.5h94.5M935 437.5h94.5M935 477.5h94.5M935 674.5h94.5M1029.5 434.5h94.5M1029.5 460.5h94.5M1029.5 573.5h94.5M1029.5 675.5h94.5M1029.5 684.5h94.5M1029.5 724.5h94.5M1124 401.5h94.5M1124 432.5h94.5M1124 528.5h94.5M1124 587.5h94.5M1124 660.5h94.5M1124 717.5h94.5M1124 723.5h94.5M1124 739.5h94.5M1218.5 399.5h94M1218.5 438.5h94M1218.5 601.5h94M1218.5 613.5h94"/>
<path fill="#0000e8" d="M651.5 425h94.5v2h-94.5zM1124 391h94.5v2h-94.5zM1218.5 389h94v2h-94z"/>
<path stroke="#0000ec" d="M179 399.5h94.5M179 443.5h94.5M179 448.5h94.5M179 453.5h94.5M179 612.5h94.5M179 674.5h94.5M273.5 372.5h94.5M273.5 380.5h94.5M273.5 519.5h94.5M273.5 671.5h94.5M273.5 731.5h94.5M368 372.5h94.5M368 448.5h94.5M368 467.5h94.5M368 497.5h94.5M368 519.5h94.5M368 526.5h94.5M368 535.5h94.5M368 596.5h94.5M368 672.5h94.5M368 721.5h94.5M462.5 394.5h94.5M462.5 417.5h94.5M462.5 593.5h94.5M462.5 608.5h94.5M462.5 621.5h94.5M462.5 653.5h94.5M462.5 718.5h94.5M557 382.5h94.5M557 526.5h94.5M557 754.5h94.5M651.5 443.5h94.5M651.5 505.5h94.5M651.5 723.5h94.5M746 391.5h94.5M746 398.5h94.5M746 401.5h94.5M746 409.5h94.5M746 426.5h94.5M746 430.5h94.5M746 442.5h94.5M746 491.5h94.5M746 508.5h94.5M746 518.5h94.5M746 627.5h94.5M746 645.5h94.5M746 730.5h94.5M840.5 372.5h94.5M840.5 508.5h94.5M840.5 653.5h94.5M840.5 747.5h94.5M935 390.5h94.5M935 445.5h94.5M935 460.5h94.5M935 548.5h94.5M935 550.5h94.5M935 582.5h94.5M935 599.5h94.5M935 603.5h94.5M935 637.5h94.5M1029.5 448.5h94.5M1029.5 513.5h94.5M1029.5 527.5h94.5M1029.5 592.5h94.5M1029.5 717.5h94.5M1124 439.5h94.5M1124 470.5h94.5M1124 474.5h94.5M1124 520.5h94.5M1124 533.5h94.5M1124 536.5h94.5M1124 583.5h94.5M1124 682.5h94.5M1124 724.5h94.5M1218.5 432.5h94M1218.5 451.5h94M1218.5 483.5h94M1218.5 503.5h94M1218.5 550.5h94M1218.5 695.5h94M1218.5 716.5h94"/>
<path fill="#0000ec" d="M368 388h94.5v2h-94.5zM368 730h94.5v2h-94.5zM557 391h94.5v3h-94.5zM557 590h94.5v2h-94.5zM557 664h94.5v2h-94.5zM651.5 372h94.5v2h-94.5zM651.5 739h94.5v2h-94.5zM935 379h94.5v2h-94.5zM1029.5 611h94.5v2h-94.5zM1124 730h94.5v2h-94.5zM1218.5 516h94v2h-94z"/>
<path stroke="#0000f0" d="M179 381.5h94.5M179 390.5h94.5M179 400.5h94.5M179 440.5h94.5M179 492.5h94.5M179 526.5h94.5M179 683.5h94.5M273.5 399.5h94.5M273.5 461.5h94.5M368 391.5h94.5M368 399.5h94.5M368 401.5h94.5M368 424.5h94.5M368 432.5h94.5M368 453.5h94.5M368 490.5h94.5M368 658.5h94.5M368 665.5h94.5M462.5 424.5h94.5M462.5 445.5h94.5M462.5 467.5h94.5M462.5 592.5h94.5M462.5 646.5h94.5M462.5 747.5h94.5M557 434.5h94.5M557 456.5h94.5M557 740.5h94.5M651.5 379.5h94.5M651.5 399.5h94.5M651.5 456.5h94.5M651.5 506.5h94.5M651.5 634.5h94.5M651.5 672.5h94.5M746 432.5h94.5M746 516.5h94.5M746 531.5h94.5M840.5 402.5h94.5M840.5 427.5h94.5M840.5 452.5h94.5M840.5 502.5h94.5M840.5 518.5h94.5M840.5 608.5h94.5M840.5 656.5h94.5M840.5 722.5h94.5M840.5 730.5h94.5M840.5 739.5h94.5M840.5 746.5h94.5M935 392.5h94.5M935 446.5h94.5M935 512.5h94.5M935 576.5h94.5M1029.5 454.5h94.5M1029.5 486.5h94.5M1029.5 518.5h94.5M1029.5 653.5h94.5M1124 539.5h94.5M1218.5 440.5h94M1218.5 512.5h94M1218.5 741.5h94"/>
<path fill="#0000f0" d="M273.5 508h94.5v2h-94.5zM462.5 694h94.5v2h-94.5zM557 503h94.5v2h-94.5zM557 673h94.5v2h-94.5zM1124 518h94.5v2h-94.5zM1124 658h94.5v2h-94.5zM1124 685h94.5v2h-94.5z"/>
<path stroke="#0000f4" d="M179 446.5h94.5M179 468.5h94.5M179 646.5h94.5M273.5 379.5h94.5M273.5 387.5h94.5M273.5 398.5h94.5M273.5 433.5h94.5M273.5 477.5h94.5M273.5 596.5h94.5M273.5 657.5h94.5M273.5 683.5h94.5M368 373.5h94.5M368 381.5h94.5M368 390.5h94.5M368 468.5h94.5M368 476.5h94.5M368 649.5h94.5M368 694.5h94.5M462.5 391.5h94.5M462.5 509.5h94.5M462.5 536.5h94.5M462.5 604.5h94.5M462.5 638.5h94.5M462.5 663.5h94.5M462.5 679.5h94.5M462.5 732.5h94.5M557 474.5h94.5M557 516.5h94.5M557 626.5h94.5M557 717.5h94.5M557 733.5h94.5M557 748.5h94.5M651.5 380.5h94.5M651.5 573.5h94.5M651.5 596.5h94.5M746 380.5h94.5M746 434.5h94.5M746 453.5h94.5M746 626.5h94.5M746 628.5h94.5M746 650.5h94.5M746 657.5h94.5M746 663.5h94.5M840.5 380.5h94.5M840.5 392.5h94.5M840.5 401.5h94.5M840.5 445.5h94.5M840.5 512.5h94.5M840.5 626.5h94.5M840.5 729.5h94.5M935 433.5h94.5M935 528.5h94.5M935 578.5h94.5M935 605.5h94.5M1029.5 664.5h94.5M1124 438.5h94.5M1124 473.5h94.5M1124 599.5h94.5M1124 646.5h94.5M1124 652.5h94.5M1218.5 433.5h94M1218.5 664.5h94M1218.5 692.5h94M1218.5 724.5h94M1218.5 734.5h94"/>
<path fill="#0000f4" d="M557 741h94.5v2h-94.5zM840.5 483h94.5v2h-94.5zM1218.5 607h94v3h-94z"/>
<path stroke="#0000f8" d="M179 433.5h94.5M179 467.5h94.5M179 503.5h94.5M179 682.5h94.5M273.5 388.5h94.5M273.5 603.5h94.5M368 520.5h94.5M368 529.5h94.5M368 655.5h94.5M462.5 382.5h94.5M462.5 401.5h94.5M462.5 452.5h94.5M462.5 484.5h94.5M462.5 510.5h94.5M462.5 537.5h94.5M462.5 597.5h94.5M462.5 645.5h94.5M462.5 682.5h94.5M462.5 740.5h94.5M557 656.5h94.5M557 675.5h94.5M557 731.5h94.5M651.5 504.5h94.5M746 390.5h94.5M746 425.5h94.5M746 452.5h94.5M746 490.5h94.5M746 522.5h94.5M746 652.5h94.5M840.5 391.5h94.5M840.5 466.5h94.5M840.5 491.5h94.5M935 522.5h94.5M935 527.5h94.5M935 592.5h94.5M935 681.5h94.5M1029.5 433.5h94.5M1029.5 444.5h94.5M1029.5 447.5h94.5M1029.5 452.5h94.5M1029.5 509.5h94.5M1029.5 522.5h94.5M1124 464.5h94.5M1218.5 515.5h94M1218.5 614.5h94M1218.5 693.5h94M1218.5 723.5h94"/>
<path fill="#0000f8" d="M840.5 474h94.5v3h-94.5zM1218.5 732h94v2h-94z"/>
<path stroke="#0000fc" d="M179 517.5h94.5M273.5 634.5h94.5M368 380.5h94.5M368 652.5h94.5M368 666.5h94.5M462.5 453.5h94.5M462.5 511.5h94.5M462.5 724.5h94.5M557 732.5h94.5M746 400.5h94.5M840.5 643.5h94.5M935 643.5h94.5M935 657.5h94.5M935 675.5h94.5M1029.5 516.5h94.5M1029.5 521.5h94.5M1124 463.5h94.5M1124 490.5h94.5M1124 492.5h94.5M1124 517.5h94.5M1124 653.5h94.5M1218.5 615.5h94"/>
<path fill="#0000fc" d="M462.5 392h94.5v2h-94.5zM557 480h94.5v2h-94.5zM840.5 503h94.5v2h-94.5z"/>
<path stroke="#0000ff" d="M368 400.5h94.5M651.5 477.5h94.5M746 605.5h94.5M840.5 447.5h94.5M840.5 644.5h94.5M935 432.5h94.5M1124 491.5h94.5"/>
<path stroke="#0004d4" d="M557 498.5h94.5"/>
<path stroke="#0004e0" d="M651.5 448.5h94.5M840.5 496.5h94.5"/>
<path stroke="#0004e4" d="M273.5 525.5h94.5M746 655.5h94.5M1029.5 553.5h94.5M1218.5 670.5h94"/>
<path stroke="#0004e8" d="M179 680.5h94.5M273.5 496.5h94.5M1029.5 439.5h94.5M1029.5 474.5h94.5"/>
<path stroke="#0004ec" d="M179 668.5h94.5M273.5 449.5h94.5M273.5 665.5h94.5M368 498.5h94.5M368 679.5h94.5M557 660.5h94.5M651.5 614.5h94.5M840.5 582.5h94.5M840.5 586.5h94.5M935 465.5h94.5M935 608.5h94.5M1029.5 498.5h94.5M1029.5 532.5h94.5M1218.5 509.5h94"/>
<path stroke="#0004f0" d="M273.5 503.5h94.5M273.5 582.5h94.5M368 440.5h94.5M462.5 475.5h94.5M462.5 544.5h94.5M462.5 670.5h94.5M557 448.5h94.5M557 466.5h94.5M557 514.5h94.5M557 602.5h94.5M557 608.5h94.5M557 625.5h94.5M651.5 486.5h94.5M651.5 608.5h94.5M651.5 635.5h94.5M840.5 443.5h94.5M935 585.5h94.5M1029.5 465.5h94.5M1029.5 540.5h94.5M1218.5 469.5h94M1218.5 505.5h94"/>
<path stroke="#0004f4" d="M179 660.5h94.5M179 664.5h94.5M273.5 474.5h94.5M273.5 662.5h94.5M462.5 614.5h94.5M462.5 620.5h94.5M557 542.5h94.5M557 586.5h94.5M557 684.5h94.5M651.5 592.5h94.5M746 438.5h94.5M746 591.5h94.5M840.5 434.5h94.5M840.5 485.5h94.5M840.5 521.5h94.5M840.5 531.5h94.5M840.5 603.5h94.5M840.5 666.5h94.5M935 450.5h94.5M935 478.5h94.5M1029.5 542.5h94.5M1029.5 633.5h94.5M1124 574.5h94.5M1218.5 463.5h94"/>
<path stroke="#0004f8" d="M179 502.5h94.5M179 583.5h94.5M179 654.5h94.5M273.5 462.5h94.5M368 504.5h94.5M368 654.5h94.5M557 455.5h94.5M557 574.5h94.5M651.5 522.5h94.5M651.5 603.5h94.5M651.5 665.5h94.5M651.5 671.5h94.5M746 456.5h94.5M746 690.5h94.5M840.5 433.5h94.5M840.5 527.5h94.5M935 664.5h94.5M1029.5 535.5h94.5M1029.5 575.5h94.5M1124 455.5h94.5M1124 541.5h94.5M1124 690.5h94.5M1218.5 583.5h94M1218.5 610.5h94M1218.5 628.5h94"/>
<path fill="#0004f8" d="M1029.5 602h94.5v2h-94.5z"/>
<path stroke="#0004fc" d="M179 439.5h94.5M179 445.5h94.5M179 518.5h94.5M179 673.5h94.5M273.5 672.5h94.5M368 454.5h94.5M368 514.5h94.5M462.5 476.5h94.5M462.5 485.5h94.5M462.5 518.5h94.5M462.5 526.5h94.5M557 475.5h94.5M557 663.5h94.5M651.5 453.5h94.5M651.5 591.5h94.5M651.5 653.5h94.5M746 440.5h94.5M746 443.5h94.5M746 492.5h94.5M746 622.5h94.5M840.5 482.5h94.5M935 591.5h94.5M1029.5 446.5h94.5M1218.5 533.5h94M1218.5 598.5h94"/>
<path stroke="#0004ff" d="M273.5 476.5h94.5M273.5 643.5h94.5M462.5 512.5h94.5M557 451.5h94.5M557 471.5h94.5M557 627.5h94.5M746 502.5h94.5M746 598.5h94.5M840.5 655.5h94.5M935 620.5h94.5M1029.5 685.5h94.5M1218.5 439.5h94M1218.5 484.5h94M1218.5 502.5h94"/>
<path fill="#0004ff" d="M179 644h94.5v2h-94.5z"/>
<path stroke="#0008e4" d="M1029.5 680.5h94.5"/>
<path stroke="#0008e8" d="M840.5 550.5h94.5M1218.5 528.5h94"/>
<path stroke="#0008ec" d="M273.5 482.5h94.5M368 450.5h94.5M462.5 599.5h94.5M935 539.5h94.5M935 683.5h94.5M1218.5 647.5h94"/>
<path stroke="#0008f0" d="M273.5 625.5h94.5M368 628.5h94.5M1029.5 580.5h94.5M1124 676.5h94.5M1218.5 449.5h94M1218.5 616.5h94"/>
<path stroke="#0008f4" d="M273.5 446.5h94.5M368 604.5h94.5M368 688.5h94.5M462.5 586.5h94.5M746 536.5h94.5M746 612.5h94.5M935 505.5h94.5M935 543.5h94.5M935 611.5h94.5M935 638.5h94.5M1029.5 634.5h94.5M1124 480.5h94.5M1124 499.5h94.5M1124 544.5h94.5M1124 604.5h94.5M1124 611.5h94.5"/>
<path stroke="#0008f8" d="M179 535.5h94.5M273.5 649.5h94.5M368 502.5h94.5M368 598.5h94.5M368 603.5h94.5M368 644.5h94.5M462.5 442.5h94.5M462.5 504.5h94.5M462.5 650.5h94.5M557 483.5h94.5M651.5 469.5h94.5M651.5 689.5h94.5M746 467.5h94.5M746 527.5h94.5M746 637.5h94.5M746 646.5h94.5M840.5 440.5h94.5M1124 502.5h94.5M1218.5 496.5h94M1218.5 498.5h94M1218.5 672.5h94"/>
<path stroke="#0008fc" d="M179 516.5h94.5M179 580.5h94.5M179 684.5h94.5M273.5 445.5h94.5M273.5 687.5h94.5M462.5 440.5h94.5M462.5 465.5h94.5M462.5 486.5h94.5M462.5 525.5h94.5M557 443.5h94.5M557 505.5h94.5M557 522.5h94.5M557 540.5h94.5M557 595.5h94.5M651.5 440.5h94.5M651.5 507.5h94.5M651.5 585.5h94.5M746 523.5h94.5M840.5 451.5h94.5M840.5 676.5h94.5M935 480.5h94.5M935 518.5h94.5M935 523.5h94.5M935 590.5h94.5M935 626.5h94.5M1029.5 618.5h94.5M1124 449.5h94.5M1124 598.5h94.5M1124 614.5h94.5M1218.5 481.5h94M1218.5 688.5h94"/>
<path stroke="#0008ff" d="M179 671.5h94.5M273.5 644.5h94.5M273.5 670.5h94.5M368 485.5h94.5M368 530.5h94.5M368 648.5h94.5M462.5 477.5h94.5M651.5 433.5h94.5M651.5 476.5h94.5M651.5 534.5h94.5M746 433.5h94.5M840.5 446.5h94.5M840.5 611.5h94.5M935 479.5h94.5M1029.5 517.5h94.5M1029.5 673.5h94.5M1124 444.5h94.5M1124 516.5h94.5M1218.5 627.5h94"/>
<path fill="#0008ff" d="M557 535h94.5v2h-94.5z"/>
<path stroke="#000ce4" d="M462.5 660.5h94.5M746 496.5h94.5M840.5 660.5h94.5"/>
<path stroke="#000ce8" d="M557 496.5h94.5"/>
<path stroke="#000cf0" d="M179 549.5h94.5M368 460.5h94.5M557 612.5h94.5M651.5 527.5h94.5M840.5 548.5h94.5"/>
<path stroke="#000cf4" d="M273.5 689.5h94.5M462.5 498.5h94.5M462.5 610.5h94.5M462.5 654.5h94.5M651.5 465.5h94.5M651.5 668.5h94.5M1029.5 624.5h94.5"/>
<path stroke="#000cf8" d="M179 474.5h94.5M179 478.5h94.5M179 577.5h94.5M179 595.5h94.5M273.5 483.5h94.5M273.5 654.5h94.5M462.5 431.5h94.5M651.5 485.5h94.5M746 464.5h94.5M746 473.5h94.5M746 539.5h94.5M840.5 628.5h94.5M1029.5 490.5h94.5M1029.5 597.5h94.5M1029.5 609.5h94.5M1124 525.5h94.5M1218.5 445.5h94"/>
<path stroke="#000cfc" d="M179 529.5h94.5M179 604.5h94.5M179 656.5h94.5M273.5 456.5h94.5M273.5 478.5h94.5M273.5 511.5h94.5M273.5 608.5h94.5M273.5 627.5h94.5M368 521.5h94.5M462.5 432.5h94.5M462.5 605.5h94.5M557 440.5h94.5M557 672.5h94.5M651.5 455.5h94.5M746 630.5h94.5M746 636.5h94.5M840.5 472.5h94.5M840.5 596.5h94.5M840.5 604.5h94.5M840.5 649.5h94.5M935 654.5h94.5M935 688.5h94.5M1029.5 534.5h94.5M1029.5 584.5h94.5M1124 529.5h94.5M1124 603.5h94.5M1218.5 656.5h94M1218.5 660.5h94"/>
<path stroke="#000cff" d="M179 512.5h94.5M179 543.5h94.5M179 672.5h94.5M179 685.5h94.5M273.5 439.5h94.5M273.5 486.5h94.5M273.5 492.5h94.5M273.5 507.5h94.5M462.5 478.5h94.5M462.5 644.5h94.5M557 433.5h94.5M557 470.5h94.5M651.5 536.5h94.5M651.5 597.5h94.5M651.5 604.5h94.5M746 476.5h94.5M746 517.5h94.5M746 685.5h94.5M840.5 467.5h94.5M840.5 681.5h94.5M935 456.5h94.5M935 461.5h94.5M935 656.5h94.5M1218.5 513.5h94M1218.5 530.5h94M1218.5 665.5h94"/>
<path fill="#000cff" d="M273.5 658h94.5v2h-94.5zM368 483h94.5v2h-94.5zM462.5 686h94.5v2h-94.5zM840.5 674h94.5v2h-94.5z"/>
<path stroke="#0010ec" d="M1029.5 496.5h94.5"/>
<path stroke="#0010f0" d="M462.5 496.5h94.5"/>
<path stroke="#0010f8" d="M179 548.5h94.5M179 628.5h94.5M273.5 535.5h94.5M368 608.5h94.5M557 614.5h94.5M746 472.5h94.5M1029.5 646.5h94.5M1124 580.5h94.5"/>
<path stroke="#0010fc" d="M179 482.5h94.5M179 528.5h94.5M179 602.5h94.5M368 582.5h94.5M368 667.5h94.5M462.5 437.5h94.5M462.5 454.5h94.5M462.5 671.5h94.5M557 501.5h94.5M557 583.5h94.5M557 653.5h94.5M840.5 489.5h94.5M840.5 507.5h94.5M840.5 515.5h94.5M935 438.5h94.5M935 661.5h94.5M1029.5 449.5h94.5M1029.5 545.5h94.5M1029.5 655.5h94.5M1124 508.5h94.5M1218.5 491.5h94M1218.5 592.5h94"/>
<path stroke="#0010ff" d="M179 454.5h94.5M179 490.5h94.5M179 525.5h94.5M179 663.5h94.5M273.5 440.5h94.5M273.5 450.5h94.5M273.5 452.5h94.5M273.5 597.5h94.5M368 464.5h94.5M368 503.5h94.5M368 525.5h94.5M368 597.5h94.5M368 619.5h94.5M368 673.5h94.5M462.5 522.5h94.5M462.5 535.5h94.5M462.5 538.5h94.5M462.5 598.5h94.5M462.5 628.5h94.5M462.5 673.5h94.5M557 453.5h94.5M557 646.5h94.5M651.5 464.5h94.5M651.5 598.5h94.5M651.5 620.5h94.5M651.5 628.5h94.5M651.5 646.5h94.5M651.5 673.5h94.5M651.5 675.5h94.5M651.5 684.5h94.5M746 512.5h94.5M746 557.5h94.5M746 590.5h94.5M746 635.5h94.5M840.5 477.5h94.5M840.5 591.5h94.5M840.5 609.5h94.5M840.5 673.5h94.5M935 615.5h94.5M1029.5 451.5h94.5M1029.5 493.5h94.5M1029.5 596.5h94.5M1029.5 663.5h94.5M1029.5 674.5h94.5M1029.5 686.5h94.5M1124 482.5h94.5M1124 515.5h94.5M1124 522.5h94.5M1218.5 501.5h94M1218.5 637.5h94M1218.5 666.5h94M1218.5 694.5h94"/>
<path fill="#0010ff" d="M368 438h94.5v2h-94.5zM557 628h94.5v2h-94.5zM746 503h94.5v2h-94.5zM746 648h94.5v2h-94.5z"/>
<path stroke="#0014ec" d="M557 580.5h94.5"/>
<path stroke="#0014f0" d="M746 482.5h94.5"/>
<path stroke="#0014f8" d="M273.5 457.5h94.5M273.5 498.5h94.5M273.5 537.5h94.5M368 624.5h94.5M368 632.5h94.5M368 669.5h94.5M462.5 456.5h94.5M557 439.5h94.5M840.5 459.5h94.5M1218.5 654.5h94"/>
<path stroke="#0014fc" d="M273.5 513.5h94.5M273.5 611.5h94.5M368 610.5h94.5M462.5 470.5h94.5M462.5 507.5h94.5M462.5 647.5h94.5M557 507.5h94.5M557 598.5h94.5M651.5 515.5h94.5M840.5 454.5h94.5M935 448.5h94.5M1124 645.5h94.5M1218.5 493.5h94"/>
<path stroke="#0014ff" d="M179 522.5h94.5M179 538.5h94.5M273.5 543.5h94.5M273.5 645.5h94.5M273.5 673.5h94.5M273.5 684.5h94.5M368 456.5h94.5M462.5 439.5h94.5M462.5 513.5h94.5M462.5 521.5h94.5M462.5 615.5h94.5M462.5 637.5h94.5M462.5 639.5h94.5M557 490.5h94.5M557 534.5h94.5M557 604.5h94.5M557 620.5h94.5M557 650.5h94.5M557 654.5h94.5M557 676.5h94.5M651.5 633.5h94.5M651.5 674.5h94.5M746 446.5h94.5M746 463.5h94.5M746 620.5h94.5M746 674.5h94.5M840.5 453.5h94.5M840.5 513.5h94.5M840.5 597.5h94.5M840.5 645.5h94.5M1029.5 440.5h94.5M1029.5 461.5h94.5M1029.5 492.5h94.5M1029.5 508.5h94.5M1029.5 619.5h94.5M1029.5 672.5h94.5M1124 625.5h94.5M1124 654.5h94.5M1124 672.5h94.5M1218.5 444.5h94M1218.5 450.5h94M1218.5 514.5h94M1218.5 605.5h94"/>
<path fill="#0014ff" d="M179 610h94.5v2h-94.5zM1124 461h94.5v2h-94.5zM1218.5 455h94v2h-94z"/>
<path stroke="#0018f0" d="M1124 650.5h94.5"/>
<path stroke="#0018f8" d="M368 506.5h94.5M935 454.5h94.5M935 531.5h94.5"/>
<path stroke="#0018fc" d="M179 462.5h94.5M179 675.5h94.5M273.5 680.5h94.5M368 443.5h94.5M368 473.5h94.5M368 659.5h94.5M746 450.5h94.5M746 484.5h94.5M746 515.5h94.5M746 672.5h94.5M935 508.5h94.5M935 514.5h94.5M935 647.5h94.5M1029.5 628.5h94.5"/>
<path stroke="#0018ff" d="M179 598.5h94.5M273.5 628.5h94.5M273.5 648.5h94.5M273.5 675.5h94.5M368 496.5h94.5M368 512.5h94.5M462.5 460.5h94.5M462.5 483.5h94.5M462.5 630.5h94.5M557 452.5h94.5M557 491.5h94.5M557 515.5h94.5M557 671.5h94.5M651.5 439.5h94.5M651.5 444.5h94.5M651.5 519.5h94.5M651.5 572.5h94.5M746 507.5h94.5M746 621.5h94.5M746 662.5h94.5M746 664.5h94.5M746 684.5h94.5M840.5 589.5h94.5M840.5 636.5h94.5M840.5 665.5h94.5M935 503.5h94.5M935 526.5h94.5M935 597.5h94.5M935 604.5h94.5M935 629.5h94.5M1029.5 483.5h94.5M1029.5 586.5h94.5M1029.5 608.5h94.5M1029.5 669.5h94.5M1124 590.5h94.5M1124 627.5h94.5M1124 637.5h94.5M1124 647.5h94.5M1218.5 478.5h94M1218.5 532.5h94M1218.5 638.5h94"/>
<path fill="#0018ff" d="M935 443h94.5v2h-94.5zM935 671h94.5v2h-94.5zM1124 537h94.5v2h-94.5z"/>
<path stroke="#001cec" d="M1124 507.5h94.5"/>
<path stroke="#001cf0" d="M1124 496.5h94.5"/>
<path stroke="#001cf8" d="M368 500.5h94.5M746 660.5h94.5"/>
<path stroke="#001cfc" d="M179 486.5h94.5M368 486.5h94.5M368 614.5h94.5M368 684.5h94.5M746 615.5h94.5M746 624.5h94.5M840.5 579.5h94.5M1029.5 478.5h94.5M1029.5 676.5h94.5M1124 547.5h94.5"/>
<path stroke="#001cff" d="M179 444.5h94.5M179 544.5h94.5M273.5 629.5h94.5M273.5 637.5h94.5M273.5 674.5h94.5M368 445.5h94.5M368 463.5h94.5M368 477.5h94.5M368 491.5h94.5M368 618.5h94.5M368 641.5h94.5M462.5 479.5h94.5M462.5 640.5h94.5M462.5 683.5h94.5M557 454.5h94.5M557 469.5h94.5M557 530.5h94.5M651.5 474.5h94.5M651.5 478.5h94.5M651.5 503.5h94.5M651.5 531.5h94.5M651.5 535.5h94.5M651.5 629.5h94.5M746 445.5h94.5M746 474.5h94.5M746 611.5h94.5M746 642.5h94.5M840.5 439.5h94.5M840.5 450.5h94.5M840.5 672.5h94.5M935 598.5h94.5M1029.5 455.5h94.5M1029.5 515.5h94.5M1029.5 591.5h94.5M1124 530.5h94.5M1124 597.5h94.5M1124 609.5h94.5M1124 668.5h94.5M1218.5 471.5h94M1218.5 522.5h94M1218.5 631.5h94M1218.5 644.5h94M1218.5 663.5h94"/>
<path fill="#001cff" d="M935 475h94.5v2h-94.5zM1218.5 461h94v2h-94z"/>
<path stroke="#0020fc" d="M557 459.5h94.5M651.5 450.5h94.5M651.5 661.5h94.5"/>
<path stroke="#0020ff" d="M179 505.5h94.5M179 542.5h94.5M179 634.5h94.5M179 661.5h94.5M273.5 635.5h94.5M273.5 669.5h94.5M368 482.5h94.5M462.5 622.5h94.5M462.5 643.5h94.5M462.5 667.5h94.5M557 525.5h94.5M557 655.5h94.5M557 668.5h94.5M557 688.5h94.5M651.5 460.5h94.5M651.5 540.5h94.5M651.5 609.5h94.5M651.5 649.5h94.5M746 513.5h94.5M840.5 635.5h94.5M840.5 654.5h94.5M840.5 663.5h94.5M840.5 687.5h94.5M935 471.5h94.5M935 609.5h94.5M935 619.5h94.5M935 625.5h94.5M1029.5 445.5h94.5M1029.5 456.5h94.5M1029.5 470.5h94.5M1029.5 590.5h94.5M1029.5 616.5h94.5M1029.5 654.5h94.5M1029.5 661.5h94.5M1124 472.5h94.5M1124 493.5h94.5M1124 532.5h94.5M1124 591.5h94.5M1124 663.5h94.5M1124 681.5h94.5M1218.5 506.5h94M1218.5 508.5h94M1218.5 524.5h94M1218.5 593.5h94M1218.5 600.5h94"/>
<path fill="#0020ff" d="M935 463h94.5v2h-94.5z"/>
<path stroke="#0024f8" d="M840.5 624.5h94.5M935 668.5h94.5"/>
<path stroke="#0024fc" d="M273.5 521.5h94.5M462.5 612.5h94.5"/>
<path stroke="#0024ff" d="M179 450.5h94.5M179 532.5h94.5M179 637.5h94.5M273.5 451.5h94.5M273.5 641.5h94.5M368 478.5h94.5M368 548.5h94.5M368 653.5h94.5M368 661.5h94.5M368 674.5h94.5M462.5 515.5h94.5M462.5 547.5h94.5M462.5 629.5h94.5M462.5 674.5h94.5M651.5 463.5h94.5M651.5 470.5h94.5M651.5 610.5h94.5M651.5 619.5h94.5M651.5 664.5h94.5M746 625.5h94.5M840.5 444.5h94.5M840.5 614.5h94.5M935 484.5h94.5M935 547.5h94.5M935 579.5h94.5M935 642.5h94.5M935 649.5h94.5M935 676.5h94.5M1029.5 482.5h94.5M1029.5 502.5h94.5M1029.5 514.5h94.5M1029.5 637.5h94.5M1029.5 649.5h94.5M1029.5 688.5h94.5M1124 471.5h94.5M1124 656.5h94.5M1218.5 499.5h94M1218.5 507.5h94M1218.5 582.5h94M1218.5 599.5h94M1218.5 606.5h94M1218.5 622.5h94M1218.5 630.5h94M1218.5 643.5h94M1218.5 687.5h94"/>
<path fill="#0024ff" d="M651.5 654h94.5v2h-94.5z"/>
<path stroke="#0028f8" d="M1218.5 486.5h94"/>
<path stroke="#0028fc" d="M273.5 465.5h94.5M557 575.5h94.5M746 449.5h94.5M840.5 498.5h94.5"/>
<path stroke="#0028ff" d="M179 493.5h94.5M179 597.5h94.5M179 603.5h94.5M179 647.5h94.5M179 662.5h94.5M273.5 491.5h94.5M273.5 581.5h94.5M273.5 609.5h94.5M273.5 620.5h94.5M273.5 642.5h94.5M273.5 666.5h94.5M368 513.5h94.5M368 609.5h94.5M368 637.5h94.5M462.5 616.5h94.5M462.5 672.5h94.5M557 476.5h94.5M557 533.5h94.5M557 603.5h94.5M557 637.5h94.5M651.5 454.5h94.5M651.5 490.5h94.5M651.5 509.5h94.5M651.5 618.5h94.5M651.5 621.5h94.5M651.5 636.5h94.5M651.5 688.5h94.5M746 439.5h94.5M746 444.5h94.5M746 454.5h94.5M746 477.5h94.5M746 485.5h94.5M746 638.5h94.5M746 653.5h94.5M746 686.5h94.5M840.5 448.5h94.5M840.5 461.5h94.5M840.5 468.5h94.5M840.5 610.5h94.5M840.5 642.5h94.5M840.5 664.5h94.5M935 621.5h94.5M1029.5 523.5h94.5M1029.5 642.5h94.5M1124 584.5h94.5M1124 586.5h94.5M1124 618.5h94.5M1124 687.5h94.5M1218.5 470.5h94M1218.5 629.5h94M1218.5 645.5h94M1218.5 679.5h94M1218.5 682.5h94"/>
<path fill="#0028ff" d="M651.5 542h94.5v2h-94.5z"/>
<path stroke="#002cfc" d="M179 624.5h94.5M746 498.5h94.5"/>
<path stroke="#002cff" d="M179 473.5h94.5M179 513.5h94.5M179 515.5h94.5M179 596.5h94.5M179 608.5h94.5M179 670.5h94.5M179 679.5h94.5M273.5 472.5h94.5M273.5 524.5h94.5M273.5 647.5h94.5M368 531.5h94.5M368 537.5h94.5M368 636.5h94.5M368 647.5h94.5M368 675.5h94.5M462.5 450.5h94.5M462.5 541.5h94.5M462.5 623.5h94.5M462.5 631.5h94.5M462.5 662.5h94.5M557 461.5h94.5M557 596.5h94.5M557 649.5h94.5M651.5 523.5h94.5M651.5 574.5h94.5M651.5 584.5h94.5M746 654.5h94.5M746 669.5h94.5M746 673.5h94.5M840.5 471.5h94.5M840.5 522.5h94.5M840.5 590.5h94.5M935 502.5h94.5M935 663.5h94.5M1029.5 506.5h94.5M1029.5 543.5h94.5M1124 661.5h94.5M1218.5 529.5h94"/>
<path fill="#002cff" d="M179 581h94.5v2h-94.5zM273.5 484h94.5v2h-94.5zM462.5 516h94.5v2h-94.5zM840.5 618h94.5v2h-94.5z"/>
<path stroke="#0030f8" d="M651.5 624.5h94.5"/>
<path stroke="#0030ff" d="M179 498.5h94.5M179 506.5h94.5M179 514.5h94.5M179 643.5h94.5M273.5 542.5h94.5M273.5 633.5h94.5M273.5 652.5h94.5M273.5 688.5h94.5M368 449.5h94.5M368 534.5h94.5M462.5 438.5h94.5M462.5 448.5h94.5M462.5 464.5h94.5M462.5 523.5h94.5M462.5 581.5h94.5M462.5 655.5h94.5M557 445.5h94.5M557 506.5h94.5M557 597.5h94.5M557 619.5h94.5M557 642.5h94.5M651.5 493.5h94.5M651.5 685.5h94.5M746 460.5h94.5M746 532.5h94.5M840.5 478.5h94.5M840.5 505.5h94.5M840.5 514.5h94.5M840.5 526.5h94.5M840.5 646.5h94.5M935 499.5h94.5M935 581.5h94.5M935 610.5h94.5M935 655.5h94.5M1029.5 450.5h94.5M1029.5 507.5h94.5M1029.5 533.5h94.5M1029.5 585.5h94.5M1029.5 614.5h94.5M1029.5 671.5h94.5M1124 615.5h94.5M1124 689.5h94.5M1218.5 490.5h94"/>
<path fill="#0030ff" d="M179 686h94.5v2h-94.5zM557 661h94.5v2h-94.5zM840.5 633h94.5v2h-94.5z"/>
<path stroke="#0034ff" d="M179 449.5h94.5M179 460.5h94.5M179 655.5h94.5M273.5 504.5h94.5M273.5 512.5h94.5M273.5 549.5h94.5M273.5 621.5h94.5M273.5 676.5h94.5M368 455.5h94.5M368 469.5h94.5M462.5 514.5h94.5M462.5 543.5h94.5M462.5 649.5h94.5M462.5 678.5h94.5M557 450.5h94.5M557 609.5h94.5M651.5 491.5h94.5M651.5 496.5h94.5M651.5 533.5h94.5M651.5 687.5h94.5M746 462.5h94.5M746 501.5h94.5M746 634.5h94.5M746 639.5h94.5M746 668.5h94.5M840.5 532.5h94.5M840.5 641.5h94.5M840.5 671.5h94.5M840.5 689.5h94.5M935 449.5h94.5M935 492.5h94.5M935 517.5h94.5M935 679.5h94.5M1029.5 462.5h94.5M1029.5 544.5h94.5M1029.5 662.5h94.5M1124 489.5h94.5M1124 542.5h94.5M1124 610.5h94.5M1218.5 480.5h94M1218.5 495.5h94M1218.5 686.5h94"/>
<path stroke="#0038f4" d="M935 496.5h94.5"/>
<path stroke="#0038ff" d="M179 469.5h94.5M179 472.5h94.5M179 554.5h94.5M179 609.5h94.5M273.5 463.5h94.5M273.5 531.5h94.5M273.5 610.5h94.5M273.5 619.5h94.5M368 522.5h94.5M368 617.5h94.5M368 645.5h94.5M462.5 444.5h94.5M462.5 499.5h94.5M462.5 580.5h94.5M462.5 627.5h94.5M557 537.5h94.5M557 585.5h94.5M557 621.5h94.5M557 685.5h94.5M651.5 473.5h94.5M651.5 499.5h94.5M651.5 642.5h94.5M651.5 663.5h94.5M651.5 679.5h94.5M746 468.5h94.5M746 486.5h94.5M746 526.5h94.5M840.5 492.5h94.5M840.5 629.5h94.5M935 455.5h94.5M1029.5 463.5h94.5M1029.5 499.5h94.5M1029.5 526.5h94.5M1029.5 617.5h94.5M1124 621.5h94.5M1124 638.5h94.5M1124 680.5h94.5M1218.5 581.5h94M1218.5 649.5h94M1218.5 667.5h94M1218.5 673.5h94"/>
<path stroke="#003cfc" d="M179 500.5h94.5"/>
<path stroke="#003cff" d="M179 523.5h94.5M179 620.5h94.5M179 629.5h94.5M273.5 479.5h94.5M273.5 506.5h94.5M273.5 636.5h94.5M273.5 653.5h94.5M273.5 667.5h94.5M368 444.5h94.5M368 492.5h94.5M368 553.5h94.5M368 578.5h94.5M368 660.5h94.5M462.5 500.5h94.5M462.5 505.5h94.5M557 523.5h94.5M557 630.5h94.5M557 636.5h94.5M651.5 492.5h94.5M651.5 632.5h94.5M651.5 637.5h94.5M651.5 662.5h94.5M651.5 676.5h94.5M746 455.5h94.5M746 478.5h94.5M746 489.5h94.5M746 619.5h94.5M746 647.5h94.5M746 661.5h94.5M746 679.5h94.5M746 689.5h94.5M840.5 637.5h94.5M840.5 662.5h94.5M935 462.5h94.5M935 474.5h94.5M935 481.5h94.5M935 639.5h94.5M935 684.5h94.5M1029.5 464.5h94.5M1029.5 501.5h94.5M1029.5 572.5h94.5M1029.5 615.5h94.5M1029.5 687.5h94.5M1124 481.5h94.5M1124 500.5h94.5M1124 523.5h94.5M1124 543.5h94.5M1124 628.5h94.5M1124 655.5h94.5M1218.5 523.5h94M1218.5 612.5h94M1218.5 632.5h94M1218.5 639.5h94"/>
<path fill="#003cff" d="M651.5 582h94.5v2h-94.5z"/>
<path stroke="#0040ff" d="M179 534.5h94.5M179 614.5h94.5M179 649.5h94.5M273.5 473.5h94.5M273.5 580.5h94.5M273.5 646.5h94.5M368 489.5h94.5M368 629.5h94.5M368 685.5h94.5M462.5 480.5h94.5M462.5 534.5h94.5M462.5 585.5h94.5M557 444.5h94.5M557 449.5h94.5M557 489.5h94.5M557 524.5h94.5M557 679.5h94.5M651.5 518.5h94.5M651.5 647.5h94.5M651.5 670.5h94.5M746 514.5h94.5M746 631.5h94.5M746 665.5h94.5M840.5 525.5h94.5M840.5 583.5h94.5M840.5 585.5h94.5M840.5 648.5h94.5M840.5 668.5h94.5M935 506.5h94.5M935 515.5h94.5M935 544.5h94.5M935 563.5h94.5M1029.5 487.5h94.5M1029.5 494.5h94.5M1029.5 536.5h94.5M1029.5 670.5h94.5M1124 619.5h94.5M1124 688.5h94.5M1218.5 489.5h94M1218.5 611.5h94M1218.5 655.5h94"/>
<path fill="#0040ff" d="M273.5 660h94.5v2h-94.5z"/>
<path stroke="#0044ff" d="M273.5 490.5h94.5M273.5 615.5h94.5M273.5 638.5h94.5M368 505.5h94.5M368 581.5h94.5M368 640.5h94.5M368 687.5h94.5M462.5 455.5h94.5M462.5 506.5h94.5M462.5 532.5h94.5M462.5 582.5h94.5M462.5 611.5h94.5M462.5 619.5h94.5M462.5 624.5h94.5M557 584.5h94.5M557 618.5h94.5M651.5 449.5h94.5M651.5 508.5h94.5M651.5 541.5h94.5M651.5 648.5h94.5M746 471.5h94.5M746 505.5h94.5M746 667.5h94.5M840.5 449.5h94.5M840.5 470.5h94.5M840.5 506.5h94.5M840.5 536.5h94.5M935 487.5h94.5M935 501.5h94.5M935 507.5h94.5M935 516.5h94.5M935 575.5h94.5M935 586.5h94.5M935 662.5h94.5M935 670.5h94.5M1029.5 473.5h94.5M1029.5 524.5h94.5M1029.5 539.5h94.5M1029.5 548.5h94.5M1029.5 648.5h94.5M1124 501.5h94.5M1124 524.5h94.5M1218.5 500.5h94M1218.5 623.5h94M1218.5 626.5h94M1218.5 661.5h94"/>
<path stroke="#0048ff" d="M179 524.5h94.5M368 579.5h94.5M368 620.5h94.5M462.5 443.5h94.5M462.5 636.5h94.5M462.5 661.5h94.5M557 610.5h94.5M557 670.5h94.5M557 687.5h94.5M651.5 500.5h94.5M651.5 615.5h94.5M746 524.5h94.5M746 582.5h94.5M746 641.5h94.5M746 666.5h94.5M840.5 481.5h94.5M840.5 640.5h94.5M840.5 680.5h94.5M840.5 688.5h94.5M935 589.5h94.5M935 616.5h94.5M935 630.5h94.5M935 687.5h94.5M1029.5 525.5h94.5M1029.5 632.5h94.5M1029.5 677.5h94.5M1124 531.5h94.5M1124 585.5h94.5M1124 640.5h94.5M1124 643.5h94.5M1124 648.5h94.5M1124 662.5h94.5M1124 669.5h94.5M1218.5 531.5h94M1218.5 580.5h94"/>
<path fill="#0048ff" d="M368 461h94.5v2h-94.5z"/>
<path stroke="#004cff" d="M179 461.5h94.5M179 495.5h94.5M273.5 464.5h94.5M273.5 500.5h94.5M273.5 538.5h94.5M273.5 618.5h94.5M273.5 640.5h94.5M368 481.5h94.5M368 543.5h94.5M462.5 463.5h94.5M462.5 474.5h94.5M462.5 524.5h94.5M462.5 540.5h94.5M462.5 542.5h94.5M557 467.5h94.5M557 484.5h94.5M557 547.5h94.5M557 573.5h94.5M557 611.5h94.5M651.5 472.5h94.5M651.5 484.5h94.5M651.5 524.5h94.5M651.5 526.5h94.5M651.5 581.5h94.5M746 469.5h94.5M746 506.5h94.5M746 616.5h94.5M746 675.5h94.5M840.5 535.5h94.5M935 483.5h94.5M935 551.5h94.5M935 580.5h94.5M935 618.5h94.5M935 636.5h94.5M935 648.5h94.5M1029.5 471.5h94.5M1029.5 576.5h94.5M1124 629.5h94.5M1124 644.5h94.5M1218.5 479.5h94M1218.5 551.5h94M1218.5 662.5h94M1218.5 683.5h94"/>
<path fill="#004cff" d="M368 523h94.5v2h-94.5zM557 531h94.5v2h-94.5z"/>
<path stroke="#0050ff" d="M179 489.5h94.5M179 669.5h94.5M273.5 495.5h94.5M273.5 523.5h94.5M273.5 579.5h94.5M368 541.5h94.5M368 577.5h94.5M462.5 491.5h94.5M462.5 626.5h94.5M462.5 648.5h94.5M462.5 669.5h94.5M462.5 685.5h94.5M557 460.5h94.5M557 479.5h94.5M557 543.5h94.5M557 635.5h94.5M557 648.5h94.5M651.5 479.5h94.5M651.5 502.5h94.5M651.5 537.5h94.5M746 470.5h94.5M840.5 460.5h94.5M840.5 670.5h94.5M935 493.5h94.5M935 525.5h94.5M935 546.5h94.5M935 562.5h94.5M1029.5 472.5h94.5M1029.5 636.5h94.5M1029.5 647.5h94.5M1124 487.5h94.5M1124 636.5h94.5M1124 671.5h94.5"/>
<path fill="#0050ff" d="M651.5 461h94.5v2h-94.5z"/>
<path stroke="#0054ff" d="M179 617.5h94.5M179 638.5h94.5M179 648.5h94.5M179 678.5h94.5M273.5 505.5h94.5M273.5 534.5h94.5M368 479.5h94.5M368 580.5h94.5M368 621.5h94.5M368 646.5h94.5M368 678.5h94.5M368 686.5h94.5M462.5 461.5h94.5M462.5 583.5h94.5M557 647.5h94.5M557 686.5h94.5M651.5 487.5h94.5M651.5 516.5h94.5M651.5 617.5h94.5M651.5 641.5h94.5M651.5 669.5h94.5M651.5 686.5h94.5M746 535.5h94.5M840.5 469.5h94.5M840.5 486.5h94.5M840.5 495.5h94.5M840.5 523.5h94.5M840.5 537.5h94.5M840.5 617.5h94.5M840.5 661.5h94.5M935 524.5h94.5M1029.5 500.5h94.5M1029.5 620.5h94.5M1029.5 678.5h94.5M1124 575.5h94.5M1124 626.5h94.5M1124 630.5h94.5M1124 649.5h94.5M1124 677.5h94.5M1218.5 669.5h94"/>
<path stroke="#0058ff" d="M179 619.5h94.5M179 633.5h94.5M179 635.5h94.5M273.5 522.5h94.5M368 499.5h94.5M368 540.5h94.5M368 544.5h94.5M368 547.5h94.5M462.5 584.5h94.5M557 468.5h94.5M557 615.5h94.5M651.5 517.5h94.5M746 461.5h94.5M840.5 524.5h94.5M840.5 542.5h94.5M840.5 647.5h94.5M935 535.5h94.5M935 545.5h94.5M935 685.5h94.5M1029.5 635.5h94.5M1029.5 679.5h94.5M1124 622.5h94.5M1218.5 494.5h94M1218.5 621.5h94M1218.5 640.5h94M1218.5 648.5h94"/>
<path fill="#0058ff" d="M935 472h94.5v2h-94.5z"/>
<path stroke="#005cff" d="M179 471.5h94.5M273.5 630.5h94.5M368 542.5h94.5M368 615.5h94.5M368 623.5h94.5M368 668.5h94.5M462.5 471.5h94.5M462.5 675.5h94.5M462.5 684.5h94.5M557 677.5h94.5M651.5 471.5h94.5M840.5 500.5h94.5M935 491.5h94.5M935 538.5h94.5M935 686.5h94.5M1029.5 489.5h94.5M1029.5 579.5h94.5M1124 553.5h94.5M1218.5 675.5h94"/>
<path fill="#005cff" d="M368 470h94.5v3h-94.5z"/>
<path stroke="#0060ff" d="M179 470.5h94.5M179 539.5h94.5M179 676.5h94.5M273.5 578.5h94.5M273.5 668.5h94.5M273.5 677.5h94.5M368 495.5h94.5M368 533.5h94.5M462.5 449.5h94.5M557 539.5h94.5M651.5 483.5h94.5M746 525.5h94.5M746 617.5h94.5M840.5 615.5h94.5M935 500.5h94.5M935 534.5h94.5M935 634.5h94.5M935 669.5h94.5M1124 572.5h94.5M1218.5 636.5h94M1218.5 642.5h94"/>
<path stroke="#0064ff" d="M179 533.5h94.5M179 630.5h94.5M179 636.5h94.5M273.5 489.5h94.5M368 616.5h94.5M462.5 487.5h94.5M462.5 553.5h94.5M462.5 617.5h94.5M462.5 668.5h94.5M557 500.5h94.5M557 634.5h94.5M651.5 616.5h94.5M651.5 638.5h94.5M746 481.5h94.5M840.5 620.5h94.5M840.5 677.5h94.5M935 622.5h94.5M1218.5 624.5h94"/>
<path stroke="#0068ff" d="M179 618.5h94.5M179 677.5h94.5M273.5 548.5h94.5M273.5 679.5h94.5M368 631.5h94.5M368 676.5h94.5M462.5 462.5h94.5M462.5 492.5h94.5M462.5 533.5h94.5M462.5 554.5h94.5M462.5 579.5h94.5M557 477.5h94.5M557 669.5h94.5M651.5 482.5h94.5M746 493.5h94.5M746 533.5h94.5M746 688.5h94.5M840.5 541.5h94.5M935 482.5h94.5M1029.5 552.5h94.5M1124 624.5h94.5M1124 639.5h94.5M1218.5 674.5h94"/>
<path stroke="#006cff" d="M179 642.5h94.5M273.5 617.5h94.5M273.5 622.5h94.5M462.5 490.5h94.5M462.5 642.5h94.5M557 488.5h94.5M557 499.5h94.5M557 624.5h94.5M557 638.5h94.5M651.5 678.5h94.5M746 687.5h94.5M840.5 534.5h94.5M840.5 584.5h94.5M935 641.5h94.5M1029.5 479.5h94.5M1029.5 623.5h94.5M1029.5 638.5h94.5M1124 579.5h94.5M1124 631.5h94.5"/>
<path fill="#006cff" d="M1218.5 487h94v2h-94z"/>
<path stroke="#0070ff" d="M368 532.5h94.5M462.5 473.5h94.5M557 492.5h94.5M557 546.5h94.5M557 631.5h94.5M557 678.5h94.5M651.5 525.5h94.5M651.5 547.5h94.5M651.5 639.5h94.5M651.5 677.5h94.5M746 618.5h94.5M840.5 533.5h94.5M840.5 616.5h94.5M840.5 630.5h94.5M935 617.5h94.5M1029.5 629.5h94.5M1029.5 641.5h94.5M1124 494.5h94.5"/>
<path fill="#0070ff" d="M935 587h94.5v2h-94.5zM1029.5 537h94.5v2h-94.5z"/>
<path stroke="#0074ff" d="M179 479.5h94.5M179 481.5h94.5M179 615.5h94.5M273.5 493.5h94.5M273.5 678.5h94.5M368 677.5h94.5M462.5 472.5h94.5M462.5 482.5h94.5M462.5 561.5h94.5M557 538.5h94.5M557 548.5h94.5M651.5 494.5h94.5M746 534.5h94.5M746 640.5h94.5M840.5 543.5h94.5M935 640.5h94.5M1029.5 481.5h94.5M1124 617.5h94.5M1124 679.5h94.5"/>
<path stroke="#0078ff" d="M179 576.5h94.5M179 616.5h94.5M273.5 577.5h94.5M273.5 616.5h94.5M273.5 624.5h94.5M368 538.5h94.5M368 622.5h94.5M462.5 493.5h94.5M462.5 539.5h94.5M557 495.5h94.5M557 633.5h94.5M557 641.5h94.5M651.5 489.5h94.5M651.5 532.5h94.5M651.5 630.5h94.5M746 544.5h94.5M840.5 479.5h94.5M840.5 488.5h94.5M840.5 578.5h94.5M840.5 669.5h94.5M935 532.5h94.5M935 631.5h94.5M935 635.5h94.5M1124 488.5h94.5M1124 548.5h94.5M1124 552.5h94.5M1124 554.5h94.5M1124 566.5h94.5M1124 616.5h94.5M1124 620.5h94.5M1124 670.5h94.5M1218.5 617.5h94M1218.5 685.5h94"/>
<path fill="#0078ff" d="M273.5 532h94.5v2h-94.5z"/>
<path stroke="#007cff" d="M179 621.5h94.5M273.5 480.5h94.5M462.5 677.5h94.5M557 487.5h94.5M651.5 501.5h94.5M651.5 580.5h94.5M651.5 640.5h94.5M935 533.5h94.5M1029.5 480.5h94.5M1124 495.5h94.5M1124 565.5h94.5M1124 678.5h94.5"/>
<path fill="#007cff" d="M1124 641h94.5v2h-94.5z"/>
<path stroke="#0080ff" d="M179 499.5h94.5M368 554.5h94.5M462.5 548.5h94.5M462.5 632.5h94.5M462.5 676.5h94.5M557 485.5h94.5M651.5 539.5h94.5M746 540.5h94.5M746 632.5h94.5M840.5 538.5h94.5M935 624.5h94.5M1029.5 495.5h94.5M1029.5 567.5h94.5M1218.5 579.5h94M1218.5 635.5h94M1218.5 684.5h94"/>
<path stroke="#0084ff" d="M273.5 499.5h94.5M273.5 631.5h94.5M368 638.5h94.5M462.5 495.5h94.5M557 549.5h94.5M557 617.5h94.5M557 622.5h94.5M840.5 638.5h94.5M935 536.5h94.5M1218.5 668.5h94"/>
<path fill="#0084ff" d="M840.5 678h94.5v2h-94.5zM935 677h94.5v2h-94.5z"/>
<path stroke="#0088ff" d="M273.5 539.5h94.5M273.5 541.5h94.5M273.5 544.5h94.5M273.5 550.5h94.5M368 576.5h94.5M368 630.5h94.5M462.5 481.5h94.5M462.5 625.5h94.5M557 478.5h94.5M651.5 565.5h94.5M651.5 571.5h94.5M746 500.5h94.5M840.5 499.5h94.5M840.5 540.5h94.5M840.5 621.5h94.5M840.5 632.5h94.5M935 490.5h94.5M1029.5 488.5h94.5M1029.5 555.5h94.5M1029.5 621.5h94.5M1218.5 678.5h94"/>
<path stroke="#008cff" d="M179 545.5h94.5M273.5 481.5h94.5M273.5 547.5h94.5M368 480.5h94.5M368 488.5h94.5M368 493.5h94.5M557 494.5h94.5M557 616.5h94.5M651.5 631.5h94.5M746 479.5h94.5M840.5 480.5h94.5M840.5 639.5h94.5M935 623.5h94.5M935 633.5h94.5M1029.5 577.5h94.5M1218.5 634.5h94"/>
<path stroke="#0090ff" d="M179 480.5h94.5M179 541.5h94.5M179 550.5h94.5M179 555.5h94.5M273.5 639.5h94.5M462.5 550.5h94.5M462.5 578.5h94.5M462.5 641.5h94.5M651.5 480.5h94.5M651.5 548.5h94.5M651.5 566.5h94.5M651.5 622.5h94.5M746 480.5h94.5M746 556.5h94.5M935 494.5h94.5M1029.5 639.5h94.5"/>
<path stroke="#0094ff" d="M368 552.5h94.5M557 572.5h94.5M557 639.5h94.5M746 495.5h94.5M746 499.5h94.5M746 633.5h94.5M840.5 494.5h94.5M840.5 539.5h94.5M840.5 547.5h94.5M840.5 623.5h94.5M935 537.5h94.5M1029.5 578.5h94.5M1029.5 631.5h94.5M1029.5 640.5h94.5M1124 551.5h94.5M1218.5 633.5h94M1218.5 676.5h94"/>
<path stroke="#0098ff" d="M462.5 635.5h94.5M651.5 481.5h94.5M651.5 544.5h94.5M651.5 553.5h94.5M651.5 623.5h94.5M840.5 493.5h94.5M840.5 577.5h94.5M1029.5 622.5h94.5M1124 635.5h94.5M1218.5 625.5h94"/>
<path fill="#0098ff" d="M1124 549h94.5v2h-94.5z"/>
<path stroke="#009cff" d="M179 487.5h94.5M368 487.5h94.5M462.5 494.5h94.5M462.5 560.5h94.5M462.5 618.5h94.5M557 486.5h94.5M1029.5 630.5h94.5M1124 576.5h94.5"/>
<path stroke="#00a0ff" d="M179 494.5h94.5M179 572.5h94.5M179 641.5h94.5M273.5 487.5h94.5M273.5 494.5h94.5M368 639.5h94.5M462.5 552.5h94.5M557 493.5h94.5M557 554.5h94.5M840.5 622.5h94.5M935 571.5h94.5M1124 623.5h94.5M1218.5 620.5h94M1218.5 677.5h94"/>
<path stroke="#00a4ff" d="M179 631.5h94.5M368 494.5h94.5M462.5 577.5h94.5M651.5 538.5h94.5M651.5 579.5h94.5M746 558.5h94.5M746 676.5h94.5M935 570.5h94.5"/>
<path fill="#00a4ff" d="M935 488h94.5v2h-94.5z"/>
<path stroke="#00a8ff" d="M179 488.5h94.5M179 547.5h94.5M179 639.5h94.5M462.5 562.5h94.5M557 640.5h94.5M746 543.5h94.5M746 678.5h94.5M840.5 487.5h94.5M935 495.5h94.5M935 632.5h94.5M1124 578.5h94.5M1218.5 558.5h94"/>
<path stroke="#00acff" d="M179 632.5h94.5M273.5 632.5h94.5M557 553.5h94.5M651.5 575.5h94.5M746 677.5h94.5M935 574.5h94.5M1029.5 566.5h94.5M1124 577.5h94.5M1124 632.5h94.5M1218.5 618.5h94M1218.5 641.5h94"/>
<path stroke="#00b0ff" d="M179 540.5h94.5M273.5 553.5h94.5M273.5 623.5h94.5M368 539.5h94.5M368 549.5h94.5M462.5 549.5h94.5M1029.5 561.5h94.5M1218.5 572.5h94"/>
<path fill="#00b0ff" d="M746 487h94.5v2h-94.5z"/>
<path stroke="#00b4ff" d="M179 571.5h94.5M179 623.5h94.5M179 640.5h94.5M273.5 488.5h94.5M368 575.5h94.5M557 632.5h94.5M651.5 495.5h94.5"/>
<path fill="#00b4ff" d="M462.5 488h94.5v2h-94.5z"/>
<path stroke="#00b8ff" d="M179 573.5h94.5M273.5 540.5h94.5M273.5 576.5h94.5M462.5 633.5h94.5M651.5 578.5h94.5M746 494.5h94.5M746 577.5h94.5M935 572.5h94.5M1029.5 549.5h94.5"/>
<path stroke="#00bcff" d="M651.5 488.5h94.5M651.5 554.5h94.5M746 545.5h94.5M840.5 631.5h94.5M935 552.5h94.5M1218.5 552.5h94M1218.5 619.5h94"/>
<path stroke="#00c0ff" d="M651.5 546.5h94.5M746 581.5h94.5M1029.5 560.5h94.5M1124 555.5h94.5M1218.5 559.5h94"/>
<path fill="#00c0ff" d="M462.5 545h94.5v2h-94.5z"/>
<path stroke="#00c4ff" d="M179 622.5h94.5M462.5 576.5h94.5M557 623.5h94.5M746 578.5h94.5M935 556.5h94.5M1218.5 557.5h94M1218.5 573.5h94"/>
<path stroke="#00c8ff" d="M462.5 634.5h94.5M557 544.5h94.5M651.5 545.5h94.5M840.5 576.5h94.5M1218.5 578.5h94"/>
<path stroke="#00ccff" d="M557 552.5h94.5M746 576.5h94.5M935 555.5h94.5M935 573.5h94.5M1124 634.5h94.5"/>
<path stroke="#00d0ff" d="M179 575.5h94.5M368 574.5h94.5M840.5 544.5h94.5M935 561.5h94.5M1029.5 551.5h94.5M1029.5 568.5h94.5"/>
<path fill="#00d0ff" d="M273.5 570h94.5v2h-94.5z"/>
<path stroke="#00d4ff" d="M462.5 551.5h94.5M557 545.5h94.5M935 569.5h94.5M1029.5 571.5h94.5"/>
<path stroke="#00d8ff" d="M179 574.5h94.5M651.5 577.5h94.5"/>
<path stroke="#00dcff" d="M746 579.5h94.5"/>
<path stroke="#00e0ff" d="M368 560.5h94.5M935 554.5h94.5M1218.5 556.5h94M1218.5 571.5h94M1218.5 574.5h94"/>
<path stroke="#00e4ff" d="M368 546.5h94.5M462.5 575.5h94.5M746 541.5h94.5M746 549.5h94.5M935 553.5h94.5M1029.5 550.5h94.5"/>
<path fill="#00e4ff" d="M1218.5 553h94v3h-94zM1218.5 575h94v3h-94z"/>
<path stroke="#00e8ff" d="M746 542.5h94.5M746 548.5h94.5M746 550.5h94.5M1124 556.5h94.5M1218.5 566.5h94"/>
<path stroke="#00ecfc" d="M368 559.5h94.5"/>
<path stroke="#00ecff" d="M273.5 572.5h94.5M273.5 575.5h94.5M651.5 576.5h94.5M746 571.5h94.5M746 580.5h94.5"/>
<path fill="#00ecff" d="M1124 557h94.5v2h-94.5z"/>
<path fill="#00f4ff" d="M273.5 573h94.5v2h-94.5z"/>
<path stroke="#00f8fc" d="M368 561.5h94.5M746 547.5h94.5M1124 633.5h94.5"/>
<path stroke="#00fcfc" d="M179 546.5h94.5M840.5 558.5h94.5"/>
<path stroke="#04ecfc" d="M1029.5 562.5h94.5"/>
<path stroke="#04f0f8" d="M651.5 552.5h94.5"/>
<path stroke="#04f8f8" d="M1124 559.5h94.5"/>
<path stroke="#04fcf8" d="M368 545.5h94.5"/>
<path stroke="#04fcfc" d="M179 565.5h94.5"/>
<path stroke="#04fff8" d="M273.5 563.5h94.5"/>
<path stroke="#08c0f8" d="M273.5 554.5h94.5"/>
<path stroke="#08ecf8" d="M462.5 559.5h94.5"/>
<path stroke="#08f4f4" d="M179 570.5h94.5"/>
<path stroke="#08f8f4" d="M1218.5 565.5h94"/>
<path stroke="#08f8f8" d="M1218.5 560.5h94"/>
<path stroke="#08fcf8" d="M179 564.5h94.5M746 546.5h94.5M746 572.5h94.5"/>
<path stroke="#08fff4" d="M273.5 545.5h94.5"/>
<path stroke="#0cb8f0" d="M840.5 551.5h94.5"/>
<path stroke="#0cc8f4" d="M557 579.5h94.5"/>
<path stroke="#0ce0f4" d="M651.5 564.5h94.5"/>
<path stroke="#0cfcf4" d="M746 551.5h94.5"/>
<path stroke="#10ccec" d="M179 553.5h94.5"/>
<path stroke="#10d4f0" d="M557 576.5h94.5"/>
<path stroke="#10e8f0" d="M557 571.5h94.5"/>
<path stroke="#10f4f0" d="M179 551.5h94.5"/>
<path stroke="#10fcec" d="M840.5 546.5h94.5M1029.5 565.5h94.5"/>
<path stroke="#10fcf0" d="M368 573.5h94.5"/>
<path stroke="#10fff0" d="M840.5 557.5h94.5"/>
<path stroke="#14fcec" d="M179 556.5h94.5M273.5 569.5h94.5M746 575.5h94.5"/>
<path stroke="#14ffec" d="M273.5 546.5h94.5M368 568.5h94.5M462.5 574.5h94.5M1218.5 567.5h94"/>
<path stroke="#18e8e8" d="M368 551.5h94.5"/>
<path stroke="#18f0e8" d="M651.5 567.5h94.5"/>
<path stroke="#18f4e8" d="M557 551.5h94.5"/>
<path stroke="#18f8e8" d="M935 557.5h94.5"/>
<path stroke="#18ffe8" d="M273.5 562.5h94.5M840.5 545.5h94.5M840.5 570.5h94.5"/>
<path stroke="#1ce8e0" d="M651.5 549.5h94.5"/>
<path stroke="#20ece0" d="M462.5 555.5h94.5"/>
<path stroke="#20ffdc" d="M935 568.5h94.5"/>
<path stroke="#20ffe0" d="M273.5 564.5h94.5M368 569.5h94.5M840.5 559.5h94.5M840.5 562.5h94.5M840.5 571.5h94.5M1029.5 569.5h94.5"/>
<path stroke="#24ffdc" d="M935 560.5h94.5M1029.5 563.5h94.5"/>
<path stroke="#28ffd8" d="M179 566.5h94.5M1029.5 570.5h94.5M1218.5 570.5h94"/>
<path stroke="#2cf4d4" d="M557 555.5h94.5M1124 567.5h94.5"/>
<path stroke="#2cffd0" d="M1029.5 564.5h94.5"/>
<path stroke="#2cffd4" d="M179 563.5h94.5M273.5 561.5h94.5M368 562.5h94.5"/>
<path stroke="#30f8d0" d="M557 550.5h94.5"/>
<path stroke="#30ffcc" d="M746 565.5h94.5"/>
<path stroke="#30ffd0" d="M273.5 560.5h94.5M1029.5 559.5h94.5"/>
<path stroke="#34ffc8" d="M746 573.5h94.5"/>
<path stroke="#34ffcc" d="M840.5 563.5h94.5"/>
<path stroke="#38ffc4" d="M368 570.5h94.5M1218.5 568.5h94"/>
<path stroke="#38ffc8" d="M273.5 556.5h94.5M368 572.5h94.5M840.5 569.5h94.5"/>
<path stroke="#3cecc4" d="M935 564.5h94.5"/>
<path stroke="#3cf8c4" d="M1124 564.5h94.5"/>
<path stroke="#3cffc4" d="M746 570.5h94.5M840.5 556.5h94.5"/>
<path stroke="#40ffbc" d="M368 571.5h94.5"/>
<path stroke="#40ffc0" d="M179 569.5h94.5M273.5 559.5h94.5M1218.5 561.5h94M1218.5 569.5h94"/>
<path stroke="#44fcbc" d="M1124 571.5h94.5"/>
<path stroke="#44ffb8" d="M179 567.5h94.5"/>
<path fill="#44ffb8" d="M840.5 560h94.5v2h-94.5z"/>
<path stroke="#44ffbc" d="M462.5 573.5h94.5"/>
<path stroke="#48ffb4" d="M273.5 568.5h94.5"/>
<path stroke="#48ffb8" d="M273.5 565.5h94.5M746 574.5h94.5"/>
<path stroke="#4cffb0" d="M179 562.5h94.5M273.5 555.5h94.5"/>
<path stroke="#4cffb4" d="M179 568.5h94.5M368 567.5h94.5"/>
<path stroke="#54ffac" d="M368 550.5h94.5M462.5 563.5h94.5M840.5 568.5h94.5"/>
<path fill="#54ffac" d="M179 560h94.5v2h-94.5zM273.5 566h94.5v2h-94.5zM462.5 569h94.5v4h-94.5z"/>
<path stroke="#58ffa8" d="M462.5 568.5h94.5M651.5 551.5h94.5M651.5 558.5h94.5M840.5 575.5h94.5M1029.5 556.5h94.5M1124 560.5h94.5"/>
<path stroke="#64ff98" d="M179 559.5h94.5"/>
<path stroke="#64ff9c" d="M368 558.5h94.5M746 566.5h94.5"/>
<path stroke="#68ff94" d="M179 557.5h94.5"/>
<path stroke="#68ff98" d="M273.5 551.5h94.5M368 555.5h94.5M1218.5 564.5h94"/>
<path stroke="#70ff8c" d="M651.5 555.5h94.5"/>
<path stroke="#70ff90" d="M273.5 552.5h94.5M840.5 555.5h94.5M935 559.5h94.5"/>
<path stroke="#74ff8c" d="M179 552.5h94.5"/>
<path stroke="#78ff88" d="M746 552.5h94.5M935 558.5h94.5"/>
<path fill="#800000" d="M746 561h94.5v2h-94.5z"/>
<path stroke="#80ff7c" d="M462.5 567.5h94.5M557 577.5h94.5"/>
<path stroke="#80ff80" d="M273.5 558.5h94.5M557 567.5h94.5M557 578.5h94.5M651.5 557.5h94.5M651.5 570.5h94.5M746 555.5h94.5M840.5 572.5h94.5"/>
<path stroke="#8cff70" d="M1029.5 558.5h94.5"/>
<path stroke="#90ff70" d="M935 567.5h94.5M1218.5 562.5h94"/>
<path stroke="#94ff68" d="M557 566.5h94.5"/>
<path stroke="#94ff6c" d="M651.5 550.5h94.5M746 564.5h94.5"/>
<path stroke="#98ff68" d="M368 563.5h94.5M462.5 556.5h94.5"/>
<path stroke="#9cff64" d="M557 570.5h94.5M1029.5 557.5h94.5"/>
<path stroke="#a0ff60" d="M462.5 558.5h94.5"/>
<path stroke="#a4ff5c" d="M557 558.5h94.5M651.5 563.5h94.5"/>
<path stroke="#a8ff54" d="M1124 568.5h94.5"/>
<path stroke="#b0ff4c" d="M179 558.5h94.5"/>
<path stroke="#b4ff48" d="M557 568.5h94.5"/>
<path stroke="#b4ff4c" d="M746 567.5h94.5"/>
<path stroke="#b8ff44" d="M1124 570.5h94.5"/>
<path stroke="#b8ff48" d="M840.5 567.5h94.5M1218.5 563.5h94"/>
<path stroke="#bcec44" d="M746 559.5h94.5"/>
<path stroke="#bcff44" d="M368 566.5h94.5M557 565.5h94.5M651.5 559.5h94.5"/>
<path stroke="#c0ff40" d="M557 557.5h94.5M557 559.5h94.5"/>
<path stroke="#c4ff3c" d="M557 556.5h94.5M840.5 564.5h94.5M1124 561.5h94.5M1124 569.5h94.5"/>
<path fill="#c4ff3c" d="M557 560h94.5v5h-94.5z"/>
<path stroke="#c8fc38" d="M651.5 568.5h94.5"/>
<path stroke="#c8ff38" d="M840.5 552.5h94.5"/>
<path stroke="#ccff34" d="M746 569.5h94.5M840.5 554.5h94.5M840.5 574.5h94.5M1124 563.5h94.5"/>
<path stroke="#d0ff30" d="M462.5 557.5h94.5M462.5 566.5h94.5M840.5 573.5h94.5"/>
<path stroke="#d4f42c" d="M273.5 557.5h94.5"/>
<path stroke="#e02000" d="M746 560.5h94.5"/>
<path stroke="#e0ff1c" d="M462.5 564.5h94.5"/>
<path stroke="#e84800" d="M746 563.5h94.5"/>
<path stroke="#e8ff14" d="M557 569.5h94.5"/>
<path stroke="#e8ff18" d="M1124 562.5h94.5"/>
<path stroke="#ecff14" d="M368 564.5h94.5"/>
<path stroke="#f0e010" d="M368 556.5h94.5"/>
<path stroke="#f0f410" d="M935 565.5h94.5"/>
<path stroke="#f4dc0c" d="M368 557.5h94.5"/>
<path stroke="#f4ec08" d="M746 553.5h94.5"/>
<path stroke="#f4f80c" d="M935 566.5h94.5"/>
<path stroke="#f8ec08" d="M651.5 556.5h94.5"/>
<path stroke="#f8ff08" d="M368 565.5h94.5M462.5 565.5h94.5"/>
<path stroke="#fcfc04" d="M746 568.5h94.5"/>
<path stroke="#ffa000" d="M651.5 561.5h94.5"/>
<path stroke="#ffbc00" d="M840.5 565.5h94.5"/>
<path stroke="#ffc400" d="M651.5 562.5h94.5"/>
<path stroke="#ffd000" d="M651.5 569.5h94.5M840.5 566.5h94.5"/>
<path stroke="#ffe000" d="M651.5 560.5h94.5M746 554.5h94.5"/>
<path stroke="#ffec00" d="M840.5 553.5h94.5"/>
</g>
<defs><linearGradient id="cb" x1="0" y1="0" x2="0" y2="1"><stop offset="0.0000" stop-color="#800000"/><stop offset="0.0156" stop-color="#8f0000"/><stop offset="0.0312" stop-color="#9f0000"/><stop offset="0.0469" stop-color="#af0000"/><stop offset="0.0625" stop-color="#bf0000"/><stop offset="0.0781" stop-color="#cf0000"/><stop offset="0.0938" stop-color="#df0000"/><stop offset="0.1094" stop-color="#ef0000"/><stop offset="0.1250" stop-color="#ff0000"/><stop offset="0.1406" stop-color="#ff1000"/><stop offset="0.1562" stop-color="#ff2000"/><stop offset="0.1719" stop-color="#ff3000"/><stop offset="0.1875" stop-color="#ff4000"/><stop offset="0.2031" stop-color="#ff5000"/><stop offset="0.2188" stop-color="#ff6000"/><stop offset="0.2344" stop-color="#ff7000"/><stop offset="0.2500" stop-color="#ff8000"/><stop offset="0.2656" stop-color="#ff8f00"/><stop offset="0.2812" stop-color="#ff9f00"/><stop offset="0.2969" stop-color="#ffaf00"/><stop offset="0.3125" stop-color="#ffbf00"/><stop offset="0.3281" stop-color="#ffcf00"/><stop offset="0.3438" stop-color="#ffdf00"/><stop offset="0.3594" stop-color="#ffef00"/><stop offset="0.3750" stop-color="#ffff00"/><stop offset="0.3906" stop-color="#efff10"/><stop offset="0.4062" stop-color="#dfff20"/><stop offset="0.4219" stop-color="#cfff30"/><stop offset="0.4375" stop-color="#bfff40"/><stop offset="0.4531" stop-color="#afff50"/><stop offset="0.4688" stop-color="#9fff60"/><stop offset="0.4844" stop-color="#8fff70"/><stop offset="0.5000" stop-color="#80ff80"/><stop offset="0.5156" stop-color="#70ff8f"/><stop offset="0.5312" stop-color="#60ff9f"/><stop offset="0.5469" stop-color="#50ffaf"/><stop offset="0.5625" stop-color="#40ffbf"/><stop offset="0.5781" stop-color="#30ffcf"/><stop offset="0.5938" stop-color="#20ffdf"/><stop offset="0.6094" stop-color="#10ffef"/><stop offset="0.6250" stop-color="#00ffff"/><stop offset="0.6406" stop-color="#00efff"/><stop offset="0.6562" stop-color="#00dfff"/><stop offset="0.6719" stop-color="#00cfff"/><stop offset="0.6875" stop-color="#00bfff"/><stop offset="0.7031" stop-color="#00afff"/><stop offset="0.7188" stop-color="#009fff"/><stop offset="0.7344" stop-color="#008fff"/><stop offset="0.7500" stop-color="#0080ff"/><stop offset="0.7656" stop-color="#0070ff"/><stop offset="0.7812" stop-color="#0060ff"/><stop offset="0.7969" stop-color="#0050ff"/><stop offset="0.8125" stop-color="#0040ff"/><stop offset="0.8281" stop-color="#0030ff"/><stop offset="0.8438" stop-color="#0020ff"/><stop offset="0.8594" stop-color="#0010ff"/><stop offset="0.8750" stop-color="#0000ff"/><stop offset="0.8906" stop-color="#0000ef"/><stop offset="0.9062" stop-color="#0000df"/><stop offset="0.9219" stop-color="#0000cf"/><stop offset="0.9375" stop-color="#0000bf"/><stop offset="0.9531" stop-color="#0000af"/><stop offset="0.9688" stop-color="#00009f"/><stop offset="0.9844" stop-color="#00008f"/><stop offset="1.0000" stop-color="#000080"/></linearGradient></defs>
<rect x="1346.4" y="41.2" width="64.8" height="1039.5" fill="url(#cb)"/>
<g stroke="#262626" stroke-width="1.8" fill="none">
<rect x="179.2" y="41.2" width="1133.3" height="1039.5"/>
<rect x="1346.4" y="41.2" width="64.8" height="1039.5"/>
<path d="M179.2 41.9h12.3M1312.5 41.9h-12.3M179.2 145.8h12.3M1312.5 145.8h-12.3M179.2 249.7h12.3M1312.5 249.7h-12.3M179.2 353.6h12.3M1312.5 353.6h-12.3M179.2 457.5h12.3M1312.5 457.5h-12.3M179.2 561.4h12.3M1312.5 561.4h-12.3M179.2 665.3h12.3M1312.5 665.3h-12.3M179.2 769.2h12.3M1312.5 769.2h-12.3M179.2 873.1h12.3M1312.5 873.1h-12.3M179.2 977.0h12.3M1312.5 977.0h-12.3M179.2 1080.9h12.3M1312.5 1080.9h-12.3M226.1 41.2v12.3M226.1 1080.7v-12.3M745.8 41.2v12.3M745.8 1080.7v-12.3M1265.5 41.2v12.3M1265.5 1080.7v-12.3M1411.2 986.8h-11.5M1411.2 891.4h-11.5M1411.2 796.1h-11.5M1411.2 700.8h-11.5M1411.2 605.5h-11.5M1411.2 510.1h-11.5M1411.2 414.8h-11.5M1411.2 319.5h-11.5M1411.2 224.1h-11.5M1411.2 128.8h-11.5"/>
</g>
<text class="t" transform="translate(162.8,58.2) scale(1,1.050)" text-anchor="end">-0.5</text>
<text class="t" transform="translate(162.8,162.1) scale(1,1.050)" text-anchor="end">-0.4</text>
<text class="t" transform="translate(162.8,266.0) scale(1,1.050)" text-anchor="end">-0.3</text>
<text class="t" transform="translate(162.8,369.9) scale(1,1.050)" text-anchor="end">-0.2</text>
<text class="t" transform="translate(162.8,473.8) scale(1,1.050)" text-anchor="end">-0.1</text>
<text class="t" transform="translate(162.8,577.7) scale(1,1.050)" text-anchor="end">0</text>
<text class="t" transform="translate(162.8,681.6) scale(1,1.050)" text-anchor="end">0.1</text>
<text class="t" transform="translate(162.8,785.5) scale(1,1.050)" text-anchor="end">0.2</text>
<text class="t" transform="translate(162.8,889.4) scale(1,1.050)" text-anchor="end">0.3</text>
<text class="t" transform="translate(162.8,993.3) scale(1,1.050)" text-anchor="end">0.4</text>
<text class="t" transform="translate(162.8,1097.2) scale(1,1.050)" text-anchor="end">0.5</text>
<text class="t" transform="translate(225.8,1139.3) scale(1,1.050)" text-anchor="middle">-0.5</text>
<text class="t" transform="translate(745.5,1139.3) scale(1,1.050)" text-anchor="middle">0</text>
<text class="t" transform="translate(1265.2,1139.3) scale(1,1.050)" text-anchor="middle">0.5</text>
<text class="t c" transform="translate(1427.2,1002.0) scale(1,1.050)">1</text>
<text class="t c" transform="translate(1427.2,906.6) scale(1,1.050)">2</text>
<text class="t c" transform="translate(1427.2,811.3) scale(1,1.050)">3</text>
<text class="t c" transform="translate(1427.2,716.0) scale(1,1.050)">4</text>
<text class="t c" transform="translate(1427.2,620.7) scale(1,1.050)">5</text>
<text class="t c" transform="translate(1427.2,525.3) scale(1,1.050)">6</text>
<text class="t c" transform="translate(1427.2,430.0) scale(1,1.050)">7</text>
<text class="t c" transform="translate(1427.2,334.7) scale(1,1.050)">8</text>
<text class="t c" transform="translate(1427.2,239.3) scale(1,1.050)">9</text>
<text class="t c" transform="translate(1427.2,144.0) scale(1,1.050)">10</text>
<text class="l" x="746" y="1203.7" text-anchor="middle">range frequency/Hz</text>
<text class="l" transform="translate(69,560.5) rotate(-90)" text-anchor="middle">azimuth frequency/Hz</text>
<path d="M193.50 356.00H778.55A10.5 10.5 0 0 1 789.05 366.50V557.85H193.50A10.5 10.5 0 0 1 183.00 547.35V366.50A10.5 10.5 0 0 1 193.50 356.00Z" fill="#fbfbfe" stroke="#555155" stroke-width="1.7"/>
<text class="d" x="203.5" y="417.2">[X,Y] <tspan>[0.0454545 0.000610501]</tspan></text>
<text class="d" x="203.5" y="473.1">Index <tspan>10.918</tspan></text>
<text class="d" x="203.5" y="529">[R,G,B] <tspan>[0.498039 0 0]</tspan></text>
<circle cx="793" cy="562" r="9.98" fill="#262626" stroke="#ffffe8" stroke-width="4.15"/>
</svg>
</body></html>
